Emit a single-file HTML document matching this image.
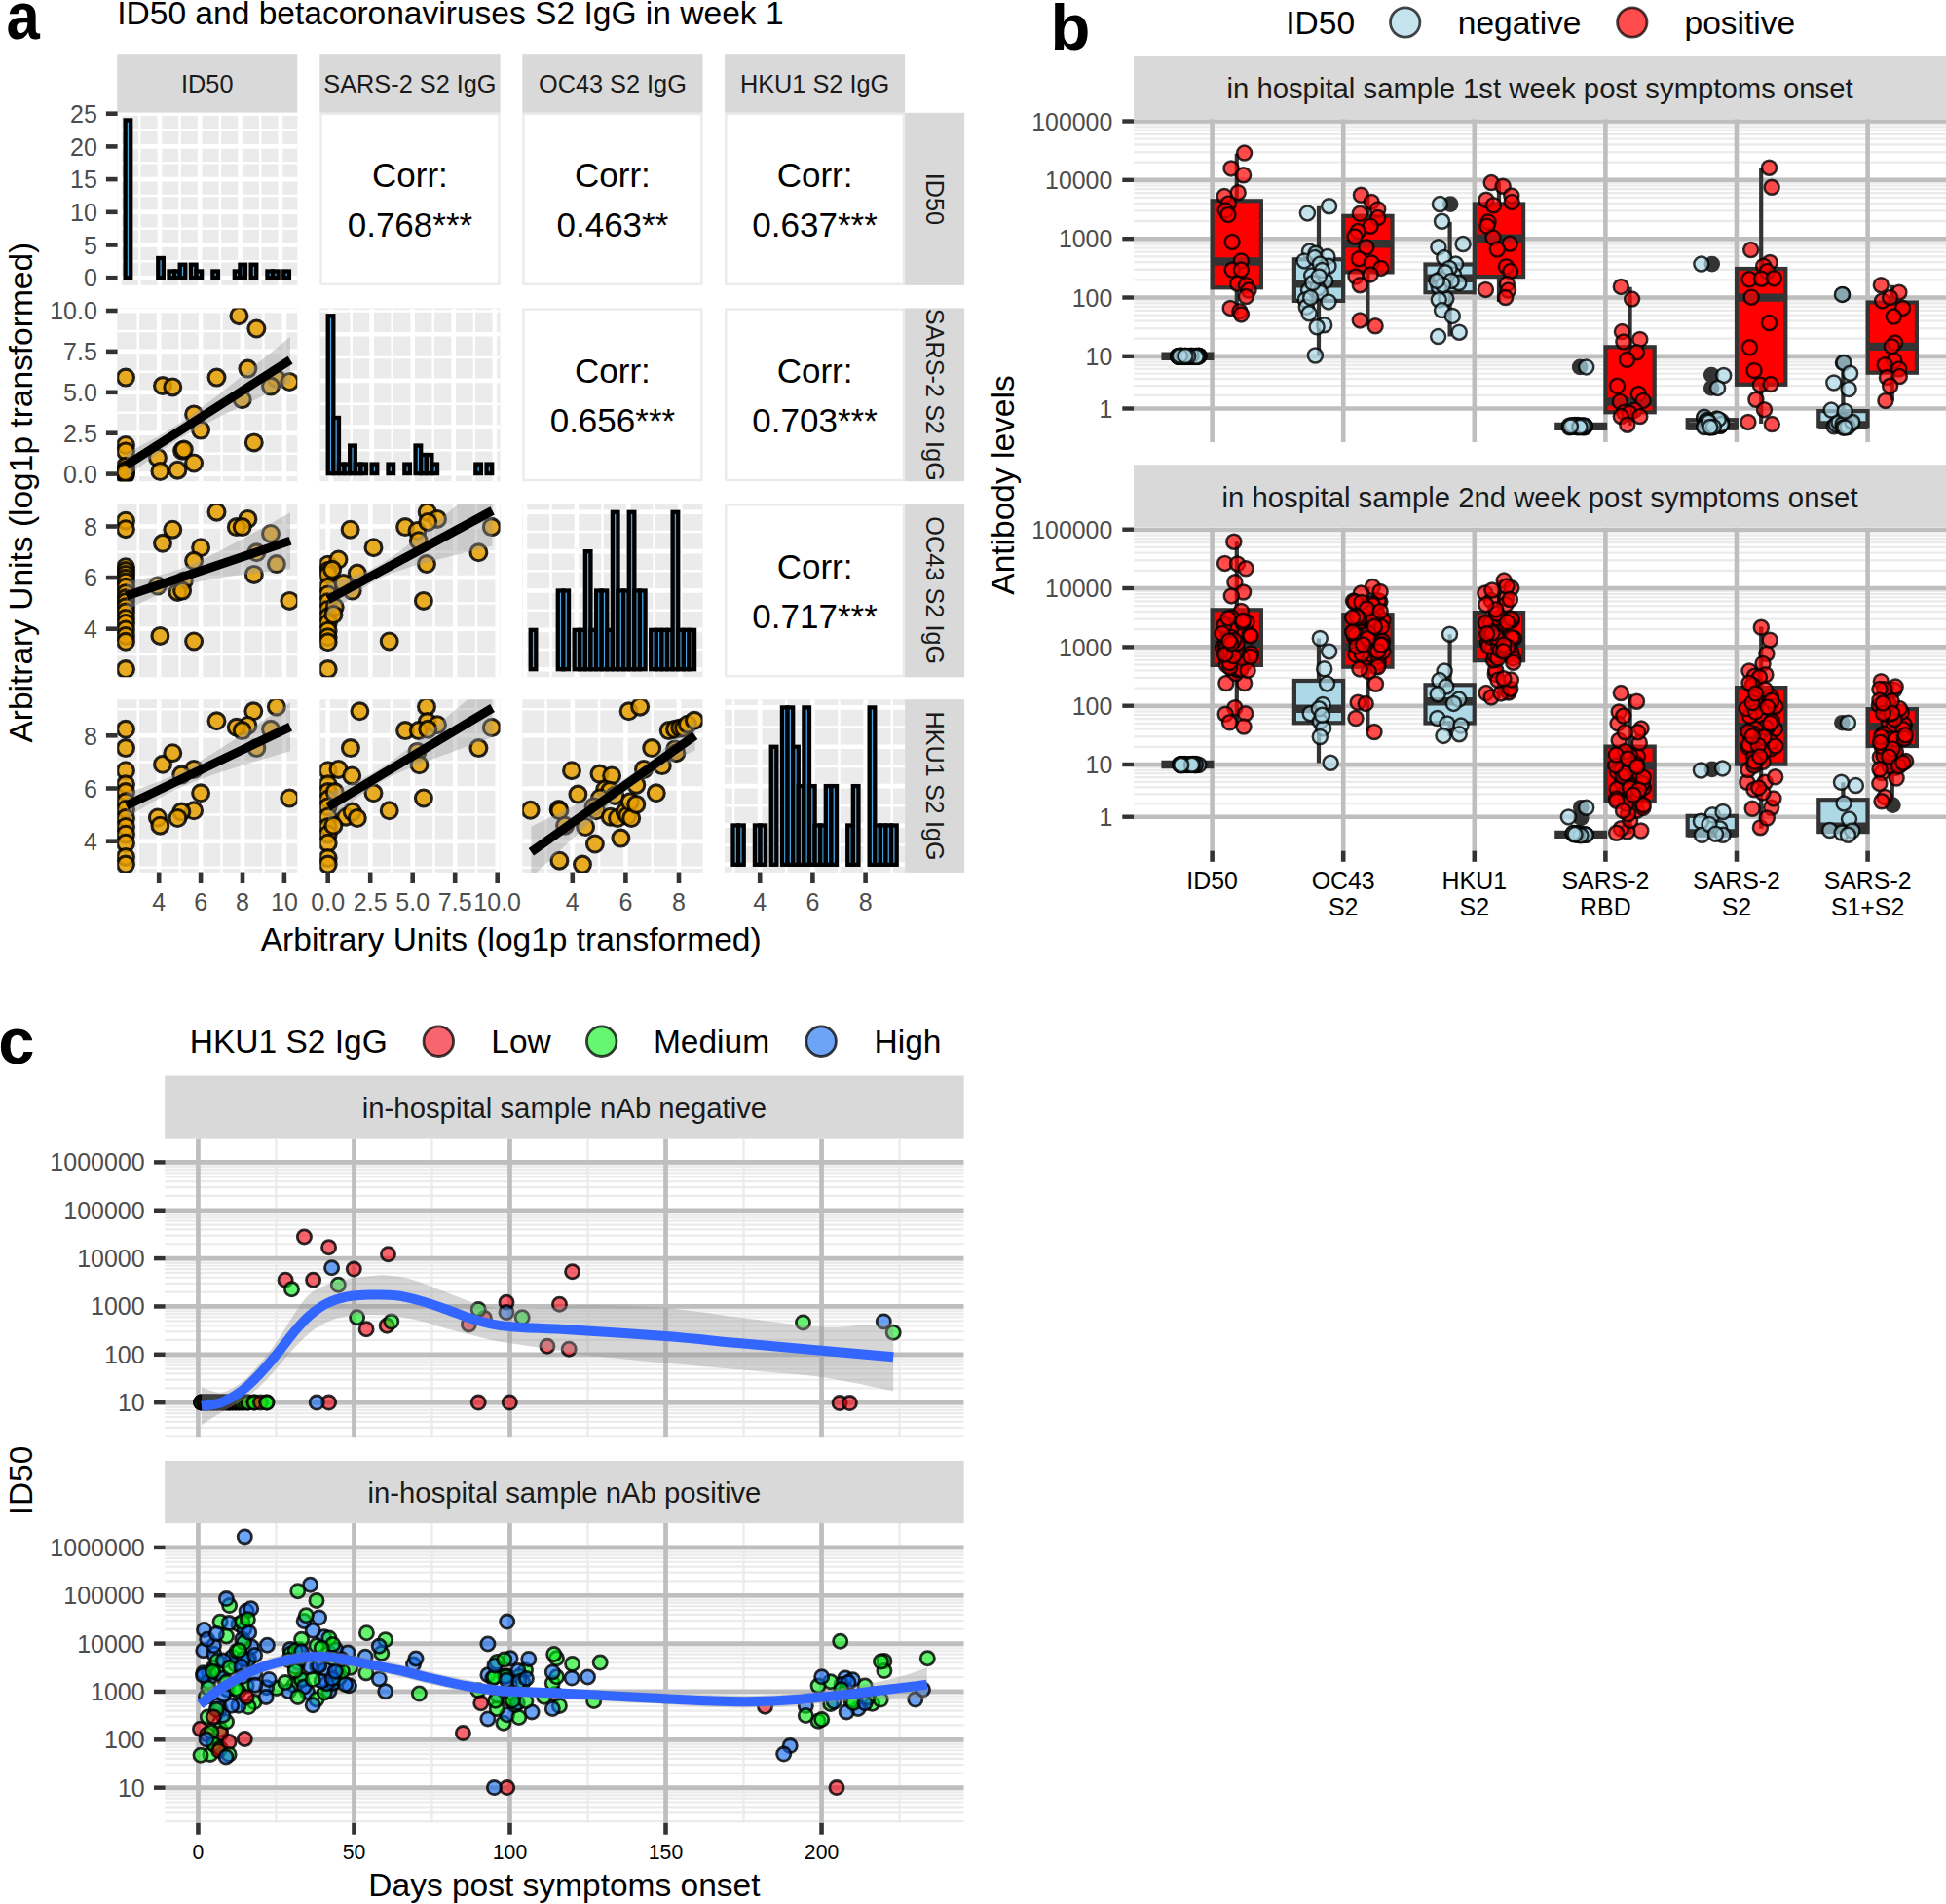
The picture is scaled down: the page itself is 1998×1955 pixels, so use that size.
<!DOCTYPE html>
<html><head><meta charset="utf-8"><title>Figure</title>
<style>html,body{margin:0;padding:0;background:#fff}svg{display:block}text{font-family:"Liberation Sans",sans-serif}</style>
</head><body>
<svg width="1998" height="1955" viewBox="0 0 1998 1955">
<rect width="1998" height="1955" fill="#fff"/>
<text transform="translate(6.6,40.2) scale(0.9,1)" font-size="68.5" font-weight="bold">a</text>
<text x="120.20" y="24.90" font-size="33.55" fill="#000" text-anchor="start" >ID50 and betacoronaviruses S2 IgG in week 1</text>
<rect x="120.20" y="55.20" width="185.10" height="60.60" fill="#D9D9D9" />
<text x="212.75" y="95.30" font-size="25.3" fill="#1A1A1A" text-anchor="middle" >ID50</text>
<rect x="328.30" y="55.20" width="185.30" height="60.60" fill="#D9D9D9" />
<text x="420.95" y="95.30" font-size="25.3" fill="#1A1A1A" text-anchor="middle" >SARS-2 S2 IgG</text>
<rect x="536.30" y="55.20" width="185.20" height="60.60" fill="#D9D9D9" />
<text x="628.90" y="95.30" font-size="25.3" fill="#1A1A1A" text-anchor="middle" >OC43 S2 IgG</text>
<rect x="744.10" y="55.20" width="185.00" height="60.60" fill="#D9D9D9" />
<text x="836.60" y="95.30" font-size="25.3" fill="#1A1A1A" text-anchor="middle" >HKU1 S2 IgG</text>
<rect x="929.10" y="115.80" width="61.00" height="177.10" fill="#D9D9D9" />
<text x="950.50" y="204.35" font-size="25.3" fill="#1A1A1A" text-anchor="middle" transform="rotate(90 950.50 204.35)" >ID50</text>
<rect x="929.10" y="316.40" width="61.00" height="177.80" fill="#D9D9D9" />
<text x="950.50" y="405.30" font-size="25.3" fill="#1A1A1A" text-anchor="middle" transform="rotate(90 950.50 405.30)" >SARS-2 S2 IgG</text>
<rect x="929.10" y="517.20" width="61.00" height="178.10" fill="#D9D9D9" />
<text x="950.50" y="606.25" font-size="25.3" fill="#1A1A1A" text-anchor="middle" transform="rotate(90 950.50 606.25)" >OC43 S2 IgG</text>
<rect x="929.10" y="718.20" width="61.00" height="177.70" fill="#D9D9D9" />
<text x="950.50" y="807.05" font-size="25.3" fill="#1A1A1A" text-anchor="middle" transform="rotate(90 950.50 807.05)" >HKU1 S2 IgG</text>
<rect x="120.20" y="115.80" width="185.10" height="177.10" fill="#EBEBEB" />
<clipPath id="c1"><rect x="120.20" y="115.80" width="185.10" height="177.10"/></clipPath><g clip-path="url(#c1)">
<line x1="143.24" y1="115.80" x2="143.24" y2="292.90" stroke="#fff" stroke-width="2.5" />
<line x1="184.56" y1="115.80" x2="184.56" y2="292.90" stroke="#fff" stroke-width="2.5" />
<line x1="225.88" y1="115.80" x2="225.88" y2="292.90" stroke="#fff" stroke-width="2.5" />
<line x1="267.20" y1="115.80" x2="267.20" y2="292.90" stroke="#fff" stroke-width="2.5" />
<line x1="122.58" y1="115.80" x2="122.58" y2="292.90" stroke="#fff" stroke-width="4.6" />
<line x1="163.90" y1="115.80" x2="163.90" y2="292.90" stroke="#fff" stroke-width="4.6" />
<line x1="205.22" y1="115.80" x2="205.22" y2="292.90" stroke="#fff" stroke-width="4.6" />
<line x1="246.54" y1="115.80" x2="246.54" y2="292.90" stroke="#fff" stroke-width="4.6" />
<line x1="287.86" y1="115.80" x2="287.86" y2="292.90" stroke="#fff" stroke-width="4.6" />
<line x1="120.20" y1="268.35" x2="305.30" y2="268.35" stroke="#fff" stroke-width="2.5" />
<line x1="120.20" y1="234.65" x2="305.30" y2="234.65" stroke="#fff" stroke-width="2.5" />
<line x1="120.20" y1="200.95" x2="305.30" y2="200.95" stroke="#fff" stroke-width="2.5" />
<line x1="120.20" y1="167.25" x2="305.30" y2="167.25" stroke="#fff" stroke-width="2.5" />
<line x1="120.20" y1="133.55" x2="305.30" y2="133.55" stroke="#fff" stroke-width="2.5" />
<line x1="120.20" y1="285.20" x2="305.30" y2="285.20" stroke="#fff" stroke-width="4.6" />
<line x1="120.20" y1="251.50" x2="305.30" y2="251.50" stroke="#fff" stroke-width="4.6" />
<line x1="120.20" y1="217.80" x2="305.30" y2="217.80" stroke="#fff" stroke-width="4.6" />
<line x1="120.20" y1="184.10" x2="305.30" y2="184.10" stroke="#fff" stroke-width="4.6" />
<line x1="120.20" y1="150.40" x2="305.30" y2="150.40" stroke="#fff" stroke-width="4.6" />
<line x1="120.20" y1="116.70" x2="305.30" y2="116.70" stroke="#fff" stroke-width="4.6" />
<rect x="128.61" y="123.44" width="5.61" height="161.76" fill="#4AA3DF" stroke="#000" stroke-width="4.3"/>
<rect x="162.27" y="264.98" width="5.61" height="20.22" fill="#4AA3DF" stroke="#000" stroke-width="4.3"/>
<rect x="173.49" y="278.46" width="5.61" height="6.74" fill="#4AA3DF" stroke="#000" stroke-width="4.3"/>
<rect x="179.10" y="278.46" width="5.61" height="6.74" fill="#4AA3DF" stroke="#000" stroke-width="4.3"/>
<rect x="184.70" y="271.72" width="5.61" height="13.48" fill="#4AA3DF" stroke="#000" stroke-width="4.3"/>
<rect x="195.92" y="271.72" width="5.61" height="13.48" fill="#4AA3DF" stroke="#000" stroke-width="4.3"/>
<rect x="201.53" y="278.46" width="5.61" height="6.74" fill="#4AA3DF" stroke="#000" stroke-width="4.3"/>
<rect x="218.36" y="278.46" width="5.61" height="6.74" fill="#4AA3DF" stroke="#000" stroke-width="4.3"/>
<rect x="240.80" y="278.46" width="5.61" height="6.74" fill="#4AA3DF" stroke="#000" stroke-width="4.3"/>
<rect x="246.40" y="271.72" width="5.61" height="13.48" fill="#4AA3DF" stroke="#000" stroke-width="4.3"/>
<rect x="257.62" y="271.72" width="5.61" height="13.48" fill="#4AA3DF" stroke="#000" stroke-width="4.3"/>
<rect x="274.45" y="278.46" width="5.61" height="6.74" fill="#4AA3DF" stroke="#000" stroke-width="4.3"/>
<rect x="280.06" y="278.46" width="5.61" height="6.74" fill="#4AA3DF" stroke="#000" stroke-width="4.3"/>
<rect x="291.28" y="278.46" width="5.61" height="6.74" fill="#4AA3DF" stroke="#000" stroke-width="4.3"/>
</g>
<rect x="329.50" y="117.00" width="182.90" height="174.70" fill="#fff" stroke="#EBEBEB" stroke-width="2.4"/>
<text x="420.95" y="191.80" font-size="35" fill="#000" text-anchor="middle" >Corr:</text>
<text x="420.95" y="242.81" font-size="35" fill="#000" text-anchor="middle" >0.768***</text>
<rect x="537.50" y="117.00" width="182.80" height="174.70" fill="#fff" stroke="#EBEBEB" stroke-width="2.4"/>
<text x="628.90" y="191.80" font-size="35" fill="#000" text-anchor="middle" >Corr:</text>
<text x="628.90" y="242.81" font-size="35" fill="#000" text-anchor="middle" >0.463**</text>
<rect x="745.30" y="117.00" width="182.60" height="174.70" fill="#fff" stroke="#EBEBEB" stroke-width="2.4"/>
<text x="836.60" y="191.80" font-size="35" fill="#000" text-anchor="middle" >Corr:</text>
<text x="836.60" y="242.81" font-size="35" fill="#000" text-anchor="middle" >0.637***</text>
<rect x="120.20" y="316.40" width="185.10" height="177.80" fill="#EBEBEB" />
<clipPath id="c2"><rect x="120.20" y="316.40" width="185.10" height="177.80"/></clipPath><g clip-path="url(#c2)">
<line x1="141.75" y1="316.40" x2="141.75" y2="494.20" stroke="#fff" stroke-width="2.5" />
<line x1="184.65" y1="316.40" x2="184.65" y2="494.20" stroke="#fff" stroke-width="2.5" />
<line x1="227.55" y1="316.40" x2="227.55" y2="494.20" stroke="#fff" stroke-width="2.5" />
<line x1="270.45" y1="316.40" x2="270.45" y2="494.20" stroke="#fff" stroke-width="2.5" />
<line x1="163.20" y1="316.40" x2="163.20" y2="494.20" stroke="#fff" stroke-width="4.6" />
<line x1="206.10" y1="316.40" x2="206.10" y2="494.20" stroke="#fff" stroke-width="4.6" />
<line x1="249.00" y1="316.40" x2="249.00" y2="494.20" stroke="#fff" stroke-width="4.6" />
<line x1="291.90" y1="316.40" x2="291.90" y2="494.20" stroke="#fff" stroke-width="4.6" />
<line x1="120.20" y1="465.65" x2="305.30" y2="465.65" stroke="#fff" stroke-width="2.5" />
<line x1="120.20" y1="423.75" x2="305.30" y2="423.75" stroke="#fff" stroke-width="2.5" />
<line x1="120.20" y1="381.85" x2="305.30" y2="381.85" stroke="#fff" stroke-width="2.5" />
<line x1="120.20" y1="339.95" x2="305.30" y2="339.95" stroke="#fff" stroke-width="2.5" />
<line x1="120.20" y1="486.60" x2="305.30" y2="486.60" stroke="#fff" stroke-width="4.6" />
<line x1="120.20" y1="444.70" x2="305.30" y2="444.70" stroke="#fff" stroke-width="4.6" />
<line x1="120.20" y1="402.80" x2="305.30" y2="402.80" stroke="#fff" stroke-width="4.6" />
<line x1="120.20" y1="360.90" x2="305.30" y2="360.90" stroke="#fff" stroke-width="4.6" />
<line x1="120.20" y1="319.00" x2="305.30" y2="319.00" stroke="#fff" stroke-width="4.6" />
<circle cx="129.0" cy="387.6" r="8.45" fill="#E69F00" fill-opacity="0.85" stroke="#000" stroke-opacity="0.85" stroke-width="3.1"/>
<circle cx="167.0" cy="396.1" r="8.45" fill="#E69F00" fill-opacity="0.85" stroke="#000" stroke-opacity="0.85" stroke-width="3.1"/>
<circle cx="177.3" cy="397.4" r="8.45" fill="#E69F00" fill-opacity="0.85" stroke="#000" stroke-opacity="0.85" stroke-width="3.1"/>
<circle cx="222.5" cy="387.6" r="8.45" fill="#E69F00" fill-opacity="0.85" stroke="#000" stroke-opacity="0.85" stroke-width="3.1"/>
<circle cx="245.4" cy="324.2" r="8.45" fill="#E69F00" fill-opacity="0.85" stroke="#000" stroke-opacity="0.85" stroke-width="3.1"/>
<circle cx="263.4" cy="337.5" r="8.45" fill="#E69F00" fill-opacity="0.85" stroke="#000" stroke-opacity="0.85" stroke-width="3.1"/>
<circle cx="254.4" cy="378.6" r="8.45" fill="#E69F00" fill-opacity="0.85" stroke="#000" stroke-opacity="0.85" stroke-width="3.1"/>
<circle cx="283.9" cy="388.9" r="8.45" fill="#E69F00" fill-opacity="0.85" stroke="#000" stroke-opacity="0.85" stroke-width="3.1"/>
<circle cx="278.0" cy="396.6" r="8.45" fill="#E69F00" fill-opacity="0.85" stroke="#000" stroke-opacity="0.85" stroke-width="3.1"/>
<circle cx="297.3" cy="392.0" r="8.45" fill="#E69F00" fill-opacity="0.85" stroke="#000" stroke-opacity="0.85" stroke-width="3.1"/>
<circle cx="248.7" cy="410.2" r="8.45" fill="#E69F00" fill-opacity="0.85" stroke="#000" stroke-opacity="0.85" stroke-width="3.1"/>
<circle cx="199.1" cy="425.4" r="8.45" fill="#E69F00" fill-opacity="0.85" stroke="#000" stroke-opacity="0.85" stroke-width="3.1"/>
<circle cx="206.1" cy="441.6" r="8.45" fill="#E69F00" fill-opacity="0.85" stroke="#000" stroke-opacity="0.85" stroke-width="3.1"/>
<circle cx="260.8" cy="454.4" r="8.45" fill="#E69F00" fill-opacity="0.85" stroke="#000" stroke-opacity="0.85" stroke-width="3.1"/>
<circle cx="129.0" cy="457.0" r="8.45" fill="#E69F00" fill-opacity="0.85" stroke="#000" stroke-opacity="0.85" stroke-width="3.1"/>
<circle cx="129.0" cy="463.4" r="8.45" fill="#E69F00" fill-opacity="0.85" stroke="#000" stroke-opacity="0.85" stroke-width="3.1"/>
<circle cx="187.1" cy="462.7" r="8.45" fill="#E69F00" fill-opacity="0.85" stroke="#000" stroke-opacity="0.85" stroke-width="3.1"/>
<circle cx="188.8" cy="461.6" r="8.45" fill="#E69F00" fill-opacity="0.85" stroke="#000" stroke-opacity="0.85" stroke-width="3.1"/>
<circle cx="161.9" cy="469.9" r="8.45" fill="#E69F00" fill-opacity="0.85" stroke="#000" stroke-opacity="0.85" stroke-width="3.1"/>
<circle cx="199.1" cy="475.5" r="8.45" fill="#E69F00" fill-opacity="0.85" stroke="#000" stroke-opacity="0.85" stroke-width="3.1"/>
<circle cx="164.4" cy="484.0" r="8.45" fill="#E69F00" fill-opacity="0.85" stroke="#000" stroke-opacity="0.85" stroke-width="3.1"/>
<circle cx="182.4" cy="482.7" r="8.45" fill="#E69F00" fill-opacity="0.85" stroke="#000" stroke-opacity="0.85" stroke-width="3.1"/>
<circle cx="129.0" cy="478.8" r="8.45" fill="#E69F00" fill-opacity="0.85" stroke="#000" stroke-opacity="0.85" stroke-width="3.1"/>
<circle cx="129.0" cy="482.7" r="8.45" fill="#E69F00" fill-opacity="0.85" stroke="#000" stroke-opacity="0.85" stroke-width="3.1"/>
<circle cx="128.5" cy="485.8" r="8.45" fill="#E69F00" fill-opacity="0.85" stroke="#000" stroke-opacity="0.85" stroke-width="3.1"/>
<circle cx="128.5" cy="487.8" r="8.45" fill="#E69F00" fill-opacity="0.85" stroke="#000" stroke-opacity="0.85" stroke-width="3.1"/>
<circle cx="129.0" cy="486.6" r="8.45" fill="#E69F00" fill-opacity="0.85" stroke="#000" stroke-opacity="0.85" stroke-width="3.1"/>
<circle cx="128.5" cy="484.8" r="8.45" fill="#E69F00" fill-opacity="0.85" stroke="#000" stroke-opacity="0.85" stroke-width="3.1"/>
<polygon points="129.8,465.0 136.8,461.5 143.8,457.9 150.8,454.3 157.8,450.5 164.8,446.6 171.8,442.4 178.8,438.1 185.9,433.5 192.9,428.7 199.9,423.8 206.9,418.6 213.9,413.3 220.9,407.9 227.9,402.5 234.9,396.9 241.9,391.3 249.0,385.7 256.0,380.0 263.0,374.3 270.0,368.6 277.0,362.9 284.0,357.2 291.0,351.4 298.0,345.7 298.0,393.7 291.0,396.9 284.0,400.1 277.0,403.4 270.0,406.6 263.0,409.9 256.0,413.2 249.0,416.6 241.9,419.9 234.9,423.3 227.9,426.8 220.9,430.3 213.9,433.9 206.9,437.6 199.9,441.4 192.9,445.5 185.9,449.7 178.8,454.1 171.8,458.7 164.8,463.6 157.8,468.7 150.8,473.9 143.8,479.2 136.8,484.6 129.8,490.1" fill="#999" fill-opacity="0.4"/>
<line x1="129.75" y1="477.56" x2="298.05" y2="369.65" stroke="#000" stroke-width="9.2" />
</g>
<rect x="328.30" y="316.40" width="185.30" height="177.80" fill="#EBEBEB" />
<clipPath id="c3"><rect x="328.30" y="316.40" width="185.30" height="177.80"/></clipPath><g clip-path="url(#c3)">
<line x1="360.71" y1="316.40" x2="360.71" y2="494.20" stroke="#fff" stroke-width="2.5" />
<line x1="402.74" y1="316.40" x2="402.74" y2="494.20" stroke="#fff" stroke-width="2.5" />
<line x1="444.76" y1="316.40" x2="444.76" y2="494.20" stroke="#fff" stroke-width="2.5" />
<line x1="486.79" y1="316.40" x2="486.79" y2="494.20" stroke="#fff" stroke-width="2.5" />
<line x1="339.70" y1="316.40" x2="339.70" y2="494.20" stroke="#fff" stroke-width="4.6" />
<line x1="381.72" y1="316.40" x2="381.72" y2="494.20" stroke="#fff" stroke-width="4.6" />
<line x1="423.75" y1="316.40" x2="423.75" y2="494.20" stroke="#fff" stroke-width="4.6" />
<line x1="465.77" y1="316.40" x2="465.77" y2="494.20" stroke="#fff" stroke-width="4.6" />
<line x1="507.80" y1="316.40" x2="507.80" y2="494.20" stroke="#fff" stroke-width="4.6" />
<line x1="328.30" y1="462.30" x2="513.60" y2="462.30" stroke="#fff" stroke-width="2.5" />
<line x1="328.30" y1="414.70" x2="513.60" y2="414.70" stroke="#fff" stroke-width="2.5" />
<line x1="328.30" y1="367.10" x2="513.60" y2="367.10" stroke="#fff" stroke-width="2.5" />
<line x1="328.30" y1="319.50" x2="513.60" y2="319.50" stroke="#fff" stroke-width="2.5" />
<line x1="328.30" y1="486.10" x2="513.60" y2="486.10" stroke="#fff" stroke-width="4.6" />
<line x1="328.30" y1="438.50" x2="513.60" y2="438.50" stroke="#fff" stroke-width="4.6" />
<line x1="328.30" y1="390.90" x2="513.60" y2="390.90" stroke="#fff" stroke-width="4.6" />
<line x1="328.30" y1="343.30" x2="513.60" y2="343.30" stroke="#fff" stroke-width="4.6" />
<rect x="336.72" y="324.26" width="5.62" height="161.84" fill="#4AA3DF" stroke="#000" stroke-width="4.3"/>
<rect x="342.34" y="428.98" width="5.62" height="57.12" fill="#4AA3DF" stroke="#000" stroke-width="4.3"/>
<rect x="347.95" y="476.58" width="5.62" height="9.52" fill="#4AA3DF" stroke="#000" stroke-width="4.3"/>
<rect x="353.57" y="476.58" width="5.62" height="9.52" fill="#4AA3DF" stroke="#000" stroke-width="4.3"/>
<rect x="359.18" y="457.54" width="5.62" height="28.56" fill="#4AA3DF" stroke="#000" stroke-width="4.3"/>
<rect x="364.80" y="476.58" width="5.62" height="9.52" fill="#4AA3DF" stroke="#000" stroke-width="4.3"/>
<rect x="370.41" y="476.58" width="5.62" height="9.52" fill="#4AA3DF" stroke="#000" stroke-width="4.3"/>
<rect x="381.64" y="476.58" width="5.62" height="9.52" fill="#4AA3DF" stroke="#000" stroke-width="4.3"/>
<rect x="398.49" y="476.58" width="5.62" height="9.52" fill="#4AA3DF" stroke="#000" stroke-width="4.3"/>
<rect x="415.33" y="476.58" width="5.62" height="9.52" fill="#4AA3DF" stroke="#000" stroke-width="4.3"/>
<rect x="426.57" y="457.54" width="5.62" height="28.56" fill="#4AA3DF" stroke="#000" stroke-width="4.3"/>
<rect x="432.18" y="467.06" width="5.62" height="19.04" fill="#4AA3DF" stroke="#000" stroke-width="4.3"/>
<rect x="437.80" y="467.06" width="5.62" height="19.04" fill="#4AA3DF" stroke="#000" stroke-width="4.3"/>
<rect x="443.41" y="476.58" width="5.62" height="9.52" fill="#4AA3DF" stroke="#000" stroke-width="4.3"/>
<rect x="488.33" y="476.58" width="5.62" height="9.52" fill="#4AA3DF" stroke="#000" stroke-width="4.3"/>
<rect x="499.56" y="476.58" width="5.62" height="9.52" fill="#4AA3DF" stroke="#000" stroke-width="4.3"/>
</g>
<rect x="537.50" y="317.60" width="182.80" height="175.40" fill="#fff" stroke="#EBEBEB" stroke-width="2.4"/>
<text x="628.90" y="392.65" font-size="35" fill="#000" text-anchor="middle" >Corr:</text>
<text x="628.90" y="443.86" font-size="35" fill="#000" text-anchor="middle" >0.656***</text>
<rect x="745.30" y="317.60" width="182.60" height="175.40" fill="#fff" stroke="#EBEBEB" stroke-width="2.4"/>
<text x="836.60" y="392.65" font-size="35" fill="#000" text-anchor="middle" >Corr:</text>
<text x="836.60" y="443.86" font-size="35" fill="#000" text-anchor="middle" >0.703***</text>
<rect x="120.20" y="517.20" width="185.10" height="178.10" fill="#EBEBEB" />
<clipPath id="c4"><rect x="120.20" y="517.20" width="185.10" height="178.10"/></clipPath><g clip-path="url(#c4)">
<line x1="141.75" y1="517.20" x2="141.75" y2="695.30" stroke="#fff" stroke-width="2.5" />
<line x1="184.65" y1="517.20" x2="184.65" y2="695.30" stroke="#fff" stroke-width="2.5" />
<line x1="227.55" y1="517.20" x2="227.55" y2="695.30" stroke="#fff" stroke-width="2.5" />
<line x1="270.45" y1="517.20" x2="270.45" y2="695.30" stroke="#fff" stroke-width="2.5" />
<line x1="163.20" y1="517.20" x2="163.20" y2="695.30" stroke="#fff" stroke-width="4.6" />
<line x1="206.10" y1="517.20" x2="206.10" y2="695.30" stroke="#fff" stroke-width="4.6" />
<line x1="249.00" y1="517.20" x2="249.00" y2="695.30" stroke="#fff" stroke-width="4.6" />
<line x1="291.90" y1="517.20" x2="291.90" y2="695.30" stroke="#fff" stroke-width="4.6" />
<line x1="120.20" y1="672.00" x2="305.30" y2="672.00" stroke="#fff" stroke-width="2.5" />
<line x1="120.20" y1="619.40" x2="305.30" y2="619.40" stroke="#fff" stroke-width="2.5" />
<line x1="120.20" y1="566.80" x2="305.30" y2="566.80" stroke="#fff" stroke-width="2.5" />
<line x1="120.20" y1="645.70" x2="305.30" y2="645.70" stroke="#fff" stroke-width="4.6" />
<line x1="120.20" y1="593.10" x2="305.30" y2="593.10" stroke="#fff" stroke-width="4.6" />
<line x1="120.20" y1="540.50" x2="305.30" y2="540.50" stroke="#fff" stroke-width="4.6" />
<circle cx="129.0" cy="534.7" r="8.45" fill="#E69F00" fill-opacity="0.85" stroke="#000" stroke-opacity="0.85" stroke-width="3.1"/>
<circle cx="129.0" cy="543.2" r="8.45" fill="#E69F00" fill-opacity="0.85" stroke="#000" stroke-opacity="0.85" stroke-width="3.1"/>
<circle cx="167.0" cy="557.8" r="8.45" fill="#E69F00" fill-opacity="0.85" stroke="#000" stroke-opacity="0.85" stroke-width="3.1"/>
<circle cx="177.3" cy="543.7" r="8.45" fill="#E69F00" fill-opacity="0.85" stroke="#000" stroke-opacity="0.85" stroke-width="3.1"/>
<circle cx="222.5" cy="525.7" r="8.45" fill="#E69F00" fill-opacity="0.85" stroke="#000" stroke-opacity="0.85" stroke-width="3.1"/>
<circle cx="254.4" cy="532.9" r="8.45" fill="#E69F00" fill-opacity="0.85" stroke="#000" stroke-opacity="0.85" stroke-width="3.1"/>
<circle cx="242.8" cy="541.1" r="8.45" fill="#E69F00" fill-opacity="0.85" stroke="#000" stroke-opacity="0.85" stroke-width="3.1"/>
<circle cx="248.7" cy="541.1" r="8.45" fill="#E69F00" fill-opacity="0.85" stroke="#000" stroke-opacity="0.85" stroke-width="3.1"/>
<circle cx="278.0" cy="548.0" r="8.45" fill="#E69F00" fill-opacity="0.85" stroke="#000" stroke-opacity="0.85" stroke-width="3.1"/>
<circle cx="206.1" cy="562.2" r="8.45" fill="#E69F00" fill-opacity="0.85" stroke="#000" stroke-opacity="0.85" stroke-width="3.1"/>
<circle cx="199.1" cy="575.8" r="8.45" fill="#E69F00" fill-opacity="0.85" stroke="#000" stroke-opacity="0.85" stroke-width="3.1"/>
<circle cx="263.4" cy="567.3" r="8.45" fill="#E69F00" fill-opacity="0.85" stroke="#000" stroke-opacity="0.85" stroke-width="3.1"/>
<circle cx="283.9" cy="579.1" r="8.45" fill="#E69F00" fill-opacity="0.85" stroke="#000" stroke-opacity="0.85" stroke-width="3.1"/>
<circle cx="260.8" cy="589.9" r="8.45" fill="#E69F00" fill-opacity="0.85" stroke="#000" stroke-opacity="0.85" stroke-width="3.1"/>
<circle cx="297.3" cy="616.9" r="8.45" fill="#E69F00" fill-opacity="0.85" stroke="#000" stroke-opacity="0.85" stroke-width="3.1"/>
<circle cx="161.9" cy="601.5" r="8.45" fill="#E69F00" fill-opacity="0.85" stroke="#000" stroke-opacity="0.85" stroke-width="3.1"/>
<circle cx="188.8" cy="596.4" r="8.45" fill="#E69F00" fill-opacity="0.85" stroke="#000" stroke-opacity="0.85" stroke-width="3.1"/>
<circle cx="182.4" cy="607.9" r="8.45" fill="#E69F00" fill-opacity="0.85" stroke="#000" stroke-opacity="0.85" stroke-width="3.1"/>
<circle cx="187.1" cy="606.6" r="8.45" fill="#E69F00" fill-opacity="0.85" stroke="#000" stroke-opacity="0.85" stroke-width="3.1"/>
<circle cx="164.4" cy="652.9" r="8.45" fill="#E69F00" fill-opacity="0.85" stroke="#000" stroke-opacity="0.85" stroke-width="3.1"/>
<circle cx="199.1" cy="658.5" r="8.45" fill="#E69F00" fill-opacity="0.85" stroke="#000" stroke-opacity="0.85" stroke-width="3.1"/>
<circle cx="129.0" cy="687.1" r="8.45" fill="#E69F00" fill-opacity="0.85" stroke="#000" stroke-opacity="0.85" stroke-width="3.1"/>
<circle cx="129.0" cy="582.2" r="8.45" fill="#E69F00" fill-opacity="0.85" stroke="#000" stroke-opacity="0.85" stroke-width="3.1"/>
<circle cx="129.0" cy="586.1" r="8.45" fill="#E69F00" fill-opacity="0.85" stroke="#000" stroke-opacity="0.85" stroke-width="3.1"/>
<circle cx="129.0" cy="589.9" r="8.45" fill="#E69F00" fill-opacity="0.85" stroke="#000" stroke-opacity="0.85" stroke-width="3.1"/>
<circle cx="129.0" cy="593.8" r="8.45" fill="#E69F00" fill-opacity="0.85" stroke="#000" stroke-opacity="0.85" stroke-width="3.1"/>
<circle cx="129.0" cy="597.6" r="8.45" fill="#E69F00" fill-opacity="0.85" stroke="#000" stroke-opacity="0.85" stroke-width="3.1"/>
<circle cx="129.0" cy="602.8" r="8.45" fill="#E69F00" fill-opacity="0.85" stroke="#000" stroke-opacity="0.85" stroke-width="3.1"/>
<circle cx="129.0" cy="609.2" r="8.45" fill="#E69F00" fill-opacity="0.85" stroke="#000" stroke-opacity="0.85" stroke-width="3.1"/>
<circle cx="129.0" cy="614.3" r="8.45" fill="#E69F00" fill-opacity="0.85" stroke="#000" stroke-opacity="0.85" stroke-width="3.1"/>
<circle cx="129.0" cy="618.2" r="8.45" fill="#E69F00" fill-opacity="0.85" stroke="#000" stroke-opacity="0.85" stroke-width="3.1"/>
<circle cx="129.0" cy="623.3" r="8.45" fill="#E69F00" fill-opacity="0.85" stroke="#000" stroke-opacity="0.85" stroke-width="3.1"/>
<circle cx="129.0" cy="628.5" r="8.45" fill="#E69F00" fill-opacity="0.85" stroke="#000" stroke-opacity="0.85" stroke-width="3.1"/>
<circle cx="129.0" cy="634.9" r="8.45" fill="#E69F00" fill-opacity="0.85" stroke="#000" stroke-opacity="0.85" stroke-width="3.1"/>
<circle cx="129.0" cy="640.0" r="8.45" fill="#E69F00" fill-opacity="0.85" stroke="#000" stroke-opacity="0.85" stroke-width="3.1"/>
<circle cx="129.0" cy="646.5" r="8.45" fill="#E69F00" fill-opacity="0.85" stroke="#000" stroke-opacity="0.85" stroke-width="3.1"/>
<circle cx="129.0" cy="652.9" r="8.45" fill="#E69F00" fill-opacity="0.85" stroke="#000" stroke-opacity="0.85" stroke-width="3.1"/>
<circle cx="129.0" cy="658.8" r="8.45" fill="#E69F00" fill-opacity="0.85" stroke="#000" stroke-opacity="0.85" stroke-width="3.1"/>
<polygon points="129.8,596.9 136.8,595.8 143.8,594.7 150.8,593.4 157.8,591.9 164.8,590.3 171.8,588.4 178.8,586.3 185.9,583.8 192.9,581.1 199.9,578.1 206.9,574.9 213.9,571.5 220.9,568.1 227.9,564.5 234.9,560.8 241.9,557.1 249.0,553.3 256.0,549.5 263.0,545.7 270.0,541.8 277.0,537.9 284.0,534.1 291.0,530.2 298.0,526.2 298.0,584.2 291.0,585.0 284.0,585.9 277.0,586.7 270.0,587.5 263.0,588.4 256.0,589.2 249.0,590.2 241.9,591.1 234.9,592.1 227.9,593.1 220.9,594.2 213.9,595.5 206.9,596.8 199.9,598.3 192.9,600.0 185.9,602.0 178.8,604.3 171.8,606.8 164.8,609.7 157.8,612.8 150.8,616.0 143.8,619.5 136.8,623.0 129.8,626.6" fill="#999" fill-opacity="0.4"/>
<line x1="129.75" y1="611.77" x2="298.05" y2="555.24" stroke="#000" stroke-width="9.2" />
</g>
<rect x="328.30" y="517.20" width="185.30" height="178.10" fill="#EBEBEB" />
<clipPath id="c5"><rect x="328.30" y="517.20" width="185.30" height="178.10"/></clipPath><g clip-path="url(#c5)">
<line x1="358.45" y1="517.20" x2="358.45" y2="695.30" stroke="#fff" stroke-width="2.5" />
<line x1="401.95" y1="517.20" x2="401.95" y2="695.30" stroke="#fff" stroke-width="2.5" />
<line x1="445.45" y1="517.20" x2="445.45" y2="695.30" stroke="#fff" stroke-width="2.5" />
<line x1="488.95" y1="517.20" x2="488.95" y2="695.30" stroke="#fff" stroke-width="2.5" />
<line x1="336.70" y1="517.20" x2="336.70" y2="695.30" stroke="#fff" stroke-width="4.6" />
<line x1="380.20" y1="517.20" x2="380.20" y2="695.30" stroke="#fff" stroke-width="4.6" />
<line x1="423.70" y1="517.20" x2="423.70" y2="695.30" stroke="#fff" stroke-width="4.6" />
<line x1="467.20" y1="517.20" x2="467.20" y2="695.30" stroke="#fff" stroke-width="4.6" />
<line x1="510.70" y1="517.20" x2="510.70" y2="695.30" stroke="#fff" stroke-width="4.6" />
<line x1="328.30" y1="672.00" x2="513.60" y2="672.00" stroke="#fff" stroke-width="2.5" />
<line x1="328.30" y1="619.40" x2="513.60" y2="619.40" stroke="#fff" stroke-width="2.5" />
<line x1="328.30" y1="566.80" x2="513.60" y2="566.80" stroke="#fff" stroke-width="2.5" />
<line x1="328.30" y1="645.70" x2="513.60" y2="645.70" stroke="#fff" stroke-width="4.6" />
<line x1="328.30" y1="593.10" x2="513.60" y2="593.10" stroke="#fff" stroke-width="4.6" />
<line x1="328.30" y1="540.50" x2="513.60" y2="540.50" stroke="#fff" stroke-width="4.6" />
<circle cx="336.7" cy="579.7" r="8.45" fill="#E69F00" fill-opacity="0.85" stroke="#000" stroke-opacity="0.85" stroke-width="3.1"/>
<circle cx="336.7" cy="586.1" r="8.45" fill="#E69F00" fill-opacity="0.85" stroke="#000" stroke-opacity="0.85" stroke-width="3.1"/>
<circle cx="336.7" cy="589.9" r="8.45" fill="#E69F00" fill-opacity="0.85" stroke="#000" stroke-opacity="0.85" stroke-width="3.1"/>
<circle cx="336.7" cy="602.8" r="8.45" fill="#E69F00" fill-opacity="0.85" stroke="#000" stroke-opacity="0.85" stroke-width="3.1"/>
<circle cx="336.7" cy="610.5" r="8.45" fill="#E69F00" fill-opacity="0.85" stroke="#000" stroke-opacity="0.85" stroke-width="3.1"/>
<circle cx="336.7" cy="618.2" r="8.45" fill="#E69F00" fill-opacity="0.85" stroke="#000" stroke-opacity="0.85" stroke-width="3.1"/>
<circle cx="336.7" cy="625.9" r="8.45" fill="#E69F00" fill-opacity="0.85" stroke="#000" stroke-opacity="0.85" stroke-width="3.1"/>
<circle cx="336.7" cy="633.6" r="8.45" fill="#E69F00" fill-opacity="0.85" stroke="#000" stroke-opacity="0.85" stroke-width="3.1"/>
<circle cx="336.7" cy="640.0" r="8.45" fill="#E69F00" fill-opacity="0.85" stroke="#000" stroke-opacity="0.85" stroke-width="3.1"/>
<circle cx="336.7" cy="647.7" r="8.45" fill="#E69F00" fill-opacity="0.85" stroke="#000" stroke-opacity="0.85" stroke-width="3.1"/>
<circle cx="336.7" cy="654.2" r="8.45" fill="#E69F00" fill-opacity="0.85" stroke="#000" stroke-opacity="0.85" stroke-width="3.1"/>
<circle cx="336.7" cy="659.3" r="8.45" fill="#E69F00" fill-opacity="0.85" stroke="#000" stroke-opacity="0.85" stroke-width="3.1"/>
<circle cx="336.7" cy="687.1" r="8.45" fill="#E69F00" fill-opacity="0.85" stroke="#000" stroke-opacity="0.85" stroke-width="3.1"/>
<circle cx="347.5" cy="574.5" r="8.45" fill="#E69F00" fill-opacity="0.85" stroke="#000" stroke-opacity="0.85" stroke-width="3.1"/>
<circle cx="359.6" cy="543.7" r="8.45" fill="#E69F00" fill-opacity="0.85" stroke="#000" stroke-opacity="0.85" stroke-width="3.1"/>
<circle cx="383.5" cy="562.2" r="8.45" fill="#E69F00" fill-opacity="0.85" stroke="#000" stroke-opacity="0.85" stroke-width="3.1"/>
<circle cx="366.8" cy="588.6" r="8.45" fill="#E69F00" fill-opacity="0.85" stroke="#000" stroke-opacity="0.85" stroke-width="3.1"/>
<circle cx="361.7" cy="606.6" r="8.45" fill="#E69F00" fill-opacity="0.85" stroke="#000" stroke-opacity="0.85" stroke-width="3.1"/>
<circle cx="352.7" cy="598.9" r="8.45" fill="#E69F00" fill-opacity="0.85" stroke="#000" stroke-opacity="0.85" stroke-width="3.1"/>
<circle cx="416.1" cy="541.1" r="8.45" fill="#E69F00" fill-opacity="0.85" stroke="#000" stroke-opacity="0.85" stroke-width="3.1"/>
<circle cx="428.5" cy="545.0" r="8.45" fill="#E69F00" fill-opacity="0.85" stroke="#000" stroke-opacity="0.85" stroke-width="3.1"/>
<circle cx="429.8" cy="555.2" r="8.45" fill="#E69F00" fill-opacity="0.85" stroke="#000" stroke-opacity="0.85" stroke-width="3.1"/>
<circle cx="438.7" cy="525.7" r="8.45" fill="#E69F00" fill-opacity="0.85" stroke="#000" stroke-opacity="0.85" stroke-width="3.1"/>
<circle cx="449.0" cy="532.9" r="8.45" fill="#E69F00" fill-opacity="0.85" stroke="#000" stroke-opacity="0.85" stroke-width="3.1"/>
<circle cx="439.3" cy="536.0" r="8.45" fill="#E69F00" fill-opacity="0.85" stroke="#000" stroke-opacity="0.85" stroke-width="3.1"/>
<circle cx="438.0" cy="579.1" r="8.45" fill="#E69F00" fill-opacity="0.85" stroke="#000" stroke-opacity="0.85" stroke-width="3.1"/>
<circle cx="434.9" cy="616.9" r="8.45" fill="#E69F00" fill-opacity="0.85" stroke="#000" stroke-opacity="0.85" stroke-width="3.1"/>
<circle cx="399.7" cy="658.5" r="8.45" fill="#E69F00" fill-opacity="0.85" stroke="#000" stroke-opacity="0.85" stroke-width="3.1"/>
<circle cx="491.4" cy="567.3" r="8.45" fill="#E69F00" fill-opacity="0.85" stroke="#000" stroke-opacity="0.85" stroke-width="3.1"/>
<circle cx="504.8" cy="541.1" r="8.45" fill="#E69F00" fill-opacity="0.85" stroke="#000" stroke-opacity="0.85" stroke-width="3.1"/>
<circle cx="341.1" cy="584.8" r="8.45" fill="#E69F00" fill-opacity="0.85" stroke="#000" stroke-opacity="0.85" stroke-width="3.1"/>
<circle cx="343.7" cy="623.3" r="8.45" fill="#E69F00" fill-opacity="0.85" stroke="#000" stroke-opacity="0.85" stroke-width="3.1"/>
<circle cx="342.4" cy="631.0" r="8.45" fill="#E69F00" fill-opacity="0.85" stroke="#000" stroke-opacity="0.85" stroke-width="3.1"/>
<polygon points="336.7,598.9 343.8,597.0 350.8,595.0 357.8,593.0 364.9,590.7 371.9,588.2 378.9,585.4 386.0,582.0 393.0,578.0 400.0,573.5 407.1,568.5 414.1,563.2 421.1,557.7 428.2,552.2 435.2,546.5 442.2,540.8 449.3,535.0 456.3,529.3 463.3,523.5 470.4,517.6 477.4,511.8 484.4,506.0 491.5,500.1 498.5,494.3 505.5,488.4 505.5,560.4 498.5,562.2 491.5,563.9 484.4,565.7 477.4,567.4 470.4,569.2 463.3,571.0 456.3,572.8 449.3,574.6 442.2,576.4 435.2,578.3 428.2,580.3 421.1,582.3 414.1,584.4 407.1,586.8 400.0,589.4 393.0,592.4 386.0,596.0 378.9,600.3 371.9,605.0 364.9,610.1 357.8,615.5 350.8,621.0 343.8,626.6 336.7,632.3" fill="#999" fill-opacity="0.4"/>
<line x1="336.74" y1="615.62" x2="505.55" y2="524.41" stroke="#000" stroke-width="9.2" />
</g>
<rect x="536.30" y="517.20" width="185.20" height="178.10" fill="#EBEBEB" />
<clipPath id="c6"><rect x="536.30" y="517.20" width="185.20" height="178.10"/></clipPath><g clip-path="url(#c6)">
<line x1="565.45" y1="517.20" x2="565.45" y2="695.30" stroke="#fff" stroke-width="2.5" />
<line x1="618.55" y1="517.20" x2="618.55" y2="695.30" stroke="#fff" stroke-width="2.5" />
<line x1="671.65" y1="517.20" x2="671.65" y2="695.30" stroke="#fff" stroke-width="2.5" />
<line x1="538.90" y1="517.20" x2="538.90" y2="695.30" stroke="#fff" stroke-width="4.6" />
<line x1="592.00" y1="517.20" x2="592.00" y2="695.30" stroke="#fff" stroke-width="4.6" />
<line x1="645.10" y1="517.20" x2="645.10" y2="695.30" stroke="#fff" stroke-width="4.6" />
<line x1="698.20" y1="517.20" x2="698.20" y2="695.30" stroke="#fff" stroke-width="4.6" />
<line x1="536.30" y1="667.03" x2="721.50" y2="667.03" stroke="#fff" stroke-width="2.5" />
<line x1="536.30" y1="626.68" x2="721.50" y2="626.68" stroke="#fff" stroke-width="2.5" />
<line x1="536.30" y1="586.33" x2="721.50" y2="586.33" stroke="#fff" stroke-width="2.5" />
<line x1="536.30" y1="545.98" x2="721.50" y2="545.98" stroke="#fff" stroke-width="2.5" />
<line x1="536.30" y1="687.20" x2="721.50" y2="687.20" stroke="#fff" stroke-width="4.6" />
<line x1="536.30" y1="646.85" x2="721.50" y2="646.85" stroke="#fff" stroke-width="4.6" />
<line x1="536.30" y1="606.50" x2="721.50" y2="606.50" stroke="#fff" stroke-width="4.6" />
<line x1="536.30" y1="566.15" x2="721.50" y2="566.15" stroke="#fff" stroke-width="4.6" />
<line x1="536.30" y1="525.80" x2="721.50" y2="525.80" stroke="#fff" stroke-width="4.6" />
<rect x="544.72" y="646.85" width="5.61" height="40.35" fill="#4AA3DF" stroke="#000" stroke-width="4.3"/>
<rect x="572.78" y="606.50" width="5.61" height="80.70" fill="#4AA3DF" stroke="#000" stroke-width="4.3"/>
<rect x="578.39" y="606.50" width="5.61" height="80.70" fill="#4AA3DF" stroke="#000" stroke-width="4.3"/>
<rect x="589.62" y="646.85" width="5.61" height="40.35" fill="#4AA3DF" stroke="#000" stroke-width="4.3"/>
<rect x="595.23" y="646.85" width="5.61" height="40.35" fill="#4AA3DF" stroke="#000" stroke-width="4.3"/>
<rect x="600.84" y="566.15" width="5.61" height="121.05" fill="#4AA3DF" stroke="#000" stroke-width="4.3"/>
<rect x="606.45" y="646.85" width="5.61" height="40.35" fill="#4AA3DF" stroke="#000" stroke-width="4.3"/>
<rect x="612.06" y="606.50" width="5.61" height="80.70" fill="#4AA3DF" stroke="#000" stroke-width="4.3"/>
<rect x="617.68" y="606.50" width="5.61" height="80.70" fill="#4AA3DF" stroke="#000" stroke-width="4.3"/>
<rect x="623.29" y="646.85" width="5.61" height="40.35" fill="#4AA3DF" stroke="#000" stroke-width="4.3"/>
<rect x="628.90" y="525.80" width="5.61" height="161.40" fill="#4AA3DF" stroke="#000" stroke-width="4.3"/>
<rect x="634.51" y="606.50" width="5.61" height="80.70" fill="#4AA3DF" stroke="#000" stroke-width="4.3"/>
<rect x="640.12" y="606.50" width="5.61" height="80.70" fill="#4AA3DF" stroke="#000" stroke-width="4.3"/>
<rect x="645.74" y="525.80" width="5.61" height="161.40" fill="#4AA3DF" stroke="#000" stroke-width="4.3"/>
<rect x="651.35" y="606.50" width="5.61" height="80.70" fill="#4AA3DF" stroke="#000" stroke-width="4.3"/>
<rect x="656.96" y="606.50" width="5.61" height="80.70" fill="#4AA3DF" stroke="#000" stroke-width="4.3"/>
<rect x="668.18" y="646.85" width="5.61" height="40.35" fill="#4AA3DF" stroke="#000" stroke-width="4.3"/>
<rect x="673.80" y="646.85" width="5.61" height="40.35" fill="#4AA3DF" stroke="#000" stroke-width="4.3"/>
<rect x="679.41" y="646.85" width="5.61" height="40.35" fill="#4AA3DF" stroke="#000" stroke-width="4.3"/>
<rect x="685.02" y="646.85" width="5.61" height="40.35" fill="#4AA3DF" stroke="#000" stroke-width="4.3"/>
<rect x="690.63" y="525.80" width="5.61" height="161.40" fill="#4AA3DF" stroke="#000" stroke-width="4.3"/>
<rect x="696.25" y="646.85" width="5.61" height="40.35" fill="#4AA3DF" stroke="#000" stroke-width="4.3"/>
<rect x="701.86" y="646.85" width="5.61" height="40.35" fill="#4AA3DF" stroke="#000" stroke-width="4.3"/>
<rect x="707.47" y="646.85" width="5.61" height="40.35" fill="#4AA3DF" stroke="#000" stroke-width="4.3"/>
</g>
<rect x="745.30" y="518.40" width="182.60" height="175.70" fill="#fff" stroke="#EBEBEB" stroke-width="2.4"/>
<text x="836.60" y="593.56" font-size="35" fill="#000" text-anchor="middle" >Corr:</text>
<text x="836.60" y="644.85" font-size="35" fill="#000" text-anchor="middle" >0.717***</text>
<rect x="120.20" y="718.20" width="185.10" height="177.70" fill="#EBEBEB" />
<clipPath id="c7"><rect x="120.20" y="718.20" width="185.10" height="177.70"/></clipPath><g clip-path="url(#c7)">
<line x1="141.75" y1="718.20" x2="141.75" y2="895.90" stroke="#fff" stroke-width="2.5" />
<line x1="184.65" y1="718.20" x2="184.65" y2="895.90" stroke="#fff" stroke-width="2.5" />
<line x1="227.55" y1="718.20" x2="227.55" y2="895.90" stroke="#fff" stroke-width="2.5" />
<line x1="270.45" y1="718.20" x2="270.45" y2="895.90" stroke="#fff" stroke-width="2.5" />
<line x1="163.20" y1="718.20" x2="163.20" y2="895.90" stroke="#fff" stroke-width="4.6" />
<line x1="206.10" y1="718.20" x2="206.10" y2="895.90" stroke="#fff" stroke-width="4.6" />
<line x1="249.00" y1="718.20" x2="249.00" y2="895.90" stroke="#fff" stroke-width="4.6" />
<line x1="291.90" y1="718.20" x2="291.90" y2="895.90" stroke="#fff" stroke-width="4.6" />
<line x1="120.20" y1="890.80" x2="305.30" y2="890.80" stroke="#fff" stroke-width="2.5" />
<line x1="120.20" y1="836.60" x2="305.30" y2="836.60" stroke="#fff" stroke-width="2.5" />
<line x1="120.20" y1="782.40" x2="305.30" y2="782.40" stroke="#fff" stroke-width="2.5" />
<line x1="120.20" y1="728.20" x2="305.30" y2="728.20" stroke="#fff" stroke-width="2.5" />
<line x1="120.20" y1="863.70" x2="305.30" y2="863.70" stroke="#fff" stroke-width="4.6" />
<line x1="120.20" y1="809.50" x2="305.30" y2="809.50" stroke="#fff" stroke-width="4.6" />
<line x1="120.20" y1="755.30" x2="305.30" y2="755.30" stroke="#fff" stroke-width="4.6" />
<circle cx="129.0" cy="748.8" r="8.45" fill="#E69F00" fill-opacity="0.85" stroke="#000" stroke-opacity="0.85" stroke-width="3.1"/>
<circle cx="129.0" cy="768.1" r="8.45" fill="#E69F00" fill-opacity="0.85" stroke="#000" stroke-opacity="0.85" stroke-width="3.1"/>
<circle cx="129.0" cy="791.2" r="8.45" fill="#E69F00" fill-opacity="0.85" stroke="#000" stroke-opacity="0.85" stroke-width="3.1"/>
<circle cx="129.0" cy="805.3" r="8.45" fill="#E69F00" fill-opacity="0.85" stroke="#000" stroke-opacity="0.85" stroke-width="3.1"/>
<circle cx="129.0" cy="813.1" r="8.45" fill="#E69F00" fill-opacity="0.85" stroke="#000" stroke-opacity="0.85" stroke-width="3.1"/>
<circle cx="129.0" cy="823.3" r="8.45" fill="#E69F00" fill-opacity="0.85" stroke="#000" stroke-opacity="0.85" stroke-width="3.1"/>
<circle cx="129.0" cy="831.0" r="8.45" fill="#E69F00" fill-opacity="0.85" stroke="#000" stroke-opacity="0.85" stroke-width="3.1"/>
<circle cx="129.0" cy="840.0" r="8.45" fill="#E69F00" fill-opacity="0.85" stroke="#000" stroke-opacity="0.85" stroke-width="3.1"/>
<circle cx="129.0" cy="849.0" r="8.45" fill="#E69F00" fill-opacity="0.85" stroke="#000" stroke-opacity="0.85" stroke-width="3.1"/>
<circle cx="129.0" cy="856.7" r="8.45" fill="#E69F00" fill-opacity="0.85" stroke="#000" stroke-opacity="0.85" stroke-width="3.1"/>
<circle cx="129.0" cy="865.7" r="8.45" fill="#E69F00" fill-opacity="0.85" stroke="#000" stroke-opacity="0.85" stroke-width="3.1"/>
<circle cx="129.0" cy="879.9" r="8.45" fill="#E69F00" fill-opacity="0.85" stroke="#000" stroke-opacity="0.85" stroke-width="3.1"/>
<circle cx="129.0" cy="887.6" r="8.45" fill="#E69F00" fill-opacity="0.85" stroke="#000" stroke-opacity="0.85" stroke-width="3.1"/>
<circle cx="167.0" cy="784.8" r="8.45" fill="#E69F00" fill-opacity="0.85" stroke="#000" stroke-opacity="0.85" stroke-width="3.1"/>
<circle cx="177.3" cy="773.2" r="8.45" fill="#E69F00" fill-opacity="0.85" stroke="#000" stroke-opacity="0.85" stroke-width="3.1"/>
<circle cx="222.5" cy="740.3" r="8.45" fill="#E69F00" fill-opacity="0.85" stroke="#000" stroke-opacity="0.85" stroke-width="3.1"/>
<circle cx="260.3" cy="730.3" r="8.45" fill="#E69F00" fill-opacity="0.85" stroke="#000" stroke-opacity="0.85" stroke-width="3.1"/>
<circle cx="283.9" cy="725.7" r="8.45" fill="#E69F00" fill-opacity="0.85" stroke="#000" stroke-opacity="0.85" stroke-width="3.1"/>
<circle cx="254.4" cy="745.0" r="8.45" fill="#E69F00" fill-opacity="0.85" stroke="#000" stroke-opacity="0.85" stroke-width="3.1"/>
<circle cx="242.8" cy="746.8" r="8.45" fill="#E69F00" fill-opacity="0.85" stroke="#000" stroke-opacity="0.85" stroke-width="3.1"/>
<circle cx="248.7" cy="750.1" r="8.45" fill="#E69F00" fill-opacity="0.85" stroke="#000" stroke-opacity="0.85" stroke-width="3.1"/>
<circle cx="278.0" cy="748.8" r="8.45" fill="#E69F00" fill-opacity="0.85" stroke="#000" stroke-opacity="0.85" stroke-width="3.1"/>
<circle cx="263.4" cy="768.1" r="8.45" fill="#E69F00" fill-opacity="0.85" stroke="#000" stroke-opacity="0.85" stroke-width="3.1"/>
<circle cx="199.1" cy="789.9" r="8.45" fill="#E69F00" fill-opacity="0.85" stroke="#000" stroke-opacity="0.85" stroke-width="3.1"/>
<circle cx="186.3" cy="795.6" r="8.45" fill="#E69F00" fill-opacity="0.85" stroke="#000" stroke-opacity="0.85" stroke-width="3.1"/>
<circle cx="206.1" cy="814.3" r="8.45" fill="#E69F00" fill-opacity="0.85" stroke="#000" stroke-opacity="0.85" stroke-width="3.1"/>
<circle cx="297.3" cy="819.5" r="8.45" fill="#E69F00" fill-opacity="0.85" stroke="#000" stroke-opacity="0.85" stroke-width="3.1"/>
<circle cx="199.1" cy="832.3" r="8.45" fill="#E69F00" fill-opacity="0.85" stroke="#000" stroke-opacity="0.85" stroke-width="3.1"/>
<circle cx="186.3" cy="833.6" r="8.45" fill="#E69F00" fill-opacity="0.85" stroke="#000" stroke-opacity="0.85" stroke-width="3.1"/>
<circle cx="182.4" cy="840.0" r="8.45" fill="#E69F00" fill-opacity="0.85" stroke="#000" stroke-opacity="0.85" stroke-width="3.1"/>
<circle cx="161.9" cy="839.5" r="8.45" fill="#E69F00" fill-opacity="0.85" stroke="#000" stroke-opacity="0.85" stroke-width="3.1"/>
<circle cx="164.4" cy="847.7" r="8.45" fill="#E69F00" fill-opacity="0.85" stroke="#000" stroke-opacity="0.85" stroke-width="3.1"/>
<polygon points="129.8,814.3 136.8,812.0 143.8,809.6 150.8,807.1 157.8,804.5 164.8,801.7 171.8,798.8 178.8,795.6 185.9,792.1 192.9,788.4 199.9,784.5 206.9,780.5 213.9,776.2 220.9,771.9 227.9,767.5 234.9,763.0 241.9,758.5 249.0,753.9 256.0,749.3 263.0,744.7 270.0,740.0 277.0,735.3 284.0,730.6 291.0,726.0 298.0,721.2 298.0,771.2 291.0,773.3 284.0,775.3 277.0,777.4 270.0,779.5 263.0,781.6 256.0,783.7 249.0,785.8 241.9,788.0 234.9,790.2 227.9,792.5 220.9,794.8 213.9,797.2 206.9,799.7 199.9,802.4 192.9,805.2 185.9,808.3 178.8,811.6 171.8,815.1 164.8,818.9 157.8,822.9 150.8,827.0 143.8,831.3 136.8,835.7 129.8,840.1" fill="#999" fill-opacity="0.4"/>
<line x1="129.75" y1="827.18" x2="298.05" y2="746.25" stroke="#000" stroke-width="9.2" />
</g>
<rect x="328.30" y="718.20" width="185.30" height="177.70" fill="#EBEBEB" />
<clipPath id="c8"><rect x="328.30" y="718.20" width="185.30" height="177.70"/></clipPath><g clip-path="url(#c8)">
<line x1="358.45" y1="718.20" x2="358.45" y2="895.90" stroke="#fff" stroke-width="2.5" />
<line x1="401.95" y1="718.20" x2="401.95" y2="895.90" stroke="#fff" stroke-width="2.5" />
<line x1="445.45" y1="718.20" x2="445.45" y2="895.90" stroke="#fff" stroke-width="2.5" />
<line x1="488.95" y1="718.20" x2="488.95" y2="895.90" stroke="#fff" stroke-width="2.5" />
<line x1="336.70" y1="718.20" x2="336.70" y2="895.90" stroke="#fff" stroke-width="4.6" />
<line x1="380.20" y1="718.20" x2="380.20" y2="895.90" stroke="#fff" stroke-width="4.6" />
<line x1="423.70" y1="718.20" x2="423.70" y2="895.90" stroke="#fff" stroke-width="4.6" />
<line x1="467.20" y1="718.20" x2="467.20" y2="895.90" stroke="#fff" stroke-width="4.6" />
<line x1="510.70" y1="718.20" x2="510.70" y2="895.90" stroke="#fff" stroke-width="4.6" />
<line x1="328.30" y1="890.80" x2="513.60" y2="890.80" stroke="#fff" stroke-width="2.5" />
<line x1="328.30" y1="836.60" x2="513.60" y2="836.60" stroke="#fff" stroke-width="2.5" />
<line x1="328.30" y1="782.40" x2="513.60" y2="782.40" stroke="#fff" stroke-width="2.5" />
<line x1="328.30" y1="728.20" x2="513.60" y2="728.20" stroke="#fff" stroke-width="2.5" />
<line x1="328.30" y1="863.70" x2="513.60" y2="863.70" stroke="#fff" stroke-width="4.6" />
<line x1="328.30" y1="809.50" x2="513.60" y2="809.50" stroke="#fff" stroke-width="4.6" />
<line x1="328.30" y1="755.30" x2="513.60" y2="755.30" stroke="#fff" stroke-width="4.6" />
<circle cx="336.7" cy="791.2" r="8.45" fill="#E69F00" fill-opacity="0.85" stroke="#000" stroke-opacity="0.85" stroke-width="3.1"/>
<circle cx="336.7" cy="805.3" r="8.45" fill="#E69F00" fill-opacity="0.85" stroke="#000" stroke-opacity="0.85" stroke-width="3.1"/>
<circle cx="336.7" cy="813.1" r="8.45" fill="#E69F00" fill-opacity="0.85" stroke="#000" stroke-opacity="0.85" stroke-width="3.1"/>
<circle cx="336.7" cy="820.8" r="8.45" fill="#E69F00" fill-opacity="0.85" stroke="#000" stroke-opacity="0.85" stroke-width="3.1"/>
<circle cx="336.7" cy="828.5" r="8.45" fill="#E69F00" fill-opacity="0.85" stroke="#000" stroke-opacity="0.85" stroke-width="3.1"/>
<circle cx="336.7" cy="838.7" r="8.45" fill="#E69F00" fill-opacity="0.85" stroke="#000" stroke-opacity="0.85" stroke-width="3.1"/>
<circle cx="336.7" cy="849.0" r="8.45" fill="#E69F00" fill-opacity="0.85" stroke="#000" stroke-opacity="0.85" stroke-width="3.1"/>
<circle cx="336.7" cy="856.7" r="8.45" fill="#E69F00" fill-opacity="0.85" stroke="#000" stroke-opacity="0.85" stroke-width="3.1"/>
<circle cx="336.7" cy="865.7" r="8.45" fill="#E69F00" fill-opacity="0.85" stroke="#000" stroke-opacity="0.85" stroke-width="3.1"/>
<circle cx="336.7" cy="881.1" r="8.45" fill="#E69F00" fill-opacity="0.85" stroke="#000" stroke-opacity="0.85" stroke-width="3.1"/>
<circle cx="336.7" cy="887.6" r="8.45" fill="#E69F00" fill-opacity="0.85" stroke="#000" stroke-opacity="0.85" stroke-width="3.1"/>
<circle cx="369.4" cy="730.3" r="8.45" fill="#E69F00" fill-opacity="0.85" stroke="#000" stroke-opacity="0.85" stroke-width="3.1"/>
<circle cx="438.0" cy="725.7" r="8.45" fill="#E69F00" fill-opacity="0.85" stroke="#000" stroke-opacity="0.85" stroke-width="3.1"/>
<circle cx="438.7" cy="741.1" r="8.45" fill="#E69F00" fill-opacity="0.85" stroke="#000" stroke-opacity="0.85" stroke-width="3.1"/>
<circle cx="449.0" cy="744.2" r="8.45" fill="#E69F00" fill-opacity="0.85" stroke="#000" stroke-opacity="0.85" stroke-width="3.1"/>
<circle cx="416.1" cy="750.1" r="8.45" fill="#E69F00" fill-opacity="0.85" stroke="#000" stroke-opacity="0.85" stroke-width="3.1"/>
<circle cx="429.8" cy="750.1" r="8.45" fill="#E69F00" fill-opacity="0.85" stroke="#000" stroke-opacity="0.85" stroke-width="3.1"/>
<circle cx="439.3" cy="748.8" r="8.45" fill="#E69F00" fill-opacity="0.85" stroke="#000" stroke-opacity="0.85" stroke-width="3.1"/>
<circle cx="504.8" cy="747.0" r="8.45" fill="#E69F00" fill-opacity="0.85" stroke="#000" stroke-opacity="0.85" stroke-width="3.1"/>
<circle cx="491.4" cy="768.1" r="8.45" fill="#E69F00" fill-opacity="0.85" stroke="#000" stroke-opacity="0.85" stroke-width="3.1"/>
<circle cx="359.9" cy="768.1" r="8.45" fill="#E69F00" fill-opacity="0.85" stroke="#000" stroke-opacity="0.85" stroke-width="3.1"/>
<circle cx="347.5" cy="789.9" r="8.45" fill="#E69F00" fill-opacity="0.85" stroke="#000" stroke-opacity="0.85" stroke-width="3.1"/>
<circle cx="361.2" cy="796.4" r="8.45" fill="#E69F00" fill-opacity="0.85" stroke="#000" stroke-opacity="0.85" stroke-width="3.1"/>
<circle cx="428.5" cy="771.9" r="8.45" fill="#E69F00" fill-opacity="0.85" stroke="#000" stroke-opacity="0.85" stroke-width="3.1"/>
<circle cx="430.5" cy="785.3" r="8.45" fill="#E69F00" fill-opacity="0.85" stroke="#000" stroke-opacity="0.85" stroke-width="3.1"/>
<circle cx="383.5" cy="814.3" r="8.45" fill="#E69F00" fill-opacity="0.85" stroke="#000" stroke-opacity="0.85" stroke-width="3.1"/>
<circle cx="434.9" cy="819.5" r="8.45" fill="#E69F00" fill-opacity="0.85" stroke="#000" stroke-opacity="0.85" stroke-width="3.1"/>
<circle cx="399.7" cy="832.3" r="8.45" fill="#E69F00" fill-opacity="0.85" stroke="#000" stroke-opacity="0.85" stroke-width="3.1"/>
<circle cx="355.2" cy="838.7" r="8.45" fill="#E69F00" fill-opacity="0.85" stroke="#000" stroke-opacity="0.85" stroke-width="3.1"/>
<circle cx="361.7" cy="833.6" r="8.45" fill="#E69F00" fill-opacity="0.85" stroke="#000" stroke-opacity="0.85" stroke-width="3.1"/>
<circle cx="366.8" cy="840.0" r="8.45" fill="#E69F00" fill-opacity="0.85" stroke="#000" stroke-opacity="0.85" stroke-width="3.1"/>
<circle cx="343.7" cy="813.1" r="8.45" fill="#E69F00" fill-opacity="0.85" stroke="#000" stroke-opacity="0.85" stroke-width="3.1"/>
<circle cx="342.4" cy="847.7" r="8.45" fill="#E69F00" fill-opacity="0.85" stroke="#000" stroke-opacity="0.85" stroke-width="3.1"/>
<polygon points="336.7,814.1 343.8,811.4 350.8,808.6 357.8,805.7 364.9,802.6 371.9,799.4 378.9,795.8 386.0,791.9 393.0,787.5 400.0,782.7 407.1,777.7 414.1,772.3 421.1,766.8 428.2,761.2 435.2,755.5 442.2,749.8 449.3,744.0 456.3,738.2 463.3,732.3 470.4,726.5 477.4,720.6 484.4,714.7 491.5,708.8 498.5,702.9 505.5,697.0 505.5,757.0 498.5,759.5 491.5,762.1 484.4,764.6 477.4,767.2 470.4,769.8 463.3,772.4 456.3,775.0 449.3,777.6 442.2,780.3 435.2,783.0 428.2,785.8 421.1,788.6 414.1,791.6 407.1,794.7 400.0,798.1 393.0,801.8 386.0,805.9 378.9,810.4 371.9,815.3 364.9,820.5 357.8,825.9 350.8,831.4 343.8,837.1 336.7,842.8" fill="#999" fill-opacity="0.4"/>
<line x1="336.74" y1="828.47" x2="505.55" y2="726.98" stroke="#000" stroke-width="9.2" />
</g>
<rect x="536.30" y="718.20" width="185.20" height="177.70" fill="#EBEBEB" />
<clipPath id="c9"><rect x="536.30" y="718.20" width="185.20" height="177.70"/></clipPath><g clip-path="url(#c9)">
<line x1="560.50" y1="718.20" x2="560.50" y2="895.90" stroke="#fff" stroke-width="2.5" />
<line x1="615.10" y1="718.20" x2="615.10" y2="895.90" stroke="#fff" stroke-width="2.5" />
<line x1="669.70" y1="718.20" x2="669.70" y2="895.90" stroke="#fff" stroke-width="2.5" />
<line x1="724.30" y1="718.20" x2="724.30" y2="895.90" stroke="#fff" stroke-width="2.5" />
<line x1="587.80" y1="718.20" x2="587.80" y2="895.90" stroke="#fff" stroke-width="4.6" />
<line x1="642.40" y1="718.20" x2="642.40" y2="895.90" stroke="#fff" stroke-width="4.6" />
<line x1="697.00" y1="718.20" x2="697.00" y2="895.90" stroke="#fff" stroke-width="4.6" />
<line x1="536.30" y1="890.80" x2="721.50" y2="890.80" stroke="#fff" stroke-width="2.5" />
<line x1="536.30" y1="836.60" x2="721.50" y2="836.60" stroke="#fff" stroke-width="2.5" />
<line x1="536.30" y1="782.40" x2="721.50" y2="782.40" stroke="#fff" stroke-width="2.5" />
<line x1="536.30" y1="728.20" x2="721.50" y2="728.20" stroke="#fff" stroke-width="2.5" />
<line x1="536.30" y1="863.70" x2="721.50" y2="863.70" stroke="#fff" stroke-width="4.6" />
<line x1="536.30" y1="809.50" x2="721.50" y2="809.50" stroke="#fff" stroke-width="4.6" />
<line x1="536.30" y1="755.30" x2="721.50" y2="755.30" stroke="#fff" stroke-width="4.6" />
<circle cx="544.6" cy="831.8" r="8.45" fill="#E69F00" fill-opacity="0.85" stroke="#000" stroke-opacity="0.85" stroke-width="3.1"/>
<circle cx="587.0" cy="791.2" r="8.45" fill="#E69F00" fill-opacity="0.85" stroke="#000" stroke-opacity="0.85" stroke-width="3.1"/>
<circle cx="573.6" cy="831.0" r="8.45" fill="#E69F00" fill-opacity="0.85" stroke="#000" stroke-opacity="0.85" stroke-width="3.1"/>
<circle cx="574.4" cy="832.3" r="8.45" fill="#E69F00" fill-opacity="0.85" stroke="#000" stroke-opacity="0.85" stroke-width="3.1"/>
<circle cx="593.4" cy="815.6" r="8.45" fill="#E69F00" fill-opacity="0.85" stroke="#000" stroke-opacity="0.85" stroke-width="3.1"/>
<circle cx="580.1" cy="847.7" r="8.45" fill="#E69F00" fill-opacity="0.85" stroke="#000" stroke-opacity="0.85" stroke-width="3.1"/>
<circle cx="601.1" cy="849.0" r="8.45" fill="#E69F00" fill-opacity="0.85" stroke="#000" stroke-opacity="0.85" stroke-width="3.1"/>
<circle cx="574.4" cy="883.7" r="8.45" fill="#E69F00" fill-opacity="0.85" stroke="#000" stroke-opacity="0.85" stroke-width="3.1"/>
<circle cx="598.0" cy="887.6" r="8.45" fill="#E69F00" fill-opacity="0.85" stroke="#000" stroke-opacity="0.85" stroke-width="3.1"/>
<circle cx="610.9" cy="866.5" r="8.45" fill="#E69F00" fill-opacity="0.85" stroke="#000" stroke-opacity="0.85" stroke-width="3.1"/>
<circle cx="637.4" cy="860.6" r="8.45" fill="#E69F00" fill-opacity="0.85" stroke="#000" stroke-opacity="0.85" stroke-width="3.1"/>
<circle cx="615.5" cy="794.6" r="8.45" fill="#E69F00" fill-opacity="0.85" stroke="#000" stroke-opacity="0.85" stroke-width="3.1"/>
<circle cx="628.1" cy="796.4" r="8.45" fill="#E69F00" fill-opacity="0.85" stroke="#000" stroke-opacity="0.85" stroke-width="3.1"/>
<circle cx="621.2" cy="810.5" r="8.45" fill="#E69F00" fill-opacity="0.85" stroke="#000" stroke-opacity="0.85" stroke-width="3.1"/>
<circle cx="626.3" cy="811.8" r="8.45" fill="#E69F00" fill-opacity="0.85" stroke="#000" stroke-opacity="0.85" stroke-width="3.1"/>
<circle cx="616.0" cy="819.5" r="8.45" fill="#E69F00" fill-opacity="0.85" stroke="#000" stroke-opacity="0.85" stroke-width="3.1"/>
<circle cx="631.4" cy="816.9" r="8.45" fill="#E69F00" fill-opacity="0.85" stroke="#000" stroke-opacity="0.85" stroke-width="3.1"/>
<circle cx="609.6" cy="828.5" r="8.45" fill="#E69F00" fill-opacity="0.85" stroke="#000" stroke-opacity="0.85" stroke-width="3.1"/>
<circle cx="612.2" cy="832.3" r="8.45" fill="#E69F00" fill-opacity="0.85" stroke="#000" stroke-opacity="0.85" stroke-width="3.1"/>
<circle cx="626.8" cy="838.7" r="8.45" fill="#E69F00" fill-opacity="0.85" stroke="#000" stroke-opacity="0.85" stroke-width="3.1"/>
<circle cx="634.0" cy="840.0" r="8.45" fill="#E69F00" fill-opacity="0.85" stroke="#000" stroke-opacity="0.85" stroke-width="3.1"/>
<circle cx="641.7" cy="833.6" r="8.45" fill="#E69F00" fill-opacity="0.85" stroke="#000" stroke-opacity="0.85" stroke-width="3.1"/>
<circle cx="644.3" cy="837.5" r="8.45" fill="#E69F00" fill-opacity="0.85" stroke="#000" stroke-opacity="0.85" stroke-width="3.1"/>
<circle cx="648.2" cy="840.0" r="8.45" fill="#E69F00" fill-opacity="0.85" stroke="#000" stroke-opacity="0.85" stroke-width="3.1"/>
<circle cx="646.9" cy="823.3" r="8.45" fill="#E69F00" fill-opacity="0.85" stroke="#000" stroke-opacity="0.85" stroke-width="3.1"/>
<circle cx="653.3" cy="825.9" r="8.45" fill="#E69F00" fill-opacity="0.85" stroke="#000" stroke-opacity="0.85" stroke-width="3.1"/>
<circle cx="653.3" cy="805.9" r="8.45" fill="#E69F00" fill-opacity="0.85" stroke="#000" stroke-opacity="0.85" stroke-width="3.1"/>
<circle cx="661.0" cy="789.9" r="8.45" fill="#E69F00" fill-opacity="0.85" stroke="#000" stroke-opacity="0.85" stroke-width="3.1"/>
<circle cx="673.8" cy="814.3" r="8.45" fill="#E69F00" fill-opacity="0.85" stroke="#000" stroke-opacity="0.85" stroke-width="3.1"/>
<circle cx="679.8" cy="786.1" r="8.45" fill="#E69F00" fill-opacity="0.85" stroke="#000" stroke-opacity="0.85" stroke-width="3.1"/>
<circle cx="669.2" cy="768.1" r="8.45" fill="#E69F00" fill-opacity="0.85" stroke="#000" stroke-opacity="0.85" stroke-width="3.1"/>
<circle cx="645.6" cy="730.3" r="8.45" fill="#E69F00" fill-opacity="0.85" stroke="#000" stroke-opacity="0.85" stroke-width="3.1"/>
<circle cx="657.1" cy="725.7" r="8.45" fill="#E69F00" fill-opacity="0.85" stroke="#000" stroke-opacity="0.85" stroke-width="3.1"/>
<circle cx="686.7" cy="750.1" r="8.45" fill="#E69F00" fill-opacity="0.85" stroke="#000" stroke-opacity="0.85" stroke-width="3.1"/>
<circle cx="693.1" cy="748.8" r="8.45" fill="#E69F00" fill-opacity="0.85" stroke="#000" stroke-opacity="0.85" stroke-width="3.1"/>
<circle cx="698.3" cy="747.5" r="8.45" fill="#E69F00" fill-opacity="0.85" stroke="#000" stroke-opacity="0.85" stroke-width="3.1"/>
<circle cx="702.1" cy="747.5" r="8.45" fill="#E69F00" fill-opacity="0.85" stroke="#000" stroke-opacity="0.85" stroke-width="3.1"/>
<circle cx="706.0" cy="743.7" r="8.45" fill="#E69F00" fill-opacity="0.85" stroke="#000" stroke-opacity="0.85" stroke-width="3.1"/>
<circle cx="712.9" cy="739.8" r="8.45" fill="#E69F00" fill-opacity="0.85" stroke="#000" stroke-opacity="0.85" stroke-width="3.1"/>
<circle cx="693.1" cy="769.4" r="8.45" fill="#E69F00" fill-opacity="0.85" stroke="#000" stroke-opacity="0.85" stroke-width="3.1"/>
<circle cx="694.4" cy="773.2" r="8.45" fill="#E69F00" fill-opacity="0.85" stroke="#000" stroke-opacity="0.85" stroke-width="3.1"/>
<polygon points="545.4,848.7 552.4,845.3 559.4,841.9 566.4,838.4 573.4,835.0 580.4,831.5 587.4,828.0 594.5,824.5 601.5,821.0 608.5,817.4 615.5,813.8 622.5,810.1 629.5,806.3 636.5,802.3 643.5,798.0 650.6,793.5 657.6,788.5 664.6,783.2 671.6,777.5 678.6,771.6 685.6,765.5 692.6,759.3 699.6,753.0 706.7,746.6 713.7,740.2 713.7,770.3 706.7,773.8 699.6,777.4 692.6,781.0 685.6,784.8 678.6,788.6 671.6,792.7 664.6,797.0 657.6,801.6 650.6,806.6 643.5,812.0 636.5,817.7 629.5,823.7 622.5,829.8 615.5,836.1 608.5,842.4 601.5,848.8 594.5,855.2 587.4,861.6 580.4,868.1 573.4,874.6 566.4,881.1 559.4,887.7 552.4,894.2 545.4,900.7" fill="#999" fill-opacity="0.4"/>
<line x1="545.38" y1="874.72" x2="713.67" y2="755.24" stroke="#000" stroke-width="9.2" />
</g>
<rect x="744.10" y="718.20" width="185.00" height="177.70" fill="#EBEBEB" />
<clipPath id="c10"><rect x="744.10" y="718.20" width="185.00" height="177.70"/></clipPath><g clip-path="url(#c10)">
<line x1="753.10" y1="718.20" x2="753.10" y2="895.90" stroke="#fff" stroke-width="2.5" />
<line x1="807.30" y1="718.20" x2="807.30" y2="895.90" stroke="#fff" stroke-width="2.5" />
<line x1="861.50" y1="718.20" x2="861.50" y2="895.90" stroke="#fff" stroke-width="2.5" />
<line x1="915.70" y1="718.20" x2="915.70" y2="895.90" stroke="#fff" stroke-width="2.5" />
<line x1="780.20" y1="718.20" x2="780.20" y2="895.90" stroke="#fff" stroke-width="4.6" />
<line x1="834.40" y1="718.20" x2="834.40" y2="895.90" stroke="#fff" stroke-width="4.6" />
<line x1="888.60" y1="718.20" x2="888.60" y2="895.90" stroke="#fff" stroke-width="4.6" />
<line x1="744.10" y1="867.62" x2="929.10" y2="867.62" stroke="#fff" stroke-width="2.5" />
<line x1="744.10" y1="827.27" x2="929.10" y2="827.27" stroke="#fff" stroke-width="2.5" />
<line x1="744.10" y1="786.92" x2="929.10" y2="786.92" stroke="#fff" stroke-width="2.5" />
<line x1="744.10" y1="746.57" x2="929.10" y2="746.57" stroke="#fff" stroke-width="2.5" />
<line x1="744.10" y1="887.80" x2="929.10" y2="887.80" stroke="#fff" stroke-width="4.6" />
<line x1="744.10" y1="847.45" x2="929.10" y2="847.45" stroke="#fff" stroke-width="4.6" />
<line x1="744.10" y1="807.10" x2="929.10" y2="807.10" stroke="#fff" stroke-width="4.6" />
<line x1="744.10" y1="766.75" x2="929.10" y2="766.75" stroke="#fff" stroke-width="4.6" />
<line x1="744.10" y1="726.40" x2="929.10" y2="726.40" stroke="#fff" stroke-width="4.6" />
<rect x="752.51" y="847.45" width="5.61" height="40.35" fill="#4AA3DF" stroke="#000" stroke-width="4.3"/>
<rect x="758.12" y="847.45" width="5.61" height="40.35" fill="#4AA3DF" stroke="#000" stroke-width="4.3"/>
<rect x="774.93" y="847.45" width="5.61" height="40.35" fill="#4AA3DF" stroke="#000" stroke-width="4.3"/>
<rect x="780.54" y="847.45" width="5.61" height="40.35" fill="#4AA3DF" stroke="#000" stroke-width="4.3"/>
<rect x="791.75" y="766.75" width="5.61" height="121.05" fill="#4AA3DF" stroke="#000" stroke-width="4.3"/>
<rect x="802.96" y="726.40" width="5.61" height="161.40" fill="#4AA3DF" stroke="#000" stroke-width="4.3"/>
<rect x="808.57" y="726.40" width="5.61" height="161.40" fill="#4AA3DF" stroke="#000" stroke-width="4.3"/>
<rect x="814.18" y="766.75" width="5.61" height="121.05" fill="#4AA3DF" stroke="#000" stroke-width="4.3"/>
<rect x="819.78" y="807.10" width="5.61" height="80.70" fill="#4AA3DF" stroke="#000" stroke-width="4.3"/>
<rect x="825.39" y="726.40" width="5.61" height="161.40" fill="#4AA3DF" stroke="#000" stroke-width="4.3"/>
<rect x="830.99" y="807.10" width="5.61" height="80.70" fill="#4AA3DF" stroke="#000" stroke-width="4.3"/>
<rect x="836.60" y="847.45" width="5.61" height="40.35" fill="#4AA3DF" stroke="#000" stroke-width="4.3"/>
<rect x="842.21" y="847.45" width="5.61" height="40.35" fill="#4AA3DF" stroke="#000" stroke-width="4.3"/>
<rect x="847.81" y="807.10" width="5.61" height="80.70" fill="#4AA3DF" stroke="#000" stroke-width="4.3"/>
<rect x="853.42" y="807.10" width="5.61" height="80.70" fill="#4AA3DF" stroke="#000" stroke-width="4.3"/>
<rect x="870.24" y="847.45" width="5.61" height="40.35" fill="#4AA3DF" stroke="#000" stroke-width="4.3"/>
<rect x="875.84" y="807.10" width="5.61" height="80.70" fill="#4AA3DF" stroke="#000" stroke-width="4.3"/>
<rect x="892.66" y="726.40" width="5.61" height="161.40" fill="#4AA3DF" stroke="#000" stroke-width="4.3"/>
<rect x="898.27" y="847.45" width="5.61" height="40.35" fill="#4AA3DF" stroke="#000" stroke-width="4.3"/>
<rect x="903.87" y="847.45" width="5.61" height="40.35" fill="#4AA3DF" stroke="#000" stroke-width="4.3"/>
<rect x="909.48" y="847.45" width="5.61" height="40.35" fill="#4AA3DF" stroke="#000" stroke-width="4.3"/>
<rect x="915.08" y="847.45" width="5.61" height="40.35" fill="#4AA3DF" stroke="#000" stroke-width="4.3"/>
</g>
<line x1="108.90" y1="285.20" x2="120.60" y2="285.20" stroke="#333333" stroke-width="4.6" />
<text x="99.80" y="294.40" font-size="25" fill="#4D4D4D" text-anchor="end" >0</text>
<line x1="108.90" y1="251.50" x2="120.60" y2="251.50" stroke="#333333" stroke-width="4.6" />
<text x="99.80" y="260.70" font-size="25" fill="#4D4D4D" text-anchor="end" >5</text>
<line x1="108.90" y1="217.80" x2="120.60" y2="217.80" stroke="#333333" stroke-width="4.6" />
<text x="99.80" y="227.00" font-size="25" fill="#4D4D4D" text-anchor="end" >10</text>
<line x1="108.90" y1="184.10" x2="120.60" y2="184.10" stroke="#333333" stroke-width="4.6" />
<text x="99.80" y="193.30" font-size="25" fill="#4D4D4D" text-anchor="end" >15</text>
<line x1="108.90" y1="150.40" x2="120.60" y2="150.40" stroke="#333333" stroke-width="4.6" />
<text x="99.80" y="159.60" font-size="25" fill="#4D4D4D" text-anchor="end" >20</text>
<line x1="108.90" y1="116.70" x2="120.60" y2="116.70" stroke="#333333" stroke-width="4.6" />
<text x="99.80" y="125.90" font-size="25" fill="#4D4D4D" text-anchor="end" >25</text>
<line x1="108.90" y1="486.60" x2="120.60" y2="486.60" stroke="#333333" stroke-width="4.6" />
<text x="99.80" y="495.80" font-size="25" fill="#4D4D4D" text-anchor="end" >0.0</text>
<line x1="108.90" y1="444.70" x2="120.60" y2="444.70" stroke="#333333" stroke-width="4.6" />
<text x="99.80" y="453.90" font-size="25" fill="#4D4D4D" text-anchor="end" >2.5</text>
<line x1="108.90" y1="402.80" x2="120.60" y2="402.80" stroke="#333333" stroke-width="4.6" />
<text x="99.80" y="412.00" font-size="25" fill="#4D4D4D" text-anchor="end" >5.0</text>
<line x1="108.90" y1="360.90" x2="120.60" y2="360.90" stroke="#333333" stroke-width="4.6" />
<text x="99.80" y="370.10" font-size="25" fill="#4D4D4D" text-anchor="end" >7.5</text>
<line x1="108.90" y1="319.00" x2="120.60" y2="319.00" stroke="#333333" stroke-width="4.6" />
<text x="99.80" y="328.20" font-size="25" fill="#4D4D4D" text-anchor="end" >10.0</text>
<line x1="108.90" y1="645.70" x2="120.60" y2="645.70" stroke="#333333" stroke-width="4.6" />
<text x="99.80" y="654.90" font-size="25" fill="#4D4D4D" text-anchor="end" >4</text>
<line x1="108.90" y1="593.10" x2="120.60" y2="593.10" stroke="#333333" stroke-width="4.6" />
<text x="99.80" y="602.30" font-size="25" fill="#4D4D4D" text-anchor="end" >6</text>
<line x1="108.90" y1="540.50" x2="120.60" y2="540.50" stroke="#333333" stroke-width="4.6" />
<text x="99.80" y="549.70" font-size="25" fill="#4D4D4D" text-anchor="end" >8</text>
<line x1="108.90" y1="863.70" x2="120.60" y2="863.70" stroke="#333333" stroke-width="4.6" />
<text x="99.80" y="872.90" font-size="25" fill="#4D4D4D" text-anchor="end" >4</text>
<line x1="108.90" y1="809.50" x2="120.60" y2="809.50" stroke="#333333" stroke-width="4.6" />
<text x="99.80" y="818.70" font-size="25" fill="#4D4D4D" text-anchor="end" >6</text>
<line x1="108.90" y1="755.30" x2="120.60" y2="755.30" stroke="#333333" stroke-width="4.6" />
<text x="99.80" y="764.50" font-size="25" fill="#4D4D4D" text-anchor="end" >8</text>
<line x1="163.20" y1="895.50" x2="163.20" y2="907.00" stroke="#333333" stroke-width="4.6" />
<text x="163.20" y="935.30" font-size="25" fill="#4D4D4D" text-anchor="middle" >4</text>
<line x1="206.10" y1="895.50" x2="206.10" y2="907.00" stroke="#333333" stroke-width="4.6" />
<text x="206.10" y="935.30" font-size="25" fill="#4D4D4D" text-anchor="middle" >6</text>
<line x1="249.00" y1="895.50" x2="249.00" y2="907.00" stroke="#333333" stroke-width="4.6" />
<text x="249.00" y="935.30" font-size="25" fill="#4D4D4D" text-anchor="middle" >8</text>
<line x1="291.90" y1="895.50" x2="291.90" y2="907.00" stroke="#333333" stroke-width="4.6" />
<text x="291.90" y="935.30" font-size="25" fill="#4D4D4D" text-anchor="middle" >10</text>
<line x1="336.70" y1="895.50" x2="336.70" y2="907.00" stroke="#333333" stroke-width="4.6" />
<text x="336.70" y="935.30" font-size="25" fill="#4D4D4D" text-anchor="middle" >0.0</text>
<line x1="380.20" y1="895.50" x2="380.20" y2="907.00" stroke="#333333" stroke-width="4.6" />
<text x="380.20" y="935.30" font-size="25" fill="#4D4D4D" text-anchor="middle" >2.5</text>
<line x1="423.70" y1="895.50" x2="423.70" y2="907.00" stroke="#333333" stroke-width="4.6" />
<text x="423.70" y="935.30" font-size="25" fill="#4D4D4D" text-anchor="middle" >5.0</text>
<line x1="467.20" y1="895.50" x2="467.20" y2="907.00" stroke="#333333" stroke-width="4.6" />
<text x="467.20" y="935.30" font-size="25" fill="#4D4D4D" text-anchor="middle" >7.5</text>
<line x1="510.70" y1="895.50" x2="510.70" y2="907.00" stroke="#333333" stroke-width="4.6" />
<text x="510.70" y="935.30" font-size="25" fill="#4D4D4D" text-anchor="middle" >10.0</text>
<line x1="587.80" y1="895.50" x2="587.80" y2="907.00" stroke="#333333" stroke-width="4.6" />
<text x="587.80" y="935.30" font-size="25" fill="#4D4D4D" text-anchor="middle" >4</text>
<line x1="642.40" y1="895.50" x2="642.40" y2="907.00" stroke="#333333" stroke-width="4.6" />
<text x="642.40" y="935.30" font-size="25" fill="#4D4D4D" text-anchor="middle" >6</text>
<line x1="697.00" y1="895.50" x2="697.00" y2="907.00" stroke="#333333" stroke-width="4.6" />
<text x="697.00" y="935.30" font-size="25" fill="#4D4D4D" text-anchor="middle" >8</text>
<line x1="780.20" y1="895.50" x2="780.20" y2="907.00" stroke="#333333" stroke-width="4.6" />
<text x="780.20" y="935.30" font-size="25" fill="#4D4D4D" text-anchor="middle" >4</text>
<line x1="834.40" y1="895.50" x2="834.40" y2="907.00" stroke="#333333" stroke-width="4.6" />
<text x="834.40" y="935.30" font-size="25" fill="#4D4D4D" text-anchor="middle" >6</text>
<line x1="888.60" y1="895.50" x2="888.60" y2="907.00" stroke="#333333" stroke-width="4.6" />
<text x="888.60" y="935.30" font-size="25" fill="#4D4D4D" text-anchor="middle" >8</text>
<text x="524.70" y="976.00" font-size="33.5" fill="#000" text-anchor="middle" >Arbitrary Units (log1p transformed)</text>
<text x="33.00" y="505.70" font-size="33.5" fill="#000" text-anchor="middle" transform="rotate(-90 33.00 505.70)" >Arbitrary Units (log1p transformed)</text>
<text x="1078.60" y="51.30" font-size="67" fill="#000" text-anchor="start" font-weight="bold" >b</text>
<text x="1320.30" y="34.80" font-size="33.5" fill="#000" text-anchor="start" >ID50</text>
<circle cx="1442.7" cy="23.0" r="15.2" fill="#ADD8E6" fill-opacity="0.7" stroke="#000" stroke-opacity="0.72" stroke-width="2.8"/>
<text x="1496.80" y="34.80" font-size="33.5" fill="#000" text-anchor="start" >negative</text>
<circle cx="1675.8" cy="23.0" r="15.2" fill="#FF0000" fill-opacity="0.7" stroke="#000" stroke-opacity="0.72" stroke-width="2.8"/>
<text x="1729.50" y="34.80" font-size="33.5" fill="#000" text-anchor="start" >positive</text>
<text x="1041.00" y="498.00" font-size="33.5" fill="#000" text-anchor="middle" transform="rotate(-90 1041.00 498.00)" >Antibody levels</text>
<rect x="1164.10" y="58.00" width="833.90" height="64.20" fill="#D9D9D9" />
<text x="1581.05" y="101.40" font-size="29.3" fill="#1A1A1A" text-anchor="middle" >in hospital sample 1st week post symptoms onset</text>
<clipPath id="c11"><rect x="1164.10" y="122.20" width="833.90" height="332.10"/></clipPath><g clip-path="url(#c11)">
<line x1="1164.10" y1="166.68" x2="1998.00" y2="166.68" stroke="#EBEBEB" stroke-width="2.3" />
<line x1="1164.10" y1="156.06" x2="1998.00" y2="156.06" stroke="#EBEBEB" stroke-width="2.3" />
<line x1="1164.10" y1="148.52" x2="1998.00" y2="148.52" stroke="#EBEBEB" stroke-width="2.3" />
<line x1="1164.10" y1="142.67" x2="1998.00" y2="142.67" stroke="#EBEBEB" stroke-width="2.3" />
<line x1="1164.10" y1="137.89" x2="1998.00" y2="137.89" stroke="#EBEBEB" stroke-width="2.3" />
<line x1="1164.10" y1="133.85" x2="1998.00" y2="133.85" stroke="#EBEBEB" stroke-width="2.3" />
<line x1="1164.10" y1="130.35" x2="1998.00" y2="130.35" stroke="#EBEBEB" stroke-width="2.3" />
<line x1="1164.10" y1="127.26" x2="1998.00" y2="127.26" stroke="#EBEBEB" stroke-width="2.3" />
<line x1="1164.10" y1="226.98" x2="1998.00" y2="226.98" stroke="#EBEBEB" stroke-width="2.3" />
<line x1="1164.10" y1="216.36" x2="1998.00" y2="216.36" stroke="#EBEBEB" stroke-width="2.3" />
<line x1="1164.10" y1="208.82" x2="1998.00" y2="208.82" stroke="#EBEBEB" stroke-width="2.3" />
<line x1="1164.10" y1="202.97" x2="1998.00" y2="202.97" stroke="#EBEBEB" stroke-width="2.3" />
<line x1="1164.10" y1="198.19" x2="1998.00" y2="198.19" stroke="#EBEBEB" stroke-width="2.3" />
<line x1="1164.10" y1="194.15" x2="1998.00" y2="194.15" stroke="#EBEBEB" stroke-width="2.3" />
<line x1="1164.10" y1="190.65" x2="1998.00" y2="190.65" stroke="#EBEBEB" stroke-width="2.3" />
<line x1="1164.10" y1="187.56" x2="1998.00" y2="187.56" stroke="#EBEBEB" stroke-width="2.3" />
<line x1="1164.10" y1="287.38" x2="1998.00" y2="287.38" stroke="#EBEBEB" stroke-width="2.3" />
<line x1="1164.10" y1="276.76" x2="1998.00" y2="276.76" stroke="#EBEBEB" stroke-width="2.3" />
<line x1="1164.10" y1="269.22" x2="1998.00" y2="269.22" stroke="#EBEBEB" stroke-width="2.3" />
<line x1="1164.10" y1="263.37" x2="1998.00" y2="263.37" stroke="#EBEBEB" stroke-width="2.3" />
<line x1="1164.10" y1="258.59" x2="1998.00" y2="258.59" stroke="#EBEBEB" stroke-width="2.3" />
<line x1="1164.10" y1="254.55" x2="1998.00" y2="254.55" stroke="#EBEBEB" stroke-width="2.3" />
<line x1="1164.10" y1="251.05" x2="1998.00" y2="251.05" stroke="#EBEBEB" stroke-width="2.3" />
<line x1="1164.10" y1="247.96" x2="1998.00" y2="247.96" stroke="#EBEBEB" stroke-width="2.3" />
<line x1="1164.10" y1="347.68" x2="1998.00" y2="347.68" stroke="#EBEBEB" stroke-width="2.3" />
<line x1="1164.10" y1="337.06" x2="1998.00" y2="337.06" stroke="#EBEBEB" stroke-width="2.3" />
<line x1="1164.10" y1="329.52" x2="1998.00" y2="329.52" stroke="#EBEBEB" stroke-width="2.3" />
<line x1="1164.10" y1="323.67" x2="1998.00" y2="323.67" stroke="#EBEBEB" stroke-width="2.3" />
<line x1="1164.10" y1="318.89" x2="1998.00" y2="318.89" stroke="#EBEBEB" stroke-width="2.3" />
<line x1="1164.10" y1="314.85" x2="1998.00" y2="314.85" stroke="#EBEBEB" stroke-width="2.3" />
<line x1="1164.10" y1="311.35" x2="1998.00" y2="311.35" stroke="#EBEBEB" stroke-width="2.3" />
<line x1="1164.10" y1="308.26" x2="1998.00" y2="308.26" stroke="#EBEBEB" stroke-width="2.3" />
<line x1="1164.10" y1="368.50" x2="1998.00" y2="368.50" stroke="#EBEBEB" stroke-width="2.3" />
<line x1="1164.10" y1="371.70" x2="1998.00" y2="371.70" stroke="#EBEBEB" stroke-width="2.3" />
<line x1="1164.10" y1="375.00" x2="1998.00" y2="375.00" stroke="#EBEBEB" stroke-width="2.3" />
<line x1="1164.10" y1="378.90" x2="1998.00" y2="378.90" stroke="#EBEBEB" stroke-width="2.3" />
<line x1="1164.10" y1="383.70" x2="1998.00" y2="383.70" stroke="#EBEBEB" stroke-width="2.3" />
<line x1="1164.10" y1="389.20" x2="1998.00" y2="389.20" stroke="#EBEBEB" stroke-width="2.3" />
<line x1="1164.10" y1="396.20" x2="1998.00" y2="396.20" stroke="#EBEBEB" stroke-width="2.3" />
<line x1="1164.10" y1="405.90" x2="1998.00" y2="405.90" stroke="#EBEBEB" stroke-width="2.3" />
<line x1="1164.10" y1="124.50" x2="1998.00" y2="124.50" stroke="#BEBEBE" stroke-width="4.6" />
<line x1="1164.10" y1="184.80" x2="1998.00" y2="184.80" stroke="#BEBEBE" stroke-width="4.6" />
<line x1="1164.10" y1="245.20" x2="1998.00" y2="245.20" stroke="#BEBEBE" stroke-width="4.6" />
<line x1="1164.10" y1="305.50" x2="1998.00" y2="305.50" stroke="#BEBEBE" stroke-width="4.6" />
<line x1="1164.10" y1="365.80" x2="1998.00" y2="365.80" stroke="#BEBEBE" stroke-width="4.6" />
<line x1="1164.10" y1="419.50" x2="1998.00" y2="419.50" stroke="#BEBEBE" stroke-width="4.6" />
<line x1="1244.60" y1="122.20" x2="1244.60" y2="454.30" stroke="#BEBEBE" stroke-width="4.6" />
<line x1="1379.20" y1="122.20" x2="1379.20" y2="454.30" stroke="#BEBEBE" stroke-width="4.6" />
<line x1="1513.80" y1="122.20" x2="1513.80" y2="454.30" stroke="#BEBEBE" stroke-width="4.6" />
<line x1="1648.40" y1="122.20" x2="1648.40" y2="454.30" stroke="#BEBEBE" stroke-width="4.6" />
<line x1="1783.00" y1="122.20" x2="1783.00" y2="454.30" stroke="#BEBEBE" stroke-width="4.6" />
<line x1="1917.60" y1="122.20" x2="1917.60" y2="454.30" stroke="#BEBEBE" stroke-width="4.6" />
<line x1="1192.40" y1="365.80" x2="1246.40" y2="365.80" stroke="#333333" stroke-width="8.4" />
<line x1="1269.80" y1="157.80" x2="1269.80" y2="206.30" stroke="#333333" stroke-width="4.2" />
<line x1="1269.80" y1="295.30" x2="1269.80" y2="322.90" stroke="#333333" stroke-width="4.2" />
<rect x="1244.70" y="206.30" width="50.20" height="89.00" fill="#FF0000" stroke="#333333" stroke-width="4.2"/>
<line x1="1244.70" y1="268.50" x2="1294.90" y2="268.50" stroke="#333333" stroke-width="8.4" />
<line x1="1354.00" y1="211.70" x2="1354.00" y2="266.30" stroke="#333333" stroke-width="4.2" />
<line x1="1354.00" y1="308.90" x2="1354.00" y2="365.60" stroke="#333333" stroke-width="4.2" />
<rect x="1328.90" y="266.30" width="50.20" height="42.60" fill="#ADD8E6" stroke="#333333" stroke-width="4.2"/>
<line x1="1328.90" y1="291.20" x2="1379.10" y2="291.20" stroke="#333333" stroke-width="8.4" />
<line x1="1404.40" y1="199.90" x2="1404.40" y2="221.80" stroke="#333333" stroke-width="4.2" />
<line x1="1404.40" y1="279.40" x2="1404.40" y2="334.80" stroke="#333333" stroke-width="4.2" />
<rect x="1379.30" y="221.80" width="50.20" height="57.60" fill="#FF0000" stroke="#333333" stroke-width="4.2"/>
<line x1="1379.30" y1="250.20" x2="1429.50" y2="250.20" stroke="#333333" stroke-width="8.4" />
<circle cx="1489.2" cy="209.6" r="8.3" fill="#333333"/>
<line x1="1488.60" y1="227.90" x2="1488.60" y2="271.50" stroke="#333333" stroke-width="4.2" />
<line x1="1488.60" y1="300.30" x2="1488.60" y2="345.60" stroke="#333333" stroke-width="4.2" />
<rect x="1463.50" y="271.50" width="50.20" height="28.80" fill="#ADD8E6" stroke="#333333" stroke-width="4.2"/>
<line x1="1463.50" y1="285.80" x2="1513.70" y2="285.80" stroke="#333333" stroke-width="8.4" />
<line x1="1539.00" y1="186.90" x2="1539.00" y2="209.50" stroke="#333333" stroke-width="4.2" />
<line x1="1539.00" y1="284.10" x2="1539.00" y2="310.00" stroke="#333333" stroke-width="4.2" />
<rect x="1513.90" y="209.50" width="50.20" height="74.60" fill="#FF0000" stroke="#333333" stroke-width="4.2"/>
<line x1="1513.90" y1="244.80" x2="1564.10" y2="244.80" stroke="#333333" stroke-width="8.4" />
<circle cx="1622.2" cy="376.9" r="8.3" fill="#333333"/>
<line x1="1596.20" y1="437.90" x2="1650.20" y2="437.90" stroke="#333333" stroke-width="8.4" />
<line x1="1673.60" y1="294.80" x2="1673.60" y2="356.30" stroke="#333333" stroke-width="4.2" />
<line x1="1673.60" y1="423.30" x2="1673.60" y2="437.00" stroke="#333333" stroke-width="4.2" />
<rect x="1648.50" y="356.30" width="50.20" height="67.00" fill="#FF0000" stroke="#333333" stroke-width="4.2"/>
<line x1="1648.50" y1="412.50" x2="1698.70" y2="412.50" stroke="#333333" stroke-width="8.4" />
<circle cx="1757.8" cy="271.1" r="8.3" fill="#333333"/>
<circle cx="1757.2" cy="385.0" r="8.3" fill="#333333"/>
<circle cx="1757.2" cy="398.4" r="8.3" fill="#333333"/>
<rect x="1732.70" y="431.20" width="50.20" height="8.30" fill="#ADD8E6" stroke="#333333" stroke-width="4.2"/>
<line x1="1732.70" y1="437.60" x2="1782.90" y2="437.60" stroke="#333333" stroke-width="8.4" />
<line x1="1808.20" y1="172.50" x2="1808.20" y2="276.00" stroke="#333333" stroke-width="4.2" />
<line x1="1808.20" y1="394.80" x2="1808.20" y2="435.10" stroke="#333333" stroke-width="4.2" />
<rect x="1783.10" y="276.00" width="50.20" height="118.80" fill="#FF0000" stroke="#333333" stroke-width="4.2"/>
<line x1="1783.10" y1="305.60" x2="1833.30" y2="305.60" stroke="#333333" stroke-width="8.4" />
<circle cx="1892.0" cy="302.4" r="8.3" fill="#333333"/>
<circle cx="1892.0" cy="372.5" r="8.3" fill="#333333"/>
<line x1="1892.40" y1="366.10" x2="1892.40" y2="422.10" stroke="#333333" stroke-width="4.2" />
<line x1="1892.40" y1="437.30" x2="1892.40" y2="437.30" stroke="#333333" stroke-width="4.2" />
<rect x="1867.30" y="422.10" width="50.20" height="15.20" fill="#ADD8E6" stroke="#333333" stroke-width="4.2"/>
<line x1="1867.30" y1="436.50" x2="1917.50" y2="436.50" stroke="#333333" stroke-width="8.4" />
<line x1="1942.80" y1="292.70" x2="1942.80" y2="310.50" stroke="#333333" stroke-width="4.2" />
<line x1="1942.80" y1="382.70" x2="1942.80" y2="411.40" stroke="#333333" stroke-width="4.2" />
<rect x="1917.70" y="310.50" width="50.20" height="72.20" fill="#FF0000" stroke="#333333" stroke-width="4.2"/>
<line x1="1917.70" y1="355.90" x2="1967.90" y2="355.90" stroke="#333333" stroke-width="8.4" />
<circle cx="1216.6" cy="365.5" r="7.5" fill="#ADD8E6" fill-opacity="0.7" stroke="#000" stroke-opacity="0.8" stroke-width="2.5"/>
<circle cx="1223.8" cy="365.4" r="7.5" fill="#ADD8E6" fill-opacity="0.7" stroke="#000" stroke-opacity="0.8" stroke-width="2.5"/>
<circle cx="1221.3" cy="365.7" r="7.5" fill="#ADD8E6" fill-opacity="0.7" stroke="#000" stroke-opacity="0.8" stroke-width="2.5"/>
<circle cx="1210.8" cy="365.8" r="7.5" fill="#ADD8E6" fill-opacity="0.7" stroke="#000" stroke-opacity="0.8" stroke-width="2.5"/>
<circle cx="1210.3" cy="365.7" r="7.5" fill="#ADD8E6" fill-opacity="0.7" stroke="#000" stroke-opacity="0.8" stroke-width="2.5"/>
<circle cx="1211.0" cy="365.4" r="7.5" fill="#ADD8E6" fill-opacity="0.7" stroke="#000" stroke-opacity="0.8" stroke-width="2.5"/>
<circle cx="1218.8" cy="366.1" r="7.5" fill="#ADD8E6" fill-opacity="0.7" stroke="#000" stroke-opacity="0.8" stroke-width="2.5"/>
<circle cx="1212.2" cy="365.5" r="7.5" fill="#ADD8E6" fill-opacity="0.7" stroke="#000" stroke-opacity="0.8" stroke-width="2.5"/>
<circle cx="1223.3" cy="366.2" r="7.5" fill="#ADD8E6" fill-opacity="0.7" stroke="#000" stroke-opacity="0.8" stroke-width="2.5"/>
<circle cx="1222.2" cy="365.7" r="7.5" fill="#ADD8E6" fill-opacity="0.7" stroke="#000" stroke-opacity="0.8" stroke-width="2.5"/>
<circle cx="1231.0" cy="365.3" r="7.5" fill="#ADD8E6" fill-opacity="0.7" stroke="#000" stroke-opacity="0.8" stroke-width="2.5"/>
<circle cx="1228.4" cy="365.6" r="7.5" fill="#ADD8E6" fill-opacity="0.7" stroke="#000" stroke-opacity="0.8" stroke-width="2.5"/>
<circle cx="1212.7" cy="365.4" r="7.5" fill="#ADD8E6" fill-opacity="0.7" stroke="#000" stroke-opacity="0.8" stroke-width="2.5"/>
<circle cx="1216.3" cy="366.1" r="7.5" fill="#ADD8E6" fill-opacity="0.7" stroke="#000" stroke-opacity="0.8" stroke-width="2.5"/>
<circle cx="1213.5" cy="365.9" r="7.5" fill="#ADD8E6" fill-opacity="0.7" stroke="#000" stroke-opacity="0.8" stroke-width="2.5"/>
<circle cx="1223.6" cy="365.7" r="7.5" fill="#ADD8E6" fill-opacity="0.7" stroke="#000" stroke-opacity="0.8" stroke-width="2.5"/>
<circle cx="1221.6" cy="365.4" r="7.5" fill="#ADD8E6" fill-opacity="0.7" stroke="#000" stroke-opacity="0.8" stroke-width="2.5"/>
<circle cx="1210.8" cy="365.5" r="7.5" fill="#ADD8E6" fill-opacity="0.7" stroke="#000" stroke-opacity="0.8" stroke-width="2.5"/>
<circle cx="1224.5" cy="365.7" r="7.5" fill="#ADD8E6" fill-opacity="0.7" stroke="#000" stroke-opacity="0.8" stroke-width="2.5"/>
<circle cx="1216.4" cy="365.9" r="7.5" fill="#ADD8E6" fill-opacity="0.7" stroke="#000" stroke-opacity="0.8" stroke-width="2.5"/>
<circle cx="1219.5" cy="365.6" r="7.5" fill="#ADD8E6" fill-opacity="0.7" stroke="#000" stroke-opacity="0.8" stroke-width="2.5"/>
<circle cx="1227.0" cy="366.0" r="7.5" fill="#ADD8E6" fill-opacity="0.7" stroke="#000" stroke-opacity="0.8" stroke-width="2.5"/>
<circle cx="1214.9" cy="365.9" r="7.5" fill="#ADD8E6" fill-opacity="0.7" stroke="#000" stroke-opacity="0.8" stroke-width="2.5"/>
<circle cx="1221.1" cy="366.2" r="7.5" fill="#ADD8E6" fill-opacity="0.7" stroke="#000" stroke-opacity="0.8" stroke-width="2.5"/>
<circle cx="1225.5" cy="365.6" r="7.5" fill="#ADD8E6" fill-opacity="0.7" stroke="#000" stroke-opacity="0.8" stroke-width="2.5"/>
<circle cx="1231.1" cy="365.4" r="7.5" fill="#ADD8E6" fill-opacity="0.7" stroke="#000" stroke-opacity="0.8" stroke-width="2.5"/>
<circle cx="1218.7" cy="366.1" r="7.5" fill="#ADD8E6" fill-opacity="0.7" stroke="#000" stroke-opacity="0.8" stroke-width="2.5"/>
<circle cx="1212.8" cy="365.8" r="7.5" fill="#ADD8E6" fill-opacity="0.7" stroke="#000" stroke-opacity="0.8" stroke-width="2.5"/>
<circle cx="1210.4" cy="366.0" r="7.5" fill="#ADD8E6" fill-opacity="0.7" stroke="#000" stroke-opacity="0.8" stroke-width="2.5"/>
<circle cx="1226.3" cy="365.9" r="7.5" fill="#ADD8E6" fill-opacity="0.7" stroke="#000" stroke-opacity="0.8" stroke-width="2.5"/>
<circle cx="1228.8" cy="365.6" r="7.5" fill="#ADD8E6" fill-opacity="0.7" stroke="#000" stroke-opacity="0.8" stroke-width="2.5"/>
<circle cx="1224.8" cy="365.9" r="7.5" fill="#ADD8E6" fill-opacity="0.7" stroke="#000" stroke-opacity="0.8" stroke-width="2.5"/>
<circle cx="1222.3" cy="365.8" r="7.5" fill="#ADD8E6" fill-opacity="0.7" stroke="#000" stroke-opacity="0.8" stroke-width="2.5"/>
<circle cx="1228.0" cy="366.2" r="7.5" fill="#ADD8E6" fill-opacity="0.7" stroke="#000" stroke-opacity="0.8" stroke-width="2.5"/>
<circle cx="1219.9" cy="366.0" r="7.5" fill="#ADD8E6" fill-opacity="0.7" stroke="#000" stroke-opacity="0.8" stroke-width="2.5"/>
<circle cx="1210.8" cy="366.0" r="7.5" fill="#ADD8E6" fill-opacity="0.7" stroke="#000" stroke-opacity="0.8" stroke-width="2.5"/>
<circle cx="1223.7" cy="366.3" r="7.5" fill="#ADD8E6" fill-opacity="0.7" stroke="#000" stroke-opacity="0.8" stroke-width="2.5"/>
<circle cx="1227.6" cy="365.6" r="7.5" fill="#ADD8E6" fill-opacity="0.7" stroke="#000" stroke-opacity="0.8" stroke-width="2.5"/>
<circle cx="1218.0" cy="366.0" r="7.5" fill="#ADD8E6" fill-opacity="0.7" stroke="#000" stroke-opacity="0.8" stroke-width="2.5"/>
<circle cx="1210.0" cy="365.8" r="7.5" fill="#ADD8E6" fill-opacity="0.7" stroke="#000" stroke-opacity="0.8" stroke-width="2.5"/>
<circle cx="1213.2" cy="365.4" r="7.5" fill="#ADD8E6" fill-opacity="0.7" stroke="#000" stroke-opacity="0.8" stroke-width="2.5"/>
<circle cx="1210.8" cy="366.1" r="7.5" fill="#ADD8E6" fill-opacity="0.7" stroke="#000" stroke-opacity="0.8" stroke-width="2.5"/>
<circle cx="1212.3" cy="365.5" r="7.5" fill="#ADD8E6" fill-opacity="0.7" stroke="#000" stroke-opacity="0.8" stroke-width="2.5"/>
<circle cx="1218.1" cy="366.2" r="7.5" fill="#ADD8E6" fill-opacity="0.7" stroke="#000" stroke-opacity="0.8" stroke-width="2.5"/>
<circle cx="1211.3" cy="365.7" r="7.5" fill="#ADD8E6" fill-opacity="0.7" stroke="#000" stroke-opacity="0.8" stroke-width="2.5"/>
<circle cx="1221.6" cy="366.2" r="7.5" fill="#ADD8E6" fill-opacity="0.7" stroke="#000" stroke-opacity="0.8" stroke-width="2.5"/>
<circle cx="1227.5" cy="366.2" r="7.5" fill="#ADD8E6" fill-opacity="0.7" stroke="#000" stroke-opacity="0.8" stroke-width="2.5"/>
<circle cx="1215.6" cy="365.7" r="7.5" fill="#ADD8E6" fill-opacity="0.7" stroke="#000" stroke-opacity="0.8" stroke-width="2.5"/>
<circle cx="1217.4" cy="366.2" r="7.5" fill="#ADD8E6" fill-opacity="0.7" stroke="#000" stroke-opacity="0.8" stroke-width="2.5"/>
<circle cx="1230.6" cy="365.5" r="7.5" fill="#ADD8E6" fill-opacity="0.7" stroke="#000" stroke-opacity="0.8" stroke-width="2.5"/>
<circle cx="1213.4" cy="365.5" r="7.5" fill="#ADD8E6" fill-opacity="0.7" stroke="#000" stroke-opacity="0.8" stroke-width="2.5"/>
<circle cx="1214.6" cy="365.8" r="7.5" fill="#ADD8E6" fill-opacity="0.7" stroke="#000" stroke-opacity="0.8" stroke-width="2.5"/>
<circle cx="1222.5" cy="365.6" r="7.5" fill="#ADD8E6" fill-opacity="0.7" stroke="#000" stroke-opacity="0.8" stroke-width="2.5"/>
<circle cx="1209.6" cy="365.7" r="7.5" fill="#ADD8E6" fill-opacity="0.7" stroke="#000" stroke-opacity="0.8" stroke-width="2.5"/>
<circle cx="1217.6" cy="365.9" r="7.5" fill="#ADD8E6" fill-opacity="0.7" stroke="#000" stroke-opacity="0.8" stroke-width="2.5"/>
<circle cx="1230.5" cy="366.0" r="7.5" fill="#ADD8E6" fill-opacity="0.7" stroke="#000" stroke-opacity="0.8" stroke-width="2.5"/>
<circle cx="1220.8" cy="365.9" r="7.5" fill="#ADD8E6" fill-opacity="0.7" stroke="#000" stroke-opacity="0.8" stroke-width="2.5"/>
<circle cx="1224.4" cy="365.4" r="7.5" fill="#ADD8E6" fill-opacity="0.7" stroke="#000" stroke-opacity="0.8" stroke-width="2.5"/>
<circle cx="1229.3" cy="366.1" r="7.5" fill="#ADD8E6" fill-opacity="0.7" stroke="#000" stroke-opacity="0.8" stroke-width="2.5"/>
<circle cx="1228.7" cy="366.1" r="7.5" fill="#ADD8E6" fill-opacity="0.7" stroke="#000" stroke-opacity="0.8" stroke-width="2.5"/>
<circle cx="1218.1" cy="365.7" r="7.5" fill="#ADD8E6" fill-opacity="0.7" stroke="#000" stroke-opacity="0.8" stroke-width="2.5"/>
<circle cx="1211.8" cy="365.9" r="7.5" fill="#ADD8E6" fill-opacity="0.7" stroke="#000" stroke-opacity="0.8" stroke-width="2.5"/>
<circle cx="1210.9" cy="365.4" r="7.5" fill="#ADD8E6" fill-opacity="0.7" stroke="#000" stroke-opacity="0.8" stroke-width="2.5"/>
<circle cx="1214.1" cy="365.5" r="7.5" fill="#ADD8E6" fill-opacity="0.7" stroke="#000" stroke-opacity="0.8" stroke-width="2.5"/>
<circle cx="1217.0" cy="365.4" r="7.5" fill="#ADD8E6" fill-opacity="0.7" stroke="#000" stroke-opacity="0.8" stroke-width="2.5"/>
<circle cx="1209.5" cy="365.5" r="7.5" fill="#ADD8E6" fill-opacity="0.7" stroke="#000" stroke-opacity="0.8" stroke-width="2.5"/>
<circle cx="1211.7" cy="365.7" r="7.5" fill="#ADD8E6" fill-opacity="0.7" stroke="#000" stroke-opacity="0.8" stroke-width="2.5"/>
<circle cx="1210.1" cy="366.2" r="7.5" fill="#ADD8E6" fill-opacity="0.7" stroke="#000" stroke-opacity="0.8" stroke-width="2.5"/>
<circle cx="1223.0" cy="365.4" r="7.5" fill="#ADD8E6" fill-opacity="0.7" stroke="#000" stroke-opacity="0.8" stroke-width="2.5"/>
<circle cx="1215.0" cy="365.6" r="7.5" fill="#ADD8E6" fill-opacity="0.7" stroke="#000" stroke-opacity="0.8" stroke-width="2.5"/>
<circle cx="1217.5" cy="365.4" r="7.5" fill="#ADD8E6" fill-opacity="0.7" stroke="#000" stroke-opacity="0.8" stroke-width="2.5"/>
<circle cx="1228.2" cy="366.3" r="7.5" fill="#ADD8E6" fill-opacity="0.7" stroke="#000" stroke-opacity="0.8" stroke-width="2.5"/>
<circle cx="1219.8" cy="365.8" r="7.5" fill="#ADD8E6" fill-opacity="0.7" stroke="#000" stroke-opacity="0.8" stroke-width="2.5"/>
<circle cx="1211.4" cy="365.4" r="7.5" fill="#ADD8E6" fill-opacity="0.7" stroke="#000" stroke-opacity="0.8" stroke-width="2.5"/>
<circle cx="1217.0" cy="365.6" r="7.5" fill="#ADD8E6" fill-opacity="0.7" stroke="#000" stroke-opacity="0.8" stroke-width="2.5"/>
<circle cx="1277.6" cy="157.1" r="7.5" fill="#FF0000" fill-opacity="0.7" stroke="#000" stroke-opacity="0.8" stroke-width="2.5"/>
<circle cx="1264.0" cy="172.9" r="7.5" fill="#FF0000" fill-opacity="0.7" stroke="#000" stroke-opacity="0.8" stroke-width="2.5"/>
<circle cx="1276.6" cy="179.8" r="7.5" fill="#FF0000" fill-opacity="0.7" stroke="#000" stroke-opacity="0.8" stroke-width="2.5"/>
<circle cx="1271.2" cy="197.7" r="7.5" fill="#FF0000" fill-opacity="0.7" stroke="#000" stroke-opacity="0.8" stroke-width="2.5"/>
<circle cx="1257.1" cy="201.6" r="7.5" fill="#FF0000" fill-opacity="0.7" stroke="#000" stroke-opacity="0.8" stroke-width="2.5"/>
<circle cx="1261.4" cy="208.9" r="7.5" fill="#FF0000" fill-opacity="0.7" stroke="#000" stroke-opacity="0.8" stroke-width="2.5"/>
<circle cx="1258.2" cy="216.1" r="7.5" fill="#FF0000" fill-opacity="0.7" stroke="#000" stroke-opacity="0.8" stroke-width="2.5"/>
<circle cx="1261.0" cy="220.4" r="7.5" fill="#FF0000" fill-opacity="0.7" stroke="#000" stroke-opacity="0.8" stroke-width="2.5"/>
<circle cx="1265.1" cy="248.4" r="7.5" fill="#FF0000" fill-opacity="0.7" stroke="#000" stroke-opacity="0.8" stroke-width="2.5"/>
<circle cx="1274.4" cy="267.9" r="7.5" fill="#FF0000" fill-opacity="0.7" stroke="#000" stroke-opacity="0.8" stroke-width="2.5"/>
<circle cx="1265.1" cy="277.1" r="7.5" fill="#FF0000" fill-opacity="0.7" stroke="#000" stroke-opacity="0.8" stroke-width="2.5"/>
<circle cx="1274.4" cy="277.1" r="7.5" fill="#FF0000" fill-opacity="0.7" stroke="#000" stroke-opacity="0.8" stroke-width="2.5"/>
<circle cx="1270.7" cy="291.2" r="7.5" fill="#FF0000" fill-opacity="0.7" stroke="#000" stroke-opacity="0.8" stroke-width="2.5"/>
<circle cx="1279.4" cy="292.7" r="7.5" fill="#FF0000" fill-opacity="0.7" stroke="#000" stroke-opacity="0.8" stroke-width="2.5"/>
<circle cx="1282.0" cy="298.1" r="7.5" fill="#FF0000" fill-opacity="0.7" stroke="#000" stroke-opacity="0.8" stroke-width="2.5"/>
<circle cx="1279.4" cy="304.5" r="7.5" fill="#FF0000" fill-opacity="0.7" stroke="#000" stroke-opacity="0.8" stroke-width="2.5"/>
<circle cx="1263.2" cy="316.4" r="7.5" fill="#FF0000" fill-opacity="0.7" stroke="#000" stroke-opacity="0.8" stroke-width="2.5"/>
<circle cx="1272.9" cy="319.7" r="7.5" fill="#FF0000" fill-opacity="0.7" stroke="#000" stroke-opacity="0.8" stroke-width="2.5"/>
<circle cx="1274.4" cy="322.9" r="7.5" fill="#FF0000" fill-opacity="0.7" stroke="#000" stroke-opacity="0.8" stroke-width="2.5"/>
<circle cx="1364.6" cy="211.7" r="7.5" fill="#ADD8E6" fill-opacity="0.7" stroke="#000" stroke-opacity="0.8" stroke-width="2.5"/>
<circle cx="1342.4" cy="218.9" r="7.5" fill="#ADD8E6" fill-opacity="0.7" stroke="#000" stroke-opacity="0.8" stroke-width="2.5"/>
<circle cx="1344.5" cy="258.1" r="7.5" fill="#ADD8E6" fill-opacity="0.7" stroke="#000" stroke-opacity="0.8" stroke-width="2.5"/>
<circle cx="1351.0" cy="260.3" r="7.5" fill="#ADD8E6" fill-opacity="0.7" stroke="#000" stroke-opacity="0.8" stroke-width="2.5"/>
<circle cx="1362.9" cy="263.5" r="7.5" fill="#ADD8E6" fill-opacity="0.7" stroke="#000" stroke-opacity="0.8" stroke-width="2.5"/>
<circle cx="1339.1" cy="267.9" r="7.5" fill="#ADD8E6" fill-opacity="0.7" stroke="#000" stroke-opacity="0.8" stroke-width="2.5"/>
<circle cx="1364.0" cy="273.2" r="7.5" fill="#ADD8E6" fill-opacity="0.7" stroke="#000" stroke-opacity="0.8" stroke-width="2.5"/>
<circle cx="1346.7" cy="283.0" r="7.5" fill="#ADD8E6" fill-opacity="0.7" stroke="#000" stroke-opacity="0.8" stroke-width="2.5"/>
<circle cx="1360.7" cy="288.4" r="7.5" fill="#ADD8E6" fill-opacity="0.7" stroke="#000" stroke-opacity="0.8" stroke-width="2.5"/>
<circle cx="1343.5" cy="298.1" r="7.5" fill="#ADD8E6" fill-opacity="0.7" stroke="#000" stroke-opacity="0.8" stroke-width="2.5"/>
<circle cx="1353.2" cy="295.9" r="7.5" fill="#ADD8E6" fill-opacity="0.7" stroke="#000" stroke-opacity="0.8" stroke-width="2.5"/>
<circle cx="1355.3" cy="300.2" r="7.5" fill="#ADD8E6" fill-opacity="0.7" stroke="#000" stroke-opacity="0.8" stroke-width="2.5"/>
<circle cx="1340.2" cy="307.8" r="7.5" fill="#ADD8E6" fill-opacity="0.7" stroke="#000" stroke-opacity="0.8" stroke-width="2.5"/>
<circle cx="1364.0" cy="309.9" r="7.5" fill="#ADD8E6" fill-opacity="0.7" stroke="#000" stroke-opacity="0.8" stroke-width="2.5"/>
<circle cx="1341.3" cy="315.3" r="7.5" fill="#ADD8E6" fill-opacity="0.7" stroke="#000" stroke-opacity="0.8" stroke-width="2.5"/>
<circle cx="1344.1" cy="321.8" r="7.5" fill="#ADD8E6" fill-opacity="0.7" stroke="#000" stroke-opacity="0.8" stroke-width="2.5"/>
<circle cx="1359.7" cy="333.7" r="7.5" fill="#ADD8E6" fill-opacity="0.7" stroke="#000" stroke-opacity="0.8" stroke-width="2.5"/>
<circle cx="1352.1" cy="335.8" r="7.5" fill="#ADD8E6" fill-opacity="0.7" stroke="#000" stroke-opacity="0.8" stroke-width="2.5"/>
<circle cx="1350.4" cy="365.0" r="7.5" fill="#ADD8E6" fill-opacity="0.7" stroke="#000" stroke-opacity="0.8" stroke-width="2.5"/>
<circle cx="1349.9" cy="264.6" r="7.5" fill="#ADD8E6" fill-opacity="0.7" stroke="#000" stroke-opacity="0.8" stroke-width="2.5"/>
<circle cx="1355.3" cy="271.1" r="7.5" fill="#ADD8E6" fill-opacity="0.7" stroke="#000" stroke-opacity="0.8" stroke-width="2.5"/>
<circle cx="1357.5" cy="277.6" r="7.5" fill="#ADD8E6" fill-opacity="0.7" stroke="#000" stroke-opacity="0.8" stroke-width="2.5"/>
<circle cx="1347.8" cy="290.5" r="7.5" fill="#ADD8E6" fill-opacity="0.7" stroke="#000" stroke-opacity="0.8" stroke-width="2.5"/>
<circle cx="1354.3" cy="284.0" r="7.5" fill="#ADD8E6" fill-opacity="0.7" stroke="#000" stroke-opacity="0.8" stroke-width="2.5"/>
<circle cx="1345.6" cy="305.6" r="7.5" fill="#ADD8E6" fill-opacity="0.7" stroke="#000" stroke-opacity="0.8" stroke-width="2.5"/>
<circle cx="1397.4" cy="200.3" r="7.5" fill="#FF0000" fill-opacity="0.7" stroke="#000" stroke-opacity="0.8" stroke-width="2.5"/>
<circle cx="1408.2" cy="207.4" r="7.5" fill="#FF0000" fill-opacity="0.7" stroke="#000" stroke-opacity="0.8" stroke-width="2.5"/>
<circle cx="1414.7" cy="215.0" r="7.5" fill="#FF0000" fill-opacity="0.7" stroke="#000" stroke-opacity="0.8" stroke-width="2.5"/>
<circle cx="1396.3" cy="219.3" r="7.5" fill="#FF0000" fill-opacity="0.7" stroke="#000" stroke-opacity="0.8" stroke-width="2.5"/>
<circle cx="1414.7" cy="223.6" r="7.5" fill="#FF0000" fill-opacity="0.7" stroke="#000" stroke-opacity="0.8" stroke-width="2.5"/>
<circle cx="1407.1" cy="232.2" r="7.5" fill="#FF0000" fill-opacity="0.7" stroke="#000" stroke-opacity="0.8" stroke-width="2.5"/>
<circle cx="1394.2" cy="237.6" r="7.5" fill="#FF0000" fill-opacity="0.7" stroke="#000" stroke-opacity="0.8" stroke-width="2.5"/>
<circle cx="1391.0" cy="243.0" r="7.5" fill="#FF0000" fill-opacity="0.7" stroke="#000" stroke-opacity="0.8" stroke-width="2.5"/>
<circle cx="1402.8" cy="253.8" r="7.5" fill="#FF0000" fill-opacity="0.7" stroke="#000" stroke-opacity="0.8" stroke-width="2.5"/>
<circle cx="1395.3" cy="265.7" r="7.5" fill="#FF0000" fill-opacity="0.7" stroke="#000" stroke-opacity="0.8" stroke-width="2.5"/>
<circle cx="1408.2" cy="270.0" r="7.5" fill="#FF0000" fill-opacity="0.7" stroke="#000" stroke-opacity="0.8" stroke-width="2.5"/>
<circle cx="1417.9" cy="275.4" r="7.5" fill="#FF0000" fill-opacity="0.7" stroke="#000" stroke-opacity="0.8" stroke-width="2.5"/>
<circle cx="1407.1" cy="281.9" r="7.5" fill="#FF0000" fill-opacity="0.7" stroke="#000" stroke-opacity="0.8" stroke-width="2.5"/>
<circle cx="1392.0" cy="284.0" r="7.5" fill="#FF0000" fill-opacity="0.7" stroke="#000" stroke-opacity="0.8" stroke-width="2.5"/>
<circle cx="1396.3" cy="292.7" r="7.5" fill="#FF0000" fill-opacity="0.7" stroke="#000" stroke-opacity="0.8" stroke-width="2.5"/>
<circle cx="1396.3" cy="328.9" r="7.5" fill="#FF0000" fill-opacity="0.7" stroke="#000" stroke-opacity="0.8" stroke-width="2.5"/>
<circle cx="1412.1" cy="334.8" r="7.5" fill="#FF0000" fill-opacity="0.7" stroke="#000" stroke-opacity="0.8" stroke-width="2.5"/>
<circle cx="1478.4" cy="209.6" r="7.5" fill="#ADD8E6" fill-opacity="0.7" stroke="#000" stroke-opacity="0.8" stroke-width="2.5"/>
<circle cx="1480.5" cy="227.3" r="7.5" fill="#ADD8E6" fill-opacity="0.7" stroke="#000" stroke-opacity="0.8" stroke-width="2.5"/>
<circle cx="1502.1" cy="250.6" r="7.5" fill="#ADD8E6" fill-opacity="0.7" stroke="#000" stroke-opacity="0.8" stroke-width="2.5"/>
<circle cx="1476.9" cy="253.8" r="7.5" fill="#ADD8E6" fill-opacity="0.7" stroke="#000" stroke-opacity="0.8" stroke-width="2.5"/>
<circle cx="1482.7" cy="264.6" r="7.5" fill="#ADD8E6" fill-opacity="0.7" stroke="#000" stroke-opacity="0.8" stroke-width="2.5"/>
<circle cx="1494.6" cy="271.1" r="7.5" fill="#ADD8E6" fill-opacity="0.7" stroke="#000" stroke-opacity="0.8" stroke-width="2.5"/>
<circle cx="1492.4" cy="281.9" r="7.5" fill="#ADD8E6" fill-opacity="0.7" stroke="#000" stroke-opacity="0.8" stroke-width="2.5"/>
<circle cx="1479.4" cy="286.2" r="7.5" fill="#ADD8E6" fill-opacity="0.7" stroke="#000" stroke-opacity="0.8" stroke-width="2.5"/>
<circle cx="1485.9" cy="284.0" r="7.5" fill="#ADD8E6" fill-opacity="0.7" stroke="#000" stroke-opacity="0.8" stroke-width="2.5"/>
<circle cx="1497.8" cy="290.5" r="7.5" fill="#ADD8E6" fill-opacity="0.7" stroke="#000" stroke-opacity="0.8" stroke-width="2.5"/>
<circle cx="1477.3" cy="294.8" r="7.5" fill="#ADD8E6" fill-opacity="0.7" stroke="#000" stroke-opacity="0.8" stroke-width="2.5"/>
<circle cx="1484.8" cy="306.7" r="7.5" fill="#ADD8E6" fill-opacity="0.7" stroke="#000" stroke-opacity="0.8" stroke-width="2.5"/>
<circle cx="1477.3" cy="307.8" r="7.5" fill="#ADD8E6" fill-opacity="0.7" stroke="#000" stroke-opacity="0.8" stroke-width="2.5"/>
<circle cx="1480.5" cy="318.6" r="7.5" fill="#ADD8E6" fill-opacity="0.7" stroke="#000" stroke-opacity="0.8" stroke-width="2.5"/>
<circle cx="1491.3" cy="324.4" r="7.5" fill="#ADD8E6" fill-opacity="0.7" stroke="#000" stroke-opacity="0.8" stroke-width="2.5"/>
<circle cx="1498.2" cy="341.2" r="7.5" fill="#ADD8E6" fill-opacity="0.7" stroke="#000" stroke-opacity="0.8" stroke-width="2.5"/>
<circle cx="1476.6" cy="345.6" r="7.5" fill="#ADD8E6" fill-opacity="0.7" stroke="#000" stroke-opacity="0.8" stroke-width="2.5"/>
<circle cx="1488.1" cy="275.4" r="7.5" fill="#ADD8E6" fill-opacity="0.7" stroke="#000" stroke-opacity="0.8" stroke-width="2.5"/>
<circle cx="1483.8" cy="279.7" r="7.5" fill="#ADD8E6" fill-opacity="0.7" stroke="#000" stroke-opacity="0.8" stroke-width="2.5"/>
<circle cx="1490.2" cy="288.4" r="7.5" fill="#ADD8E6" fill-opacity="0.7" stroke="#000" stroke-opacity="0.8" stroke-width="2.5"/>
<circle cx="1481.6" cy="292.7" r="7.5" fill="#ADD8E6" fill-opacity="0.7" stroke="#000" stroke-opacity="0.8" stroke-width="2.5"/>
<circle cx="1475.1" cy="288.4" r="7.5" fill="#ADD8E6" fill-opacity="0.7" stroke="#000" stroke-opacity="0.8" stroke-width="2.5"/>
<circle cx="1531.2" cy="187.6" r="7.5" fill="#FF0000" fill-opacity="0.7" stroke="#000" stroke-opacity="0.8" stroke-width="2.5"/>
<circle cx="1543.1" cy="191.2" r="7.5" fill="#FF0000" fill-opacity="0.7" stroke="#000" stroke-opacity="0.8" stroke-width="2.5"/>
<circle cx="1551.8" cy="200.9" r="7.5" fill="#FF0000" fill-opacity="0.7" stroke="#000" stroke-opacity="0.8" stroke-width="2.5"/>
<circle cx="1525.9" cy="205.3" r="7.5" fill="#FF0000" fill-opacity="0.7" stroke="#000" stroke-opacity="0.8" stroke-width="2.5"/>
<circle cx="1533.4" cy="210.7" r="7.5" fill="#FF0000" fill-opacity="0.7" stroke="#000" stroke-opacity="0.8" stroke-width="2.5"/>
<circle cx="1552.2" cy="207.4" r="7.5" fill="#FF0000" fill-opacity="0.7" stroke="#000" stroke-opacity="0.8" stroke-width="2.5"/>
<circle cx="1528.0" cy="227.9" r="7.5" fill="#FF0000" fill-opacity="0.7" stroke="#000" stroke-opacity="0.8" stroke-width="2.5"/>
<circle cx="1526.9" cy="232.2" r="7.5" fill="#FF0000" fill-opacity="0.7" stroke="#000" stroke-opacity="0.8" stroke-width="2.5"/>
<circle cx="1533.0" cy="244.1" r="7.5" fill="#FF0000" fill-opacity="0.7" stroke="#000" stroke-opacity="0.8" stroke-width="2.5"/>
<circle cx="1550.2" cy="250.2" r="7.5" fill="#FF0000" fill-opacity="0.7" stroke="#000" stroke-opacity="0.8" stroke-width="2.5"/>
<circle cx="1537.3" cy="256.0" r="7.5" fill="#FF0000" fill-opacity="0.7" stroke="#000" stroke-opacity="0.8" stroke-width="2.5"/>
<circle cx="1546.4" cy="273.7" r="7.5" fill="#FF0000" fill-opacity="0.7" stroke="#000" stroke-opacity="0.8" stroke-width="2.5"/>
<circle cx="1550.7" cy="278.6" r="7.5" fill="#FF0000" fill-opacity="0.7" stroke="#000" stroke-opacity="0.8" stroke-width="2.5"/>
<circle cx="1547.4" cy="291.6" r="7.5" fill="#FF0000" fill-opacity="0.7" stroke="#000" stroke-opacity="0.8" stroke-width="2.5"/>
<circle cx="1525.4" cy="297.4" r="7.5" fill="#FF0000" fill-opacity="0.7" stroke="#000" stroke-opacity="0.8" stroke-width="2.5"/>
<circle cx="1548.5" cy="298.1" r="7.5" fill="#FF0000" fill-opacity="0.7" stroke="#000" stroke-opacity="0.8" stroke-width="2.5"/>
<circle cx="1545.7" cy="305.6" r="7.5" fill="#FF0000" fill-opacity="0.7" stroke="#000" stroke-opacity="0.8" stroke-width="2.5"/>
<circle cx="1625.1" cy="436.7" r="7.5" fill="#ADD8E6" fill-opacity="0.7" stroke="#000" stroke-opacity="0.8" stroke-width="2.5"/>
<circle cx="1611.4" cy="438.7" r="7.5" fill="#ADD8E6" fill-opacity="0.7" stroke="#000" stroke-opacity="0.8" stroke-width="2.5"/>
<circle cx="1620.0" cy="436.7" r="7.5" fill="#ADD8E6" fill-opacity="0.7" stroke="#000" stroke-opacity="0.8" stroke-width="2.5"/>
<circle cx="1620.2" cy="436.4" r="7.5" fill="#ADD8E6" fill-opacity="0.7" stroke="#000" stroke-opacity="0.8" stroke-width="2.5"/>
<circle cx="1620.0" cy="438.7" r="7.5" fill="#ADD8E6" fill-opacity="0.7" stroke="#000" stroke-opacity="0.8" stroke-width="2.5"/>
<circle cx="1625.7" cy="438.0" r="7.5" fill="#ADD8E6" fill-opacity="0.7" stroke="#000" stroke-opacity="0.8" stroke-width="2.5"/>
<circle cx="1615.4" cy="437.2" r="7.5" fill="#ADD8E6" fill-opacity="0.7" stroke="#000" stroke-opacity="0.8" stroke-width="2.5"/>
<circle cx="1613.8" cy="438.2" r="7.5" fill="#ADD8E6" fill-opacity="0.7" stroke="#000" stroke-opacity="0.8" stroke-width="2.5"/>
<circle cx="1620.1" cy="438.2" r="7.5" fill="#ADD8E6" fill-opacity="0.7" stroke="#000" stroke-opacity="0.8" stroke-width="2.5"/>
<circle cx="1616.6" cy="436.9" r="7.5" fill="#ADD8E6" fill-opacity="0.7" stroke="#000" stroke-opacity="0.8" stroke-width="2.5"/>
<circle cx="1624.8" cy="438.8" r="7.5" fill="#ADD8E6" fill-opacity="0.7" stroke="#000" stroke-opacity="0.8" stroke-width="2.5"/>
<circle cx="1625.5" cy="438.3" r="7.5" fill="#ADD8E6" fill-opacity="0.7" stroke="#000" stroke-opacity="0.8" stroke-width="2.5"/>
<circle cx="1624.9" cy="438.1" r="7.5" fill="#ADD8E6" fill-opacity="0.7" stroke="#000" stroke-opacity="0.8" stroke-width="2.5"/>
<circle cx="1614.9" cy="437.6" r="7.5" fill="#ADD8E6" fill-opacity="0.7" stroke="#000" stroke-opacity="0.8" stroke-width="2.5"/>
<circle cx="1617.0" cy="436.4" r="7.5" fill="#ADD8E6" fill-opacity="0.7" stroke="#000" stroke-opacity="0.8" stroke-width="2.5"/>
<circle cx="1611.5" cy="437.0" r="7.5" fill="#ADD8E6" fill-opacity="0.7" stroke="#000" stroke-opacity="0.8" stroke-width="2.5"/>
<circle cx="1615.4" cy="438.0" r="7.5" fill="#ADD8E6" fill-opacity="0.7" stroke="#000" stroke-opacity="0.8" stroke-width="2.5"/>
<circle cx="1627.3" cy="437.4" r="7.5" fill="#ADD8E6" fill-opacity="0.7" stroke="#000" stroke-opacity="0.8" stroke-width="2.5"/>
<circle cx="1626.9" cy="438.8" r="7.5" fill="#ADD8E6" fill-opacity="0.7" stroke="#000" stroke-opacity="0.8" stroke-width="2.5"/>
<circle cx="1627.2" cy="437.2" r="7.5" fill="#ADD8E6" fill-opacity="0.7" stroke="#000" stroke-opacity="0.8" stroke-width="2.5"/>
<circle cx="1614.7" cy="436.9" r="7.5" fill="#ADD8E6" fill-opacity="0.7" stroke="#000" stroke-opacity="0.8" stroke-width="2.5"/>
<circle cx="1614.3" cy="436.8" r="7.5" fill="#ADD8E6" fill-opacity="0.7" stroke="#000" stroke-opacity="0.8" stroke-width="2.5"/>
<circle cx="1621.6" cy="438.6" r="7.5" fill="#ADD8E6" fill-opacity="0.7" stroke="#000" stroke-opacity="0.8" stroke-width="2.5"/>
<circle cx="1625.3" cy="437.5" r="7.5" fill="#ADD8E6" fill-opacity="0.7" stroke="#000" stroke-opacity="0.8" stroke-width="2.5"/>
<circle cx="1622.1" cy="438.3" r="7.5" fill="#ADD8E6" fill-opacity="0.7" stroke="#000" stroke-opacity="0.8" stroke-width="2.5"/>
<circle cx="1612.4" cy="438.0" r="7.5" fill="#ADD8E6" fill-opacity="0.7" stroke="#000" stroke-opacity="0.8" stroke-width="2.5"/>
<circle cx="1628.7" cy="376.9" r="7.5" fill="#ADD8E6" fill-opacity="0.7" stroke="#000" stroke-opacity="0.8" stroke-width="2.5"/>
<circle cx="1664.3" cy="294.4" r="7.5" fill="#FF0000" fill-opacity="0.7" stroke="#000" stroke-opacity="0.8" stroke-width="2.5"/>
<circle cx="1675.6" cy="307.1" r="7.5" fill="#FF0000" fill-opacity="0.7" stroke="#000" stroke-opacity="0.8" stroke-width="2.5"/>
<circle cx="1665.4" cy="340.6" r="7.5" fill="#FF0000" fill-opacity="0.7" stroke="#000" stroke-opacity="0.8" stroke-width="2.5"/>
<circle cx="1683.8" cy="348.4" r="7.5" fill="#FF0000" fill-opacity="0.7" stroke="#000" stroke-opacity="0.8" stroke-width="2.5"/>
<circle cx="1666.9" cy="351.0" r="7.5" fill="#FF0000" fill-opacity="0.7" stroke="#000" stroke-opacity="0.8" stroke-width="2.5"/>
<circle cx="1680.5" cy="361.7" r="7.5" fill="#FF0000" fill-opacity="0.7" stroke="#000" stroke-opacity="0.8" stroke-width="2.5"/>
<circle cx="1670.4" cy="369.3" r="7.5" fill="#FF0000" fill-opacity="0.7" stroke="#000" stroke-opacity="0.8" stroke-width="2.5"/>
<circle cx="1660.5" cy="396.3" r="7.5" fill="#FF0000" fill-opacity="0.7" stroke="#000" stroke-opacity="0.8" stroke-width="2.5"/>
<circle cx="1682.3" cy="404.5" r="7.5" fill="#FF0000" fill-opacity="0.7" stroke="#000" stroke-opacity="0.8" stroke-width="2.5"/>
<circle cx="1687.0" cy="411.4" r="7.5" fill="#FF0000" fill-opacity="0.7" stroke="#000" stroke-opacity="0.8" stroke-width="2.5"/>
<circle cx="1663.3" cy="412.5" r="7.5" fill="#FF0000" fill-opacity="0.7" stroke="#000" stroke-opacity="0.8" stroke-width="2.5"/>
<circle cx="1678.4" cy="421.1" r="7.5" fill="#FF0000" fill-opacity="0.7" stroke="#000" stroke-opacity="0.8" stroke-width="2.5"/>
<circle cx="1667.6" cy="423.3" r="7.5" fill="#FF0000" fill-opacity="0.7" stroke="#000" stroke-opacity="0.8" stroke-width="2.5"/>
<circle cx="1673.0" cy="424.3" r="7.5" fill="#FF0000" fill-opacity="0.7" stroke="#000" stroke-opacity="0.8" stroke-width="2.5"/>
<circle cx="1683.8" cy="427.6" r="7.5" fill="#FF0000" fill-opacity="0.7" stroke="#000" stroke-opacity="0.8" stroke-width="2.5"/>
<circle cx="1664.3" cy="427.6" r="7.5" fill="#FF0000" fill-opacity="0.7" stroke="#000" stroke-opacity="0.8" stroke-width="2.5"/>
<circle cx="1670.8" cy="436.2" r="7.5" fill="#FF0000" fill-opacity="0.7" stroke="#000" stroke-opacity="0.8" stroke-width="2.5"/>
<circle cx="1766.1" cy="437.0" r="7.5" fill="#ADD8E6" fill-opacity="0.7" stroke="#000" stroke-opacity="0.8" stroke-width="2.5"/>
<circle cx="1762.8" cy="433.5" r="7.5" fill="#ADD8E6" fill-opacity="0.7" stroke="#000" stroke-opacity="0.8" stroke-width="2.5"/>
<circle cx="1750.7" cy="437.1" r="7.5" fill="#ADD8E6" fill-opacity="0.7" stroke="#000" stroke-opacity="0.8" stroke-width="2.5"/>
<circle cx="1754.0" cy="437.2" r="7.5" fill="#ADD8E6" fill-opacity="0.7" stroke="#000" stroke-opacity="0.8" stroke-width="2.5"/>
<circle cx="1767.4" cy="432.6" r="7.5" fill="#ADD8E6" fill-opacity="0.7" stroke="#000" stroke-opacity="0.8" stroke-width="2.5"/>
<circle cx="1755.4" cy="438.9" r="7.5" fill="#ADD8E6" fill-opacity="0.7" stroke="#000" stroke-opacity="0.8" stroke-width="2.5"/>
<circle cx="1762.2" cy="430.0" r="7.5" fill="#ADD8E6" fill-opacity="0.7" stroke="#000" stroke-opacity="0.8" stroke-width="2.5"/>
<circle cx="1749.7" cy="429.7" r="7.5" fill="#ADD8E6" fill-opacity="0.7" stroke="#000" stroke-opacity="0.8" stroke-width="2.5"/>
<circle cx="1766.0" cy="437.3" r="7.5" fill="#ADD8E6" fill-opacity="0.7" stroke="#000" stroke-opacity="0.8" stroke-width="2.5"/>
<circle cx="1750.1" cy="437.5" r="7.5" fill="#ADD8E6" fill-opacity="0.7" stroke="#000" stroke-opacity="0.8" stroke-width="2.5"/>
<circle cx="1767.6" cy="435.6" r="7.5" fill="#ADD8E6" fill-opacity="0.7" stroke="#000" stroke-opacity="0.8" stroke-width="2.5"/>
<circle cx="1754.4" cy="434.3" r="7.5" fill="#ADD8E6" fill-opacity="0.7" stroke="#000" stroke-opacity="0.8" stroke-width="2.5"/>
<circle cx="1749.8" cy="428.2" r="7.5" fill="#ADD8E6" fill-opacity="0.7" stroke="#000" stroke-opacity="0.8" stroke-width="2.5"/>
<circle cx="1767.4" cy="435.5" r="7.5" fill="#ADD8E6" fill-opacity="0.7" stroke="#000" stroke-opacity="0.8" stroke-width="2.5"/>
<circle cx="1758.1" cy="438.7" r="7.5" fill="#ADD8E6" fill-opacity="0.7" stroke="#000" stroke-opacity="0.8" stroke-width="2.5"/>
<circle cx="1756.1" cy="438.0" r="7.5" fill="#ADD8E6" fill-opacity="0.7" stroke="#000" stroke-opacity="0.8" stroke-width="2.5"/>
<circle cx="1764.3" cy="430.4" r="7.5" fill="#ADD8E6" fill-opacity="0.7" stroke="#000" stroke-opacity="0.8" stroke-width="2.5"/>
<circle cx="1752.3" cy="431.4" r="7.5" fill="#ADD8E6" fill-opacity="0.7" stroke="#000" stroke-opacity="0.8" stroke-width="2.5"/>
<circle cx="1752.1" cy="434.7" r="7.5" fill="#ADD8E6" fill-opacity="0.7" stroke="#000" stroke-opacity="0.8" stroke-width="2.5"/>
<circle cx="1752.4" cy="432.8" r="7.5" fill="#ADD8E6" fill-opacity="0.7" stroke="#000" stroke-opacity="0.8" stroke-width="2.5"/>
<circle cx="1749.8" cy="438.5" r="7.5" fill="#ADD8E6" fill-opacity="0.7" stroke="#000" stroke-opacity="0.8" stroke-width="2.5"/>
<circle cx="1754.4" cy="433.3" r="7.5" fill="#ADD8E6" fill-opacity="0.7" stroke="#000" stroke-opacity="0.8" stroke-width="2.5"/>
<circle cx="1759.3" cy="438.4" r="7.5" fill="#ADD8E6" fill-opacity="0.7" stroke="#000" stroke-opacity="0.8" stroke-width="2.5"/>
<circle cx="1755.8" cy="438.6" r="7.5" fill="#ADD8E6" fill-opacity="0.7" stroke="#000" stroke-opacity="0.8" stroke-width="2.5"/>
<circle cx="1746.8" cy="271.1" r="7.5" fill="#ADD8E6" fill-opacity="0.7" stroke="#000" stroke-opacity="0.8" stroke-width="2.5"/>
<circle cx="1769.7" cy="385.5" r="7.5" fill="#ADD8E6" fill-opacity="0.7" stroke="#000" stroke-opacity="0.8" stroke-width="2.5"/>
<circle cx="1763.6" cy="398.4" r="7.5" fill="#ADD8E6" fill-opacity="0.7" stroke="#000" stroke-opacity="0.8" stroke-width="2.5"/>
<circle cx="1816.5" cy="172.2" r="7.5" fill="#FF0000" fill-opacity="0.7" stroke="#000" stroke-opacity="0.8" stroke-width="2.5"/>
<circle cx="1819.1" cy="192.3" r="7.5" fill="#FF0000" fill-opacity="0.7" stroke="#000" stroke-opacity="0.8" stroke-width="2.5"/>
<circle cx="1797.7" cy="256.6" r="7.5" fill="#FF0000" fill-opacity="0.7" stroke="#000" stroke-opacity="0.8" stroke-width="2.5"/>
<circle cx="1817.2" cy="269.4" r="7.5" fill="#FF0000" fill-opacity="0.7" stroke="#000" stroke-opacity="0.8" stroke-width="2.5"/>
<circle cx="1810.7" cy="273.2" r="7.5" fill="#FF0000" fill-opacity="0.7" stroke="#000" stroke-opacity="0.8" stroke-width="2.5"/>
<circle cx="1814.3" cy="278.6" r="7.5" fill="#FF0000" fill-opacity="0.7" stroke="#000" stroke-opacity="0.8" stroke-width="2.5"/>
<circle cx="1796.0" cy="286.8" r="7.5" fill="#FF0000" fill-opacity="0.7" stroke="#000" stroke-opacity="0.8" stroke-width="2.5"/>
<circle cx="1808.5" cy="286.2" r="7.5" fill="#FF0000" fill-opacity="0.7" stroke="#000" stroke-opacity="0.8" stroke-width="2.5"/>
<circle cx="1821.5" cy="285.8" r="7.5" fill="#FF0000" fill-opacity="0.7" stroke="#000" stroke-opacity="0.8" stroke-width="2.5"/>
<circle cx="1798.2" cy="305.2" r="7.5" fill="#FF0000" fill-opacity="0.7" stroke="#000" stroke-opacity="0.8" stroke-width="2.5"/>
<circle cx="1816.5" cy="331.5" r="7.5" fill="#FF0000" fill-opacity="0.7" stroke="#000" stroke-opacity="0.8" stroke-width="2.5"/>
<circle cx="1796.4" cy="356.8" r="7.5" fill="#FF0000" fill-opacity="0.7" stroke="#000" stroke-opacity="0.8" stroke-width="2.5"/>
<circle cx="1801.0" cy="380.5" r="7.5" fill="#FF0000" fill-opacity="0.7" stroke="#000" stroke-opacity="0.8" stroke-width="2.5"/>
<circle cx="1807.4" cy="395.2" r="7.5" fill="#FF0000" fill-opacity="0.7" stroke="#000" stroke-opacity="0.8" stroke-width="2.5"/>
<circle cx="1818.0" cy="394.6" r="7.5" fill="#FF0000" fill-opacity="0.7" stroke="#000" stroke-opacity="0.8" stroke-width="2.5"/>
<circle cx="1802.9" cy="410.3" r="7.5" fill="#FF0000" fill-opacity="0.7" stroke="#000" stroke-opacity="0.8" stroke-width="2.5"/>
<circle cx="1811.5" cy="420.7" r="7.5" fill="#FF0000" fill-opacity="0.7" stroke="#000" stroke-opacity="0.8" stroke-width="2.5"/>
<circle cx="1794.9" cy="433.4" r="7.5" fill="#FF0000" fill-opacity="0.7" stroke="#000" stroke-opacity="0.8" stroke-width="2.5"/>
<circle cx="1819.3" cy="435.6" r="7.5" fill="#FF0000" fill-opacity="0.7" stroke="#000" stroke-opacity="0.8" stroke-width="2.5"/>
<circle cx="1893.0" cy="435.5" r="7.5" fill="#ADD8E6" fill-opacity="0.7" stroke="#000" stroke-opacity="0.8" stroke-width="2.5"/>
<circle cx="1893.5" cy="431.2" r="7.5" fill="#ADD8E6" fill-opacity="0.7" stroke="#000" stroke-opacity="0.8" stroke-width="2.5"/>
<circle cx="1891.8" cy="432.6" r="7.5" fill="#ADD8E6" fill-opacity="0.7" stroke="#000" stroke-opacity="0.8" stroke-width="2.5"/>
<circle cx="1883.1" cy="437.8" r="7.5" fill="#ADD8E6" fill-opacity="0.7" stroke="#000" stroke-opacity="0.8" stroke-width="2.5"/>
<circle cx="1886.4" cy="435.0" r="7.5" fill="#ADD8E6" fill-opacity="0.7" stroke="#000" stroke-opacity="0.8" stroke-width="2.5"/>
<circle cx="1897.5" cy="435.7" r="7.5" fill="#ADD8E6" fill-opacity="0.7" stroke="#000" stroke-opacity="0.8" stroke-width="2.5"/>
<circle cx="1889.5" cy="435.4" r="7.5" fill="#ADD8E6" fill-opacity="0.7" stroke="#000" stroke-opacity="0.8" stroke-width="2.5"/>
<circle cx="1894.1" cy="437.7" r="7.5" fill="#ADD8E6" fill-opacity="0.7" stroke="#000" stroke-opacity="0.8" stroke-width="2.5"/>
<circle cx="1885.1" cy="435.8" r="7.5" fill="#ADD8E6" fill-opacity="0.7" stroke="#000" stroke-opacity="0.8" stroke-width="2.5"/>
<circle cx="1888.0" cy="433.4" r="7.5" fill="#ADD8E6" fill-opacity="0.7" stroke="#000" stroke-opacity="0.8" stroke-width="2.5"/>
<circle cx="1898.4" cy="435.3" r="7.5" fill="#ADD8E6" fill-opacity="0.7" stroke="#000" stroke-opacity="0.8" stroke-width="2.5"/>
<circle cx="1894.2" cy="437.5" r="7.5" fill="#ADD8E6" fill-opacity="0.7" stroke="#000" stroke-opacity="0.8" stroke-width="2.5"/>
<circle cx="1901.2" cy="434.8" r="7.5" fill="#ADD8E6" fill-opacity="0.7" stroke="#000" stroke-opacity="0.8" stroke-width="2.5"/>
<circle cx="1895.3" cy="435.3" r="7.5" fill="#ADD8E6" fill-opacity="0.7" stroke="#000" stroke-opacity="0.8" stroke-width="2.5"/>
<circle cx="1893.2" cy="436.9" r="7.5" fill="#ADD8E6" fill-opacity="0.7" stroke="#000" stroke-opacity="0.8" stroke-width="2.5"/>
<circle cx="1892.0" cy="435.5" r="7.5" fill="#ADD8E6" fill-opacity="0.7" stroke="#000" stroke-opacity="0.8" stroke-width="2.5"/>
<circle cx="1892.6" cy="439.0" r="7.5" fill="#ADD8E6" fill-opacity="0.7" stroke="#000" stroke-opacity="0.8" stroke-width="2.5"/>
<circle cx="1897.0" cy="438.5" r="7.5" fill="#ADD8E6" fill-opacity="0.7" stroke="#000" stroke-opacity="0.8" stroke-width="2.5"/>
<circle cx="1901.8" cy="433.2" r="7.5" fill="#ADD8E6" fill-opacity="0.7" stroke="#000" stroke-opacity="0.8" stroke-width="2.5"/>
<circle cx="1894.2" cy="439.0" r="7.5" fill="#ADD8E6" fill-opacity="0.7" stroke="#000" stroke-opacity="0.8" stroke-width="2.5"/>
<circle cx="1891.4" cy="302.4" r="7.5" fill="#ADD8E6" fill-opacity="0.7" stroke="#000" stroke-opacity="0.8" stroke-width="2.5"/>
<circle cx="1893.1" cy="372.5" r="7.5" fill="#ADD8E6" fill-opacity="0.7" stroke="#000" stroke-opacity="0.8" stroke-width="2.5"/>
<circle cx="1899.6" cy="383.3" r="7.5" fill="#ADD8E6" fill-opacity="0.7" stroke="#000" stroke-opacity="0.8" stroke-width="2.5"/>
<circle cx="1882.8" cy="393.0" r="7.5" fill="#ADD8E6" fill-opacity="0.7" stroke="#000" stroke-opacity="0.8" stroke-width="2.5"/>
<circle cx="1898.1" cy="399.5" r="7.5" fill="#ADD8E6" fill-opacity="0.7" stroke="#000" stroke-opacity="0.8" stroke-width="2.5"/>
<circle cx="1880.2" cy="421.1" r="7.5" fill="#ADD8E6" fill-opacity="0.7" stroke="#000" stroke-opacity="0.8" stroke-width="2.5"/>
<circle cx="1894.2" cy="422.2" r="7.5" fill="#ADD8E6" fill-opacity="0.7" stroke="#000" stroke-opacity="0.8" stroke-width="2.5"/>
<circle cx="1931.3" cy="292.7" r="7.5" fill="#FF0000" fill-opacity="0.7" stroke="#000" stroke-opacity="0.8" stroke-width="2.5"/>
<circle cx="1949.9" cy="300.2" r="7.5" fill="#FF0000" fill-opacity="0.7" stroke="#000" stroke-opacity="0.8" stroke-width="2.5"/>
<circle cx="1932.6" cy="308.9" r="7.5" fill="#FF0000" fill-opacity="0.7" stroke="#000" stroke-opacity="0.8" stroke-width="2.5"/>
<circle cx="1940.6" cy="305.6" r="7.5" fill="#FF0000" fill-opacity="0.7" stroke="#000" stroke-opacity="0.8" stroke-width="2.5"/>
<circle cx="1953.6" cy="316.4" r="7.5" fill="#FF0000" fill-opacity="0.7" stroke="#000" stroke-opacity="0.8" stroke-width="2.5"/>
<circle cx="1944.3" cy="325.1" r="7.5" fill="#FF0000" fill-opacity="0.7" stroke="#000" stroke-opacity="0.8" stroke-width="2.5"/>
<circle cx="1945.6" cy="352.0" r="7.5" fill="#FF0000" fill-opacity="0.7" stroke="#000" stroke-opacity="0.8" stroke-width="2.5"/>
<circle cx="1942.3" cy="355.7" r="7.5" fill="#FF0000" fill-opacity="0.7" stroke="#000" stroke-opacity="0.8" stroke-width="2.5"/>
<circle cx="1944.9" cy="370.4" r="7.5" fill="#FF0000" fill-opacity="0.7" stroke="#000" stroke-opacity="0.8" stroke-width="2.5"/>
<circle cx="1935.2" cy="374.7" r="7.5" fill="#FF0000" fill-opacity="0.7" stroke="#000" stroke-opacity="0.8" stroke-width="2.5"/>
<circle cx="1949.7" cy="379.0" r="7.5" fill="#FF0000" fill-opacity="0.7" stroke="#000" stroke-opacity="0.8" stroke-width="2.5"/>
<circle cx="1937.4" cy="387.6" r="7.5" fill="#FF0000" fill-opacity="0.7" stroke="#000" stroke-opacity="0.8" stroke-width="2.5"/>
<circle cx="1950.3" cy="386.6" r="7.5" fill="#FF0000" fill-opacity="0.7" stroke="#000" stroke-opacity="0.8" stroke-width="2.5"/>
<circle cx="1940.6" cy="396.3" r="7.5" fill="#FF0000" fill-opacity="0.7" stroke="#000" stroke-opacity="0.8" stroke-width="2.5"/>
<circle cx="1935.9" cy="411.4" r="7.5" fill="#FF0000" fill-opacity="0.7" stroke="#000" stroke-opacity="0.8" stroke-width="2.5"/>
</g>
<line x1="1152.30" y1="124.50" x2="1164.10" y2="124.50" stroke="#333333" stroke-width="4.4" />
<text x="1142.30" y="133.60" font-size="24.9" fill="#4D4D4D" text-anchor="end" >100000</text>
<line x1="1152.30" y1="184.80" x2="1164.10" y2="184.80" stroke="#333333" stroke-width="4.4" />
<text x="1142.30" y="193.90" font-size="24.9" fill="#4D4D4D" text-anchor="end" >10000</text>
<line x1="1152.30" y1="245.20" x2="1164.10" y2="245.20" stroke="#333333" stroke-width="4.4" />
<text x="1142.30" y="254.30" font-size="24.9" fill="#4D4D4D" text-anchor="end" >1000</text>
<line x1="1152.30" y1="305.50" x2="1164.10" y2="305.50" stroke="#333333" stroke-width="4.4" />
<text x="1142.30" y="314.60" font-size="24.9" fill="#4D4D4D" text-anchor="end" >100</text>
<line x1="1152.30" y1="365.80" x2="1164.10" y2="365.80" stroke="#333333" stroke-width="4.4" />
<text x="1142.30" y="374.90" font-size="24.9" fill="#4D4D4D" text-anchor="end" >10</text>
<line x1="1152.30" y1="419.50" x2="1164.10" y2="419.50" stroke="#333333" stroke-width="4.4" />
<text x="1142.30" y="428.60" font-size="24.9" fill="#4D4D4D" text-anchor="end" >1</text>
<rect x="1164.10" y="477.20" width="833.90" height="64.20" fill="#D9D9D9" />
<text x="1581.05" y="520.60" font-size="29.3" fill="#1A1A1A" text-anchor="middle" >in hospital sample 2nd week post symptoms onset</text>
<clipPath id="c12"><rect x="1164.10" y="541.40" width="833.90" height="332.10"/></clipPath><g clip-path="url(#c12)">
<line x1="1164.10" y1="585.88" x2="1998.00" y2="585.88" stroke="#EBEBEB" stroke-width="2.3" />
<line x1="1164.10" y1="575.26" x2="1998.00" y2="575.26" stroke="#EBEBEB" stroke-width="2.3" />
<line x1="1164.10" y1="567.72" x2="1998.00" y2="567.72" stroke="#EBEBEB" stroke-width="2.3" />
<line x1="1164.10" y1="561.87" x2="1998.00" y2="561.87" stroke="#EBEBEB" stroke-width="2.3" />
<line x1="1164.10" y1="557.09" x2="1998.00" y2="557.09" stroke="#EBEBEB" stroke-width="2.3" />
<line x1="1164.10" y1="553.05" x2="1998.00" y2="553.05" stroke="#EBEBEB" stroke-width="2.3" />
<line x1="1164.10" y1="549.55" x2="1998.00" y2="549.55" stroke="#EBEBEB" stroke-width="2.3" />
<line x1="1164.10" y1="546.46" x2="1998.00" y2="546.46" stroke="#EBEBEB" stroke-width="2.3" />
<line x1="1164.10" y1="646.18" x2="1998.00" y2="646.18" stroke="#EBEBEB" stroke-width="2.3" />
<line x1="1164.10" y1="635.56" x2="1998.00" y2="635.56" stroke="#EBEBEB" stroke-width="2.3" />
<line x1="1164.10" y1="628.02" x2="1998.00" y2="628.02" stroke="#EBEBEB" stroke-width="2.3" />
<line x1="1164.10" y1="622.17" x2="1998.00" y2="622.17" stroke="#EBEBEB" stroke-width="2.3" />
<line x1="1164.10" y1="617.39" x2="1998.00" y2="617.39" stroke="#EBEBEB" stroke-width="2.3" />
<line x1="1164.10" y1="613.35" x2="1998.00" y2="613.35" stroke="#EBEBEB" stroke-width="2.3" />
<line x1="1164.10" y1="609.85" x2="1998.00" y2="609.85" stroke="#EBEBEB" stroke-width="2.3" />
<line x1="1164.10" y1="606.76" x2="1998.00" y2="606.76" stroke="#EBEBEB" stroke-width="2.3" />
<line x1="1164.10" y1="706.58" x2="1998.00" y2="706.58" stroke="#EBEBEB" stroke-width="2.3" />
<line x1="1164.10" y1="695.96" x2="1998.00" y2="695.96" stroke="#EBEBEB" stroke-width="2.3" />
<line x1="1164.10" y1="688.42" x2="1998.00" y2="688.42" stroke="#EBEBEB" stroke-width="2.3" />
<line x1="1164.10" y1="682.57" x2="1998.00" y2="682.57" stroke="#EBEBEB" stroke-width="2.3" />
<line x1="1164.10" y1="677.79" x2="1998.00" y2="677.79" stroke="#EBEBEB" stroke-width="2.3" />
<line x1="1164.10" y1="673.75" x2="1998.00" y2="673.75" stroke="#EBEBEB" stroke-width="2.3" />
<line x1="1164.10" y1="670.25" x2="1998.00" y2="670.25" stroke="#EBEBEB" stroke-width="2.3" />
<line x1="1164.10" y1="667.16" x2="1998.00" y2="667.16" stroke="#EBEBEB" stroke-width="2.3" />
<line x1="1164.10" y1="766.88" x2="1998.00" y2="766.88" stroke="#EBEBEB" stroke-width="2.3" />
<line x1="1164.10" y1="756.26" x2="1998.00" y2="756.26" stroke="#EBEBEB" stroke-width="2.3" />
<line x1="1164.10" y1="748.72" x2="1998.00" y2="748.72" stroke="#EBEBEB" stroke-width="2.3" />
<line x1="1164.10" y1="742.87" x2="1998.00" y2="742.87" stroke="#EBEBEB" stroke-width="2.3" />
<line x1="1164.10" y1="738.09" x2="1998.00" y2="738.09" stroke="#EBEBEB" stroke-width="2.3" />
<line x1="1164.10" y1="734.05" x2="1998.00" y2="734.05" stroke="#EBEBEB" stroke-width="2.3" />
<line x1="1164.10" y1="730.55" x2="1998.00" y2="730.55" stroke="#EBEBEB" stroke-width="2.3" />
<line x1="1164.10" y1="727.46" x2="1998.00" y2="727.46" stroke="#EBEBEB" stroke-width="2.3" />
<line x1="1164.10" y1="787.70" x2="1998.00" y2="787.70" stroke="#EBEBEB" stroke-width="2.3" />
<line x1="1164.10" y1="790.90" x2="1998.00" y2="790.90" stroke="#EBEBEB" stroke-width="2.3" />
<line x1="1164.10" y1="794.20" x2="1998.00" y2="794.20" stroke="#EBEBEB" stroke-width="2.3" />
<line x1="1164.10" y1="798.10" x2="1998.00" y2="798.10" stroke="#EBEBEB" stroke-width="2.3" />
<line x1="1164.10" y1="802.90" x2="1998.00" y2="802.90" stroke="#EBEBEB" stroke-width="2.3" />
<line x1="1164.10" y1="808.40" x2="1998.00" y2="808.40" stroke="#EBEBEB" stroke-width="2.3" />
<line x1="1164.10" y1="815.40" x2="1998.00" y2="815.40" stroke="#EBEBEB" stroke-width="2.3" />
<line x1="1164.10" y1="825.10" x2="1998.00" y2="825.10" stroke="#EBEBEB" stroke-width="2.3" />
<line x1="1164.10" y1="543.70" x2="1998.00" y2="543.70" stroke="#BEBEBE" stroke-width="4.6" />
<line x1="1164.10" y1="604.00" x2="1998.00" y2="604.00" stroke="#BEBEBE" stroke-width="4.6" />
<line x1="1164.10" y1="664.40" x2="1998.00" y2="664.40" stroke="#BEBEBE" stroke-width="4.6" />
<line x1="1164.10" y1="724.70" x2="1998.00" y2="724.70" stroke="#BEBEBE" stroke-width="4.6" />
<line x1="1164.10" y1="785.00" x2="1998.00" y2="785.00" stroke="#BEBEBE" stroke-width="4.6" />
<line x1="1164.10" y1="838.70" x2="1998.00" y2="838.70" stroke="#BEBEBE" stroke-width="4.6" />
<line x1="1244.60" y1="541.40" x2="1244.60" y2="873.50" stroke="#BEBEBE" stroke-width="4.6" />
<line x1="1379.20" y1="541.40" x2="1379.20" y2="873.50" stroke="#BEBEBE" stroke-width="4.6" />
<line x1="1513.80" y1="541.40" x2="1513.80" y2="873.50" stroke="#BEBEBE" stroke-width="4.6" />
<line x1="1648.40" y1="541.40" x2="1648.40" y2="873.50" stroke="#BEBEBE" stroke-width="4.6" />
<line x1="1783.00" y1="541.40" x2="1783.00" y2="873.50" stroke="#BEBEBE" stroke-width="4.6" />
<line x1="1917.60" y1="541.40" x2="1917.60" y2="873.50" stroke="#BEBEBE" stroke-width="4.6" />
<line x1="1192.40" y1="785.00" x2="1246.40" y2="785.00" stroke="#333333" stroke-width="8.4" />
<line x1="1269.80" y1="556.20" x2="1269.80" y2="626.30" stroke="#333333" stroke-width="4.2" />
<line x1="1269.80" y1="682.90" x2="1269.80" y2="745.00" stroke="#333333" stroke-width="4.2" />
<rect x="1244.70" y="626.30" width="50.20" height="56.60" fill="#FF0000" stroke="#333333" stroke-width="4.2"/>
<line x1="1244.70" y1="660.90" x2="1294.90" y2="660.90" stroke="#333333" stroke-width="8.4" />
<line x1="1354.00" y1="655.50" x2="1354.00" y2="699.00" stroke="#333333" stroke-width="4.2" />
<line x1="1354.00" y1="742.30" x2="1354.00" y2="783.50" stroke="#333333" stroke-width="4.2" />
<rect x="1328.90" y="699.00" width="50.20" height="43.30" fill="#ADD8E6" stroke="#333333" stroke-width="4.2"/>
<line x1="1328.90" y1="727.80" x2="1379.10" y2="727.80" stroke="#333333" stroke-width="8.4" />
<line x1="1404.40" y1="602.60" x2="1404.40" y2="631.20" stroke="#333333" stroke-width="4.2" />
<line x1="1404.40" y1="684.70" x2="1404.40" y2="751.50" stroke="#333333" stroke-width="4.2" />
<rect x="1379.30" y="631.20" width="50.20" height="53.50" fill="#FF0000" stroke="#333333" stroke-width="4.2"/>
<line x1="1379.30" y1="664.10" x2="1429.50" y2="664.10" stroke="#333333" stroke-width="8.4" />
<line x1="1488.60" y1="651.20" x2="1488.60" y2="703.30" stroke="#333333" stroke-width="4.2" />
<line x1="1488.60" y1="742.50" x2="1488.60" y2="755.80" stroke="#333333" stroke-width="4.2" />
<rect x="1463.50" y="703.30" width="50.20" height="39.20" fill="#ADD8E6" stroke="#333333" stroke-width="4.2"/>
<line x1="1463.50" y1="720.20" x2="1513.70" y2="720.20" stroke="#333333" stroke-width="8.4" />
<line x1="1539.00" y1="596.10" x2="1539.00" y2="629.10" stroke="#333333" stroke-width="4.2" />
<line x1="1539.00" y1="678.20" x2="1539.00" y2="717.00" stroke="#333333" stroke-width="4.2" />
<rect x="1513.90" y="629.10" width="50.20" height="49.10" fill="#FF0000" stroke="#333333" stroke-width="4.2"/>
<line x1="1513.90" y1="660.90" x2="1564.10" y2="660.90" stroke="#333333" stroke-width="8.4" />
<circle cx="1623.3" cy="829.2" r="8.3" fill="#333333"/>
<circle cx="1623.3" cy="840.0" r="8.3" fill="#333333"/>
<line x1="1596.20" y1="856.90" x2="1650.20" y2="856.90" stroke="#333333" stroke-width="8.4" />
<line x1="1673.60" y1="712.70" x2="1673.60" y2="766.60" stroke="#333333" stroke-width="4.2" />
<line x1="1673.60" y1="822.80" x2="1673.60" y2="856.20" stroke="#333333" stroke-width="4.2" />
<rect x="1648.50" y="766.60" width="50.20" height="56.20" fill="#FF0000" stroke="#333333" stroke-width="4.2"/>
<line x1="1648.50" y1="786.10" x2="1698.70" y2="786.10" stroke="#333333" stroke-width="8.4" />
<circle cx="1757.8" cy="789.9" r="8.3" fill="#333333"/>
<rect x="1732.70" y="837.80" width="50.20" height="19.50" fill="#ADD8E6" stroke="#333333" stroke-width="4.2"/>
<line x1="1732.70" y1="855.50" x2="1782.90" y2="855.50" stroke="#333333" stroke-width="8.4" />
<line x1="1808.20" y1="643.60" x2="1808.20" y2="706.10" stroke="#333333" stroke-width="4.2" />
<line x1="1808.20" y1="784.60" x2="1808.20" y2="850.80" stroke="#333333" stroke-width="4.2" />
<rect x="1783.10" y="706.10" width="50.20" height="78.50" fill="#FF0000" stroke="#333333" stroke-width="4.2"/>
<line x1="1783.10" y1="746.10" x2="1833.30" y2="746.10" stroke="#333333" stroke-width="8.4" />
<circle cx="1891.4" cy="742.2" r="8.3" fill="#333333"/>
<line x1="1892.40" y1="803.30" x2="1892.40" y2="821.20" stroke="#333333" stroke-width="4.2" />
<line x1="1892.40" y1="854.10" x2="1892.40" y2="854.10" stroke="#333333" stroke-width="4.2" />
<rect x="1867.30" y="821.20" width="50.20" height="32.90" fill="#ADD8E6" stroke="#333333" stroke-width="4.2"/>
<line x1="1867.30" y1="848.60" x2="1917.50" y2="848.60" stroke="#333333" stroke-width="8.4" />
<circle cx="1943.4" cy="826.6" r="8.3" fill="#333333"/>
<line x1="1942.80" y1="699.70" x2="1942.80" y2="728.10" stroke="#333333" stroke-width="4.2" />
<line x1="1942.80" y1="766.00" x2="1942.80" y2="827.00" stroke="#333333" stroke-width="4.2" />
<rect x="1917.70" y="728.10" width="50.20" height="37.90" fill="#FF0000" stroke="#333333" stroke-width="4.2"/>
<line x1="1917.70" y1="746.10" x2="1967.90" y2="746.10" stroke="#333333" stroke-width="8.4" />
<circle cx="1227.8" cy="784.6" r="7.5" fill="#ADD8E6" fill-opacity="0.7" stroke="#000" stroke-opacity="0.8" stroke-width="2.5"/>
<circle cx="1213.4" cy="784.9" r="7.5" fill="#ADD8E6" fill-opacity="0.7" stroke="#000" stroke-opacity="0.8" stroke-width="2.5"/>
<circle cx="1212.5" cy="784.7" r="7.5" fill="#ADD8E6" fill-opacity="0.7" stroke="#000" stroke-opacity="0.8" stroke-width="2.5"/>
<circle cx="1212.5" cy="785.2" r="7.5" fill="#ADD8E6" fill-opacity="0.7" stroke="#000" stroke-opacity="0.8" stroke-width="2.5"/>
<circle cx="1226.7" cy="785.4" r="7.5" fill="#ADD8E6" fill-opacity="0.7" stroke="#000" stroke-opacity="0.8" stroke-width="2.5"/>
<circle cx="1214.1" cy="785.2" r="7.5" fill="#ADD8E6" fill-opacity="0.7" stroke="#000" stroke-opacity="0.8" stroke-width="2.5"/>
<circle cx="1224.2" cy="784.6" r="7.5" fill="#ADD8E6" fill-opacity="0.7" stroke="#000" stroke-opacity="0.8" stroke-width="2.5"/>
<circle cx="1228.7" cy="785.5" r="7.5" fill="#ADD8E6" fill-opacity="0.7" stroke="#000" stroke-opacity="0.8" stroke-width="2.5"/>
<circle cx="1215.4" cy="785.5" r="7.5" fill="#ADD8E6" fill-opacity="0.7" stroke="#000" stroke-opacity="0.8" stroke-width="2.5"/>
<circle cx="1219.0" cy="785.0" r="7.5" fill="#ADD8E6" fill-opacity="0.7" stroke="#000" stroke-opacity="0.8" stroke-width="2.5"/>
<circle cx="1230.8" cy="785.3" r="7.5" fill="#ADD8E6" fill-opacity="0.7" stroke="#000" stroke-opacity="0.8" stroke-width="2.5"/>
<circle cx="1214.2" cy="784.9" r="7.5" fill="#ADD8E6" fill-opacity="0.7" stroke="#000" stroke-opacity="0.8" stroke-width="2.5"/>
<circle cx="1221.3" cy="784.8" r="7.5" fill="#ADD8E6" fill-opacity="0.7" stroke="#000" stroke-opacity="0.8" stroke-width="2.5"/>
<circle cx="1214.9" cy="784.8" r="7.5" fill="#ADD8E6" fill-opacity="0.7" stroke="#000" stroke-opacity="0.8" stroke-width="2.5"/>
<circle cx="1225.4" cy="784.5" r="7.5" fill="#ADD8E6" fill-opacity="0.7" stroke="#000" stroke-opacity="0.8" stroke-width="2.5"/>
<circle cx="1222.1" cy="784.9" r="7.5" fill="#ADD8E6" fill-opacity="0.7" stroke="#000" stroke-opacity="0.8" stroke-width="2.5"/>
<circle cx="1211.4" cy="784.8" r="7.5" fill="#ADD8E6" fill-opacity="0.7" stroke="#000" stroke-opacity="0.8" stroke-width="2.5"/>
<circle cx="1223.5" cy="785.0" r="7.5" fill="#ADD8E6" fill-opacity="0.7" stroke="#000" stroke-opacity="0.8" stroke-width="2.5"/>
<circle cx="1212.3" cy="785.5" r="7.5" fill="#ADD8E6" fill-opacity="0.7" stroke="#000" stroke-opacity="0.8" stroke-width="2.5"/>
<circle cx="1226.8" cy="785.5" r="7.5" fill="#ADD8E6" fill-opacity="0.7" stroke="#000" stroke-opacity="0.8" stroke-width="2.5"/>
<circle cx="1213.1" cy="784.8" r="7.5" fill="#ADD8E6" fill-opacity="0.7" stroke="#000" stroke-opacity="0.8" stroke-width="2.5"/>
<circle cx="1211.8" cy="785.3" r="7.5" fill="#ADD8E6" fill-opacity="0.7" stroke="#000" stroke-opacity="0.8" stroke-width="2.5"/>
<circle cx="1216.4" cy="784.6" r="7.5" fill="#ADD8E6" fill-opacity="0.7" stroke="#000" stroke-opacity="0.8" stroke-width="2.5"/>
<circle cx="1219.4" cy="785.4" r="7.5" fill="#ADD8E6" fill-opacity="0.7" stroke="#000" stroke-opacity="0.8" stroke-width="2.5"/>
<circle cx="1227.4" cy="784.8" r="7.5" fill="#ADD8E6" fill-opacity="0.7" stroke="#000" stroke-opacity="0.8" stroke-width="2.5"/>
<circle cx="1214.0" cy="785.4" r="7.5" fill="#ADD8E6" fill-opacity="0.7" stroke="#000" stroke-opacity="0.8" stroke-width="2.5"/>
<circle cx="1222.4" cy="785.2" r="7.5" fill="#ADD8E6" fill-opacity="0.7" stroke="#000" stroke-opacity="0.8" stroke-width="2.5"/>
<circle cx="1212.8" cy="784.6" r="7.5" fill="#ADD8E6" fill-opacity="0.7" stroke="#000" stroke-opacity="0.8" stroke-width="2.5"/>
<circle cx="1224.8" cy="784.9" r="7.5" fill="#ADD8E6" fill-opacity="0.7" stroke="#000" stroke-opacity="0.8" stroke-width="2.5"/>
<circle cx="1212.4" cy="785.4" r="7.5" fill="#ADD8E6" fill-opacity="0.7" stroke="#000" stroke-opacity="0.8" stroke-width="2.5"/>
<circle cx="1223.7" cy="785.3" r="7.5" fill="#ADD8E6" fill-opacity="0.7" stroke="#000" stroke-opacity="0.8" stroke-width="2.5"/>
<circle cx="1212.7" cy="785.4" r="7.5" fill="#ADD8E6" fill-opacity="0.7" stroke="#000" stroke-opacity="0.8" stroke-width="2.5"/>
<circle cx="1266.8" cy="556.2" r="7.5" fill="#FF0000" fill-opacity="0.7" stroke="#000" stroke-opacity="0.8" stroke-width="2.5"/>
<circle cx="1257.6" cy="578.4" r="7.5" fill="#FF0000" fill-opacity="0.7" stroke="#000" stroke-opacity="0.8" stroke-width="2.5"/>
<circle cx="1270.5" cy="578.9" r="7.5" fill="#FF0000" fill-opacity="0.7" stroke="#000" stroke-opacity="0.8" stroke-width="2.5"/>
<circle cx="1279.1" cy="583.8" r="7.5" fill="#FF0000" fill-opacity="0.7" stroke="#000" stroke-opacity="0.8" stroke-width="2.5"/>
<circle cx="1267.9" cy="597.8" r="7.5" fill="#FF0000" fill-opacity="0.7" stroke="#000" stroke-opacity="0.8" stroke-width="2.5"/>
<circle cx="1276.6" cy="608.0" r="7.5" fill="#FF0000" fill-opacity="0.7" stroke="#000" stroke-opacity="0.8" stroke-width="2.5"/>
<circle cx="1264.3" cy="611.9" r="7.5" fill="#FF0000" fill-opacity="0.7" stroke="#000" stroke-opacity="0.8" stroke-width="2.5"/>
<circle cx="1274.4" cy="627.4" r="7.5" fill="#FF0000" fill-opacity="0.7" stroke="#000" stroke-opacity="0.8" stroke-width="2.5"/>
<circle cx="1264.3" cy="633.9" r="7.5" fill="#FF0000" fill-opacity="0.7" stroke="#000" stroke-opacity="0.8" stroke-width="2.5"/>
<circle cx="1258.2" cy="641.4" r="7.5" fill="#FF0000" fill-opacity="0.7" stroke="#000" stroke-opacity="0.8" stroke-width="2.5"/>
<circle cx="1283.0" cy="652.2" r="7.5" fill="#FF0000" fill-opacity="0.7" stroke="#000" stroke-opacity="0.8" stroke-width="2.5"/>
<circle cx="1261.4" cy="652.2" r="7.5" fill="#FF0000" fill-opacity="0.7" stroke="#000" stroke-opacity="0.8" stroke-width="2.5"/>
<circle cx="1265.8" cy="668.4" r="7.5" fill="#FF0000" fill-opacity="0.7" stroke="#000" stroke-opacity="0.8" stroke-width="2.5"/>
<circle cx="1277.6" cy="681.4" r="7.5" fill="#FF0000" fill-opacity="0.7" stroke="#000" stroke-opacity="0.8" stroke-width="2.5"/>
<circle cx="1259.3" cy="682.5" r="7.5" fill="#FF0000" fill-opacity="0.7" stroke="#000" stroke-opacity="0.8" stroke-width="2.5"/>
<circle cx="1265.8" cy="688.9" r="7.5" fill="#FF0000" fill-opacity="0.7" stroke="#000" stroke-opacity="0.8" stroke-width="2.5"/>
<circle cx="1258.9" cy="701.5" r="7.5" fill="#FF0000" fill-opacity="0.7" stroke="#000" stroke-opacity="0.8" stroke-width="2.5"/>
<circle cx="1277.6" cy="701.5" r="7.5" fill="#FF0000" fill-opacity="0.7" stroke="#000" stroke-opacity="0.8" stroke-width="2.5"/>
<circle cx="1267.9" cy="726.7" r="7.5" fill="#FF0000" fill-opacity="0.7" stroke="#000" stroke-opacity="0.8" stroke-width="2.5"/>
<circle cx="1258.2" cy="733.2" r="7.5" fill="#FF0000" fill-opacity="0.7" stroke="#000" stroke-opacity="0.8" stroke-width="2.5"/>
<circle cx="1278.7" cy="732.7" r="7.5" fill="#FF0000" fill-opacity="0.7" stroke="#000" stroke-opacity="0.8" stroke-width="2.5"/>
<circle cx="1262.5" cy="741.8" r="7.5" fill="#FF0000" fill-opacity="0.7" stroke="#000" stroke-opacity="0.8" stroke-width="2.5"/>
<circle cx="1277.0" cy="746.1" r="7.5" fill="#FF0000" fill-opacity="0.7" stroke="#000" stroke-opacity="0.8" stroke-width="2.5"/>
<circle cx="1268.6" cy="691.6" r="7.5" fill="#FF0000" fill-opacity="0.7" stroke="#000" stroke-opacity="0.8" stroke-width="2.5"/>
<circle cx="1265.2" cy="672.4" r="7.5" fill="#FF0000" fill-opacity="0.7" stroke="#000" stroke-opacity="0.8" stroke-width="2.5"/>
<circle cx="1263.0" cy="642.8" r="7.5" fill="#FF0000" fill-opacity="0.7" stroke="#000" stroke-opacity="0.8" stroke-width="2.5"/>
<circle cx="1262.2" cy="673.0" r="7.5" fill="#FF0000" fill-opacity="0.7" stroke="#000" stroke-opacity="0.8" stroke-width="2.5"/>
<circle cx="1258.3" cy="673.9" r="7.5" fill="#FF0000" fill-opacity="0.7" stroke="#000" stroke-opacity="0.8" stroke-width="2.5"/>
<circle cx="1261.1" cy="660.2" r="7.5" fill="#FF0000" fill-opacity="0.7" stroke="#000" stroke-opacity="0.8" stroke-width="2.5"/>
<circle cx="1264.4" cy="662.2" r="7.5" fill="#FF0000" fill-opacity="0.7" stroke="#000" stroke-opacity="0.8" stroke-width="2.5"/>
<circle cx="1263.7" cy="646.1" r="7.5" fill="#FF0000" fill-opacity="0.7" stroke="#000" stroke-opacity="0.8" stroke-width="2.5"/>
<circle cx="1270.0" cy="687.2" r="7.5" fill="#FF0000" fill-opacity="0.7" stroke="#000" stroke-opacity="0.8" stroke-width="2.5"/>
<circle cx="1255.5" cy="664.7" r="7.5" fill="#FF0000" fill-opacity="0.7" stroke="#000" stroke-opacity="0.8" stroke-width="2.5"/>
<circle cx="1262.5" cy="672.8" r="7.5" fill="#FF0000" fill-opacity="0.7" stroke="#000" stroke-opacity="0.8" stroke-width="2.5"/>
<circle cx="1271.5" cy="687.7" r="7.5" fill="#FF0000" fill-opacity="0.7" stroke="#000" stroke-opacity="0.8" stroke-width="2.5"/>
<circle cx="1260.7" cy="660.0" r="7.5" fill="#FF0000" fill-opacity="0.7" stroke="#000" stroke-opacity="0.8" stroke-width="2.5"/>
<circle cx="1258.2" cy="664.0" r="7.5" fill="#FF0000" fill-opacity="0.7" stroke="#000" stroke-opacity="0.8" stroke-width="2.5"/>
<circle cx="1269.9" cy="665.5" r="7.5" fill="#FF0000" fill-opacity="0.7" stroke="#000" stroke-opacity="0.8" stroke-width="2.5"/>
<circle cx="1280.0" cy="638.7" r="7.5" fill="#FF0000" fill-opacity="0.7" stroke="#000" stroke-opacity="0.8" stroke-width="2.5"/>
<circle cx="1275.6" cy="639.3" r="7.5" fill="#FF0000" fill-opacity="0.7" stroke="#000" stroke-opacity="0.8" stroke-width="2.5"/>
<circle cx="1284.5" cy="671.1" r="7.5" fill="#FF0000" fill-opacity="0.7" stroke="#000" stroke-opacity="0.8" stroke-width="2.5"/>
<circle cx="1276.2" cy="637.2" r="7.5" fill="#FF0000" fill-opacity="0.7" stroke="#000" stroke-opacity="0.8" stroke-width="2.5"/>
<circle cx="1274.1" cy="687.0" r="7.5" fill="#FF0000" fill-opacity="0.7" stroke="#000" stroke-opacity="0.8" stroke-width="2.5"/>
<circle cx="1256.6" cy="642.5" r="7.5" fill="#FF0000" fill-opacity="0.7" stroke="#000" stroke-opacity="0.8" stroke-width="2.5"/>
<circle cx="1258.9" cy="666.9" r="7.5" fill="#FF0000" fill-opacity="0.7" stroke="#000" stroke-opacity="0.8" stroke-width="2.5"/>
<circle cx="1262.7" cy="685.2" r="7.5" fill="#FF0000" fill-opacity="0.7" stroke="#000" stroke-opacity="0.8" stroke-width="2.5"/>
<circle cx="1259.9" cy="670.4" r="7.5" fill="#FF0000" fill-opacity="0.7" stroke="#000" stroke-opacity="0.8" stroke-width="2.5"/>
<circle cx="1281.1" cy="688.4" r="7.5" fill="#FF0000" fill-opacity="0.7" stroke="#000" stroke-opacity="0.8" stroke-width="2.5"/>
<circle cx="1275.1" cy="675.5" r="7.5" fill="#FF0000" fill-opacity="0.7" stroke="#000" stroke-opacity="0.8" stroke-width="2.5"/>
<circle cx="1263.8" cy="654.2" r="7.5" fill="#FF0000" fill-opacity="0.7" stroke="#000" stroke-opacity="0.8" stroke-width="2.5"/>
<circle cx="1268.8" cy="670.9" r="7.5" fill="#FF0000" fill-opacity="0.7" stroke="#000" stroke-opacity="0.8" stroke-width="2.5"/>
<circle cx="1262.9" cy="668.3" r="7.5" fill="#FF0000" fill-opacity="0.7" stroke="#000" stroke-opacity="0.8" stroke-width="2.5"/>
<circle cx="1283.9" cy="674.3" r="7.5" fill="#FF0000" fill-opacity="0.7" stroke="#000" stroke-opacity="0.8" stroke-width="2.5"/>
<circle cx="1262.3" cy="680.6" r="7.5" fill="#FF0000" fill-opacity="0.7" stroke="#000" stroke-opacity="0.8" stroke-width="2.5"/>
<circle cx="1284.0" cy="652.9" r="7.5" fill="#FF0000" fill-opacity="0.7" stroke="#000" stroke-opacity="0.8" stroke-width="2.5"/>
<circle cx="1255.0" cy="650.5" r="7.5" fill="#FF0000" fill-opacity="0.7" stroke="#000" stroke-opacity="0.8" stroke-width="2.5"/>
<circle cx="1266.4" cy="673.6" r="7.5" fill="#FF0000" fill-opacity="0.7" stroke="#000" stroke-opacity="0.8" stroke-width="2.5"/>
<circle cx="1261.0" cy="634.8" r="7.5" fill="#FF0000" fill-opacity="0.7" stroke="#000" stroke-opacity="0.8" stroke-width="2.5"/>
<circle cx="1270.1" cy="660.6" r="7.5" fill="#FF0000" fill-opacity="0.7" stroke="#000" stroke-opacity="0.8" stroke-width="2.5"/>
<circle cx="1257.7" cy="671.9" r="7.5" fill="#FF0000" fill-opacity="0.7" stroke="#000" stroke-opacity="0.8" stroke-width="2.5"/>
<circle cx="1267.0" cy="657.5" r="7.5" fill="#FF0000" fill-opacity="0.7" stroke="#000" stroke-opacity="0.8" stroke-width="2.5"/>
<circle cx="1264.1" cy="660.9" r="7.5" fill="#FF0000" fill-opacity="0.7" stroke="#000" stroke-opacity="0.8" stroke-width="2.5"/>
<circle cx="1262.0" cy="658.0" r="7.5" fill="#FF0000" fill-opacity="0.7" stroke="#000" stroke-opacity="0.8" stroke-width="2.5"/>
<circle cx="1355.3" cy="655.5" r="7.5" fill="#ADD8E6" fill-opacity="0.7" stroke="#000" stroke-opacity="0.8" stroke-width="2.5"/>
<circle cx="1364.6" cy="668.9" r="7.5" fill="#ADD8E6" fill-opacity="0.7" stroke="#000" stroke-opacity="0.8" stroke-width="2.5"/>
<circle cx="1359.7" cy="686.8" r="7.5" fill="#ADD8E6" fill-opacity="0.7" stroke="#000" stroke-opacity="0.8" stroke-width="2.5"/>
<circle cx="1362.5" cy="701.9" r="7.5" fill="#ADD8E6" fill-opacity="0.7" stroke="#000" stroke-opacity="0.8" stroke-width="2.5"/>
<circle cx="1358.1" cy="723.5" r="7.5" fill="#ADD8E6" fill-opacity="0.7" stroke="#000" stroke-opacity="0.8" stroke-width="2.5"/>
<circle cx="1345.2" cy="732.7" r="7.5" fill="#ADD8E6" fill-opacity="0.7" stroke="#000" stroke-opacity="0.8" stroke-width="2.5"/>
<circle cx="1355.3" cy="740.7" r="7.5" fill="#ADD8E6" fill-opacity="0.7" stroke="#000" stroke-opacity="0.8" stroke-width="2.5"/>
<circle cx="1358.6" cy="747.9" r="7.5" fill="#ADD8E6" fill-opacity="0.7" stroke="#000" stroke-opacity="0.8" stroke-width="2.5"/>
<circle cx="1355.3" cy="756.5" r="7.5" fill="#ADD8E6" fill-opacity="0.7" stroke="#000" stroke-opacity="0.8" stroke-width="2.5"/>
<circle cx="1366.1" cy="783.3" r="7.5" fill="#ADD8E6" fill-opacity="0.7" stroke="#000" stroke-opacity="0.8" stroke-width="2.5"/>
<circle cx="1354.3" cy="727.8" r="7.5" fill="#ADD8E6" fill-opacity="0.7" stroke="#000" stroke-opacity="0.8" stroke-width="2.5"/>
<circle cx="1357.5" cy="734.3" r="7.5" fill="#ADD8E6" fill-opacity="0.7" stroke="#000" stroke-opacity="0.8" stroke-width="2.5"/>
<circle cx="1409.3" cy="602.6" r="7.5" fill="#FF0000" fill-opacity="0.7" stroke="#000" stroke-opacity="0.8" stroke-width="2.5"/>
<circle cx="1394.2" cy="721.3" r="7.5" fill="#FF0000" fill-opacity="0.7" stroke="#000" stroke-opacity="0.8" stroke-width="2.5"/>
<circle cx="1402.2" cy="722.4" r="7.5" fill="#FF0000" fill-opacity="0.7" stroke="#000" stroke-opacity="0.8" stroke-width="2.5"/>
<circle cx="1392.0" cy="737.5" r="7.5" fill="#FF0000" fill-opacity="0.7" stroke="#000" stroke-opacity="0.8" stroke-width="2.5"/>
<circle cx="1411.0" cy="751.5" r="7.5" fill="#FF0000" fill-opacity="0.7" stroke="#000" stroke-opacity="0.8" stroke-width="2.5"/>
<circle cx="1397.4" cy="609.1" r="7.5" fill="#FF0000" fill-opacity="0.7" stroke="#000" stroke-opacity="0.8" stroke-width="2.5"/>
<circle cx="1391.0" cy="618.8" r="7.5" fill="#FF0000" fill-opacity="0.7" stroke="#000" stroke-opacity="0.8" stroke-width="2.5"/>
<circle cx="1416.9" cy="617.7" r="7.5" fill="#FF0000" fill-opacity="0.7" stroke="#000" stroke-opacity="0.8" stroke-width="2.5"/>
<circle cx="1410.4" cy="628.5" r="7.5" fill="#FF0000" fill-opacity="0.7" stroke="#000" stroke-opacity="0.8" stroke-width="2.5"/>
<circle cx="1412.5" cy="626.5" r="7.5" fill="#FF0000" fill-opacity="0.7" stroke="#000" stroke-opacity="0.8" stroke-width="2.5"/>
<circle cx="1409.5" cy="638.0" r="7.5" fill="#FF0000" fill-opacity="0.7" stroke="#000" stroke-opacity="0.8" stroke-width="2.5"/>
<circle cx="1401.0" cy="643.2" r="7.5" fill="#FF0000" fill-opacity="0.7" stroke="#000" stroke-opacity="0.8" stroke-width="2.5"/>
<circle cx="1393.3" cy="619.1" r="7.5" fill="#FF0000" fill-opacity="0.7" stroke="#000" stroke-opacity="0.8" stroke-width="2.5"/>
<circle cx="1389.9" cy="648.7" r="7.5" fill="#FF0000" fill-opacity="0.7" stroke="#000" stroke-opacity="0.8" stroke-width="2.5"/>
<circle cx="1415.2" cy="616.7" r="7.5" fill="#FF0000" fill-opacity="0.7" stroke="#000" stroke-opacity="0.8" stroke-width="2.5"/>
<circle cx="1412.0" cy="684.5" r="7.5" fill="#FF0000" fill-opacity="0.7" stroke="#000" stroke-opacity="0.8" stroke-width="2.5"/>
<circle cx="1414.5" cy="631.2" r="7.5" fill="#FF0000" fill-opacity="0.7" stroke="#000" stroke-opacity="0.8" stroke-width="2.5"/>
<circle cx="1404.6" cy="676.1" r="7.5" fill="#FF0000" fill-opacity="0.7" stroke="#000" stroke-opacity="0.8" stroke-width="2.5"/>
<circle cx="1415.2" cy="680.2" r="7.5" fill="#FF0000" fill-opacity="0.7" stroke="#000" stroke-opacity="0.8" stroke-width="2.5"/>
<circle cx="1407.2" cy="672.0" r="7.5" fill="#FF0000" fill-opacity="0.7" stroke="#000" stroke-opacity="0.8" stroke-width="2.5"/>
<circle cx="1417.1" cy="607.4" r="7.5" fill="#FF0000" fill-opacity="0.7" stroke="#000" stroke-opacity="0.8" stroke-width="2.5"/>
<circle cx="1395.9" cy="638.0" r="7.5" fill="#FF0000" fill-opacity="0.7" stroke="#000" stroke-opacity="0.8" stroke-width="2.5"/>
<circle cx="1389.5" cy="617.1" r="7.5" fill="#FF0000" fill-opacity="0.7" stroke="#000" stroke-opacity="0.8" stroke-width="2.5"/>
<circle cx="1391.9" cy="672.1" r="7.5" fill="#FF0000" fill-opacity="0.7" stroke="#000" stroke-opacity="0.8" stroke-width="2.5"/>
<circle cx="1415.2" cy="674.0" r="7.5" fill="#FF0000" fill-opacity="0.7" stroke="#000" stroke-opacity="0.8" stroke-width="2.5"/>
<circle cx="1408.5" cy="619.6" r="7.5" fill="#FF0000" fill-opacity="0.7" stroke="#000" stroke-opacity="0.8" stroke-width="2.5"/>
<circle cx="1410.3" cy="641.4" r="7.5" fill="#FF0000" fill-opacity="0.7" stroke="#000" stroke-opacity="0.8" stroke-width="2.5"/>
<circle cx="1414.0" cy="652.8" r="7.5" fill="#FF0000" fill-opacity="0.7" stroke="#000" stroke-opacity="0.8" stroke-width="2.5"/>
<circle cx="1412.4" cy="655.1" r="7.5" fill="#FF0000" fill-opacity="0.7" stroke="#000" stroke-opacity="0.8" stroke-width="2.5"/>
<circle cx="1409.6" cy="621.6" r="7.5" fill="#FF0000" fill-opacity="0.7" stroke="#000" stroke-opacity="0.8" stroke-width="2.5"/>
<circle cx="1390.6" cy="654.4" r="7.5" fill="#FF0000" fill-opacity="0.7" stroke="#000" stroke-opacity="0.8" stroke-width="2.5"/>
<circle cx="1390.9" cy="653.3" r="7.5" fill="#FF0000" fill-opacity="0.7" stroke="#000" stroke-opacity="0.8" stroke-width="2.5"/>
<circle cx="1397.0" cy="634.5" r="7.5" fill="#FF0000" fill-opacity="0.7" stroke="#000" stroke-opacity="0.8" stroke-width="2.5"/>
<circle cx="1412.2" cy="652.6" r="7.5" fill="#FF0000" fill-opacity="0.7" stroke="#000" stroke-opacity="0.8" stroke-width="2.5"/>
<circle cx="1419.7" cy="636.9" r="7.5" fill="#FF0000" fill-opacity="0.7" stroke="#000" stroke-opacity="0.8" stroke-width="2.5"/>
<circle cx="1403.8" cy="628.5" r="7.5" fill="#FF0000" fill-opacity="0.7" stroke="#000" stroke-opacity="0.8" stroke-width="2.5"/>
<circle cx="1410.4" cy="656.0" r="7.5" fill="#FF0000" fill-opacity="0.7" stroke="#000" stroke-opacity="0.8" stroke-width="2.5"/>
<circle cx="1409.1" cy="659.0" r="7.5" fill="#FF0000" fill-opacity="0.7" stroke="#000" stroke-opacity="0.8" stroke-width="2.5"/>
<circle cx="1391.0" cy="617.8" r="7.5" fill="#FF0000" fill-opacity="0.7" stroke="#000" stroke-opacity="0.8" stroke-width="2.5"/>
<circle cx="1412.3" cy="667.4" r="7.5" fill="#FF0000" fill-opacity="0.7" stroke="#000" stroke-opacity="0.8" stroke-width="2.5"/>
<circle cx="1398.2" cy="671.5" r="7.5" fill="#FF0000" fill-opacity="0.7" stroke="#000" stroke-opacity="0.8" stroke-width="2.5"/>
<circle cx="1390.4" cy="651.1" r="7.5" fill="#FF0000" fill-opacity="0.7" stroke="#000" stroke-opacity="0.8" stroke-width="2.5"/>
<circle cx="1397.1" cy="653.2" r="7.5" fill="#FF0000" fill-opacity="0.7" stroke="#000" stroke-opacity="0.8" stroke-width="2.5"/>
<circle cx="1410.1" cy="635.5" r="7.5" fill="#FF0000" fill-opacity="0.7" stroke="#000" stroke-opacity="0.8" stroke-width="2.5"/>
<circle cx="1397.8" cy="618.4" r="7.5" fill="#FF0000" fill-opacity="0.7" stroke="#000" stroke-opacity="0.8" stroke-width="2.5"/>
<circle cx="1403.4" cy="625.0" r="7.5" fill="#FF0000" fill-opacity="0.7" stroke="#000" stroke-opacity="0.8" stroke-width="2.5"/>
<circle cx="1392.3" cy="651.9" r="7.5" fill="#FF0000" fill-opacity="0.7" stroke="#000" stroke-opacity="0.8" stroke-width="2.5"/>
<circle cx="1419.8" cy="669.1" r="7.5" fill="#FF0000" fill-opacity="0.7" stroke="#000" stroke-opacity="0.8" stroke-width="2.5"/>
<circle cx="1418.5" cy="643.8" r="7.5" fill="#FF0000" fill-opacity="0.7" stroke="#000" stroke-opacity="0.8" stroke-width="2.5"/>
<circle cx="1414.7" cy="684.7" r="7.5" fill="#FF0000" fill-opacity="0.7" stroke="#000" stroke-opacity="0.8" stroke-width="2.5"/>
<circle cx="1419.5" cy="658.3" r="7.5" fill="#FF0000" fill-opacity="0.7" stroke="#000" stroke-opacity="0.8" stroke-width="2.5"/>
<circle cx="1395.2" cy="634.7" r="7.5" fill="#FF0000" fill-opacity="0.7" stroke="#000" stroke-opacity="0.8" stroke-width="2.5"/>
<circle cx="1418.8" cy="661.7" r="7.5" fill="#FF0000" fill-opacity="0.7" stroke="#000" stroke-opacity="0.8" stroke-width="2.5"/>
<circle cx="1393.0" cy="663.7" r="7.5" fill="#FF0000" fill-opacity="0.7" stroke="#000" stroke-opacity="0.8" stroke-width="2.5"/>
<circle cx="1405.3" cy="689.6" r="7.5" fill="#FF0000" fill-opacity="0.7" stroke="#000" stroke-opacity="0.8" stroke-width="2.5"/>
<circle cx="1414.7" cy="668.8" r="7.5" fill="#FF0000" fill-opacity="0.7" stroke="#000" stroke-opacity="0.8" stroke-width="2.5"/>
<circle cx="1404.8" cy="650.8" r="7.5" fill="#FF0000" fill-opacity="0.7" stroke="#000" stroke-opacity="0.8" stroke-width="2.5"/>
<circle cx="1395.9" cy="686.9" r="7.5" fill="#FF0000" fill-opacity="0.7" stroke="#000" stroke-opacity="0.8" stroke-width="2.5"/>
<circle cx="1417.2" cy="627.5" r="7.5" fill="#FF0000" fill-opacity="0.7" stroke="#000" stroke-opacity="0.8" stroke-width="2.5"/>
<circle cx="1388.6" cy="649.0" r="7.5" fill="#FF0000" fill-opacity="0.7" stroke="#000" stroke-opacity="0.8" stroke-width="2.5"/>
<circle cx="1404.2" cy="655.5" r="7.5" fill="#FF0000" fill-opacity="0.7" stroke="#000" stroke-opacity="0.8" stroke-width="2.5"/>
<circle cx="1393.0" cy="633.2" r="7.5" fill="#FF0000" fill-opacity="0.7" stroke="#000" stroke-opacity="0.8" stroke-width="2.5"/>
<circle cx="1399.5" cy="662.0" r="7.5" fill="#FF0000" fill-opacity="0.7" stroke="#000" stroke-opacity="0.8" stroke-width="2.5"/>
<circle cx="1388.6" cy="634.1" r="7.5" fill="#FF0000" fill-opacity="0.7" stroke="#000" stroke-opacity="0.8" stroke-width="2.5"/>
<circle cx="1412.5" cy="702.3" r="7.5" fill="#FF0000" fill-opacity="0.7" stroke="#000" stroke-opacity="0.8" stroke-width="2.5"/>
<circle cx="1418.1" cy="662.3" r="7.5" fill="#FF0000" fill-opacity="0.7" stroke="#000" stroke-opacity="0.8" stroke-width="2.5"/>
<circle cx="1411.3" cy="643.4" r="7.5" fill="#FF0000" fill-opacity="0.7" stroke="#000" stroke-opacity="0.8" stroke-width="2.5"/>
<circle cx="1488.5" cy="651.2" r="7.5" fill="#ADD8E6" fill-opacity="0.7" stroke="#000" stroke-opacity="0.8" stroke-width="2.5"/>
<circle cx="1483.1" cy="688.9" r="7.5" fill="#ADD8E6" fill-opacity="0.7" stroke="#000" stroke-opacity="0.8" stroke-width="2.5"/>
<circle cx="1477.9" cy="698.6" r="7.5" fill="#ADD8E6" fill-opacity="0.7" stroke="#000" stroke-opacity="0.8" stroke-width="2.5"/>
<circle cx="1484.8" cy="705.1" r="7.5" fill="#ADD8E6" fill-opacity="0.7" stroke="#000" stroke-opacity="0.8" stroke-width="2.5"/>
<circle cx="1476.2" cy="712.7" r="7.5" fill="#ADD8E6" fill-opacity="0.7" stroke="#000" stroke-opacity="0.8" stroke-width="2.5"/>
<circle cx="1497.8" cy="718.1" r="7.5" fill="#ADD8E6" fill-opacity="0.7" stroke="#000" stroke-opacity="0.8" stroke-width="2.5"/>
<circle cx="1492.4" cy="722.4" r="7.5" fill="#ADD8E6" fill-opacity="0.7" stroke="#000" stroke-opacity="0.8" stroke-width="2.5"/>
<circle cx="1475.8" cy="737.5" r="7.5" fill="#ADD8E6" fill-opacity="0.7" stroke="#000" stroke-opacity="0.8" stroke-width="2.5"/>
<circle cx="1485.9" cy="742.9" r="7.5" fill="#ADD8E6" fill-opacity="0.7" stroke="#000" stroke-opacity="0.8" stroke-width="2.5"/>
<circle cx="1500.0" cy="745.1" r="7.5" fill="#ADD8E6" fill-opacity="0.7" stroke="#000" stroke-opacity="0.8" stroke-width="2.5"/>
<circle cx="1498.2" cy="753.7" r="7.5" fill="#ADD8E6" fill-opacity="0.7" stroke="#000" stroke-opacity="0.8" stroke-width="2.5"/>
<circle cx="1482.0" cy="755.4" r="7.5" fill="#ADD8E6" fill-opacity="0.7" stroke="#000" stroke-opacity="0.8" stroke-width="2.5"/>
<circle cx="1544.2" cy="596.1" r="7.5" fill="#FF0000" fill-opacity="0.7" stroke="#000" stroke-opacity="0.8" stroke-width="2.5"/>
<circle cx="1551.8" cy="603.7" r="7.5" fill="#FF0000" fill-opacity="0.7" stroke="#000" stroke-opacity="0.8" stroke-width="2.5"/>
<circle cx="1524.8" cy="609.1" r="7.5" fill="#FF0000" fill-opacity="0.7" stroke="#000" stroke-opacity="0.8" stroke-width="2.5"/>
<circle cx="1531.2" cy="616.6" r="7.5" fill="#FF0000" fill-opacity="0.7" stroke="#000" stroke-opacity="0.8" stroke-width="2.5"/>
<circle cx="1546.4" cy="614.5" r="7.5" fill="#FF0000" fill-opacity="0.7" stroke="#000" stroke-opacity="0.8" stroke-width="2.5"/>
<circle cx="1525.9" cy="711.6" r="7.5" fill="#FF0000" fill-opacity="0.7" stroke="#000" stroke-opacity="0.8" stroke-width="2.5"/>
<circle cx="1531.2" cy="715.9" r="7.5" fill="#FF0000" fill-opacity="0.7" stroke="#000" stroke-opacity="0.8" stroke-width="2.5"/>
<circle cx="1548.5" cy="709.4" r="7.5" fill="#FF0000" fill-opacity="0.7" stroke="#000" stroke-opacity="0.8" stroke-width="2.5"/>
<circle cx="1535.7" cy="673.9" r="7.5" fill="#FF0000" fill-opacity="0.7" stroke="#000" stroke-opacity="0.8" stroke-width="2.5"/>
<circle cx="1536.3" cy="641.6" r="7.5" fill="#FF0000" fill-opacity="0.7" stroke="#000" stroke-opacity="0.8" stroke-width="2.5"/>
<circle cx="1535.3" cy="692.3" r="7.5" fill="#FF0000" fill-opacity="0.7" stroke="#000" stroke-opacity="0.8" stroke-width="2.5"/>
<circle cx="1537.3" cy="654.7" r="7.5" fill="#FF0000" fill-opacity="0.7" stroke="#000" stroke-opacity="0.8" stroke-width="2.5"/>
<circle cx="1527.6" cy="653.6" r="7.5" fill="#FF0000" fill-opacity="0.7" stroke="#000" stroke-opacity="0.8" stroke-width="2.5"/>
<circle cx="1549.5" cy="663.7" r="7.5" fill="#FF0000" fill-opacity="0.7" stroke="#000" stroke-opacity="0.8" stroke-width="2.5"/>
<circle cx="1532.0" cy="640.4" r="7.5" fill="#FF0000" fill-opacity="0.7" stroke="#000" stroke-opacity="0.8" stroke-width="2.5"/>
<circle cx="1530.2" cy="651.7" r="7.5" fill="#FF0000" fill-opacity="0.7" stroke="#000" stroke-opacity="0.8" stroke-width="2.5"/>
<circle cx="1535.7" cy="688.3" r="7.5" fill="#FF0000" fill-opacity="0.7" stroke="#000" stroke-opacity="0.8" stroke-width="2.5"/>
<circle cx="1548.9" cy="711.0" r="7.5" fill="#FF0000" fill-opacity="0.7" stroke="#000" stroke-opacity="0.8" stroke-width="2.5"/>
<circle cx="1543.4" cy="639.2" r="7.5" fill="#FF0000" fill-opacity="0.7" stroke="#000" stroke-opacity="0.8" stroke-width="2.5"/>
<circle cx="1541.0" cy="711.9" r="7.5" fill="#FF0000" fill-opacity="0.7" stroke="#000" stroke-opacity="0.8" stroke-width="2.5"/>
<circle cx="1546.1" cy="620.6" r="7.5" fill="#FF0000" fill-opacity="0.7" stroke="#000" stroke-opacity="0.8" stroke-width="2.5"/>
<circle cx="1538.0" cy="698.3" r="7.5" fill="#FF0000" fill-opacity="0.7" stroke="#000" stroke-opacity="0.8" stroke-width="2.5"/>
<circle cx="1547.1" cy="668.9" r="7.5" fill="#FF0000" fill-opacity="0.7" stroke="#000" stroke-opacity="0.8" stroke-width="2.5"/>
<circle cx="1526.0" cy="640.8" r="7.5" fill="#FF0000" fill-opacity="0.7" stroke="#000" stroke-opacity="0.8" stroke-width="2.5"/>
<circle cx="1552.3" cy="636.9" r="7.5" fill="#FF0000" fill-opacity="0.7" stroke="#000" stroke-opacity="0.8" stroke-width="2.5"/>
<circle cx="1534.8" cy="677.1" r="7.5" fill="#FF0000" fill-opacity="0.7" stroke="#000" stroke-opacity="0.8" stroke-width="2.5"/>
<circle cx="1533.4" cy="677.7" r="7.5" fill="#FF0000" fill-opacity="0.7" stroke="#000" stroke-opacity="0.8" stroke-width="2.5"/>
<circle cx="1532.3" cy="649.7" r="7.5" fill="#FF0000" fill-opacity="0.7" stroke="#000" stroke-opacity="0.8" stroke-width="2.5"/>
<circle cx="1541.2" cy="641.8" r="7.5" fill="#FF0000" fill-opacity="0.7" stroke="#000" stroke-opacity="0.8" stroke-width="2.5"/>
<circle cx="1536.3" cy="635.3" r="7.5" fill="#FF0000" fill-opacity="0.7" stroke="#000" stroke-opacity="0.8" stroke-width="2.5"/>
<circle cx="1530.7" cy="663.3" r="7.5" fill="#FF0000" fill-opacity="0.7" stroke="#000" stroke-opacity="0.8" stroke-width="2.5"/>
<circle cx="1551.7" cy="669.4" r="7.5" fill="#FF0000" fill-opacity="0.7" stroke="#000" stroke-opacity="0.8" stroke-width="2.5"/>
<circle cx="1551.7" cy="635.3" r="7.5" fill="#FF0000" fill-opacity="0.7" stroke="#000" stroke-opacity="0.8" stroke-width="2.5"/>
<circle cx="1554.4" cy="655.4" r="7.5" fill="#FF0000" fill-opacity="0.7" stroke="#000" stroke-opacity="0.8" stroke-width="2.5"/>
<circle cx="1530.3" cy="640.4" r="7.5" fill="#FF0000" fill-opacity="0.7" stroke="#000" stroke-opacity="0.8" stroke-width="2.5"/>
<circle cx="1527.2" cy="659.7" r="7.5" fill="#FF0000" fill-opacity="0.7" stroke="#000" stroke-opacity="0.8" stroke-width="2.5"/>
<circle cx="1531.7" cy="648.3" r="7.5" fill="#FF0000" fill-opacity="0.7" stroke="#000" stroke-opacity="0.8" stroke-width="2.5"/>
<circle cx="1532.3" cy="665.3" r="7.5" fill="#FF0000" fill-opacity="0.7" stroke="#000" stroke-opacity="0.8" stroke-width="2.5"/>
<circle cx="1547.0" cy="602.0" r="7.5" fill="#FF0000" fill-opacity="0.7" stroke="#000" stroke-opacity="0.8" stroke-width="2.5"/>
<circle cx="1536.9" cy="630.2" r="7.5" fill="#FF0000" fill-opacity="0.7" stroke="#000" stroke-opacity="0.8" stroke-width="2.5"/>
<circle cx="1535.8" cy="625.7" r="7.5" fill="#FF0000" fill-opacity="0.7" stroke="#000" stroke-opacity="0.8" stroke-width="2.5"/>
<circle cx="1534.6" cy="672.6" r="7.5" fill="#FF0000" fill-opacity="0.7" stroke="#000" stroke-opacity="0.8" stroke-width="2.5"/>
<circle cx="1553.5" cy="675.9" r="7.5" fill="#FF0000" fill-opacity="0.7" stroke="#000" stroke-opacity="0.8" stroke-width="2.5"/>
<circle cx="1528.3" cy="663.6" r="7.5" fill="#FF0000" fill-opacity="0.7" stroke="#000" stroke-opacity="0.8" stroke-width="2.5"/>
<circle cx="1550.4" cy="615.5" r="7.5" fill="#FF0000" fill-opacity="0.7" stroke="#000" stroke-opacity="0.8" stroke-width="2.5"/>
<circle cx="1531.0" cy="654.2" r="7.5" fill="#FF0000" fill-opacity="0.7" stroke="#000" stroke-opacity="0.8" stroke-width="2.5"/>
<circle cx="1536.5" cy="652.2" r="7.5" fill="#FF0000" fill-opacity="0.7" stroke="#000" stroke-opacity="0.8" stroke-width="2.5"/>
<circle cx="1537.9" cy="676.0" r="7.5" fill="#FF0000" fill-opacity="0.7" stroke="#000" stroke-opacity="0.8" stroke-width="2.5"/>
<circle cx="1550.7" cy="707.2" r="7.5" fill="#FF0000" fill-opacity="0.7" stroke="#000" stroke-opacity="0.8" stroke-width="2.5"/>
<circle cx="1525.2" cy="639.5" r="7.5" fill="#FF0000" fill-opacity="0.7" stroke="#000" stroke-opacity="0.8" stroke-width="2.5"/>
<circle cx="1551.4" cy="698.1" r="7.5" fill="#FF0000" fill-opacity="0.7" stroke="#000" stroke-opacity="0.8" stroke-width="2.5"/>
<circle cx="1538.7" cy="663.9" r="7.5" fill="#FF0000" fill-opacity="0.7" stroke="#000" stroke-opacity="0.8" stroke-width="2.5"/>
<circle cx="1536.2" cy="654.5" r="7.5" fill="#FF0000" fill-opacity="0.7" stroke="#000" stroke-opacity="0.8" stroke-width="2.5"/>
<circle cx="1552.3" cy="654.7" r="7.5" fill="#FF0000" fill-opacity="0.7" stroke="#000" stroke-opacity="0.8" stroke-width="2.5"/>
<circle cx="1553.7" cy="680.2" r="7.5" fill="#FF0000" fill-opacity="0.7" stroke="#000" stroke-opacity="0.8" stroke-width="2.5"/>
<circle cx="1532.0" cy="606.0" r="7.5" fill="#FF0000" fill-opacity="0.7" stroke="#000" stroke-opacity="0.8" stroke-width="2.5"/>
<circle cx="1540.2" cy="667.6" r="7.5" fill="#FF0000" fill-opacity="0.7" stroke="#000" stroke-opacity="0.8" stroke-width="2.5"/>
<circle cx="1545.0" cy="665.3" r="7.5" fill="#FF0000" fill-opacity="0.7" stroke="#000" stroke-opacity="0.8" stroke-width="2.5"/>
<circle cx="1543.9" cy="696.8" r="7.5" fill="#FF0000" fill-opacity="0.7" stroke="#000" stroke-opacity="0.8" stroke-width="2.5"/>
<circle cx="1547.4" cy="638.9" r="7.5" fill="#FF0000" fill-opacity="0.7" stroke="#000" stroke-opacity="0.8" stroke-width="2.5"/>
<circle cx="1525.7" cy="620.8" r="7.5" fill="#FF0000" fill-opacity="0.7" stroke="#000" stroke-opacity="0.8" stroke-width="2.5"/>
<circle cx="1548.0" cy="664.4" r="7.5" fill="#FF0000" fill-opacity="0.7" stroke="#000" stroke-opacity="0.8" stroke-width="2.5"/>
<circle cx="1543.9" cy="661.9" r="7.5" fill="#FF0000" fill-opacity="0.7" stroke="#000" stroke-opacity="0.8" stroke-width="2.5"/>
<circle cx="1532.1" cy="650.1" r="7.5" fill="#FF0000" fill-opacity="0.7" stroke="#000" stroke-opacity="0.8" stroke-width="2.5"/>
<circle cx="1543.6" cy="668.8" r="7.5" fill="#FF0000" fill-opacity="0.7" stroke="#000" stroke-opacity="0.8" stroke-width="2.5"/>
<circle cx="1526.6" cy="650.7" r="7.5" fill="#FF0000" fill-opacity="0.7" stroke="#000" stroke-opacity="0.8" stroke-width="2.5"/>
<circle cx="1620.4" cy="857.0" r="7.5" fill="#ADD8E6" fill-opacity="0.7" stroke="#000" stroke-opacity="0.8" stroke-width="2.5"/>
<circle cx="1618.0" cy="856.1" r="7.5" fill="#ADD8E6" fill-opacity="0.7" stroke="#000" stroke-opacity="0.8" stroke-width="2.5"/>
<circle cx="1621.8" cy="855.5" r="7.5" fill="#ADD8E6" fill-opacity="0.7" stroke="#000" stroke-opacity="0.8" stroke-width="2.5"/>
<circle cx="1616.4" cy="856.7" r="7.5" fill="#ADD8E6" fill-opacity="0.7" stroke="#000" stroke-opacity="0.8" stroke-width="2.5"/>
<circle cx="1628.3" cy="857.1" r="7.5" fill="#ADD8E6" fill-opacity="0.7" stroke="#000" stroke-opacity="0.8" stroke-width="2.5"/>
<circle cx="1626.9" cy="856.7" r="7.5" fill="#ADD8E6" fill-opacity="0.7" stroke="#000" stroke-opacity="0.8" stroke-width="2.5"/>
<circle cx="1615.2" cy="856.1" r="7.5" fill="#ADD8E6" fill-opacity="0.7" stroke="#000" stroke-opacity="0.8" stroke-width="2.5"/>
<circle cx="1628.3" cy="857.3" r="7.5" fill="#ADD8E6" fill-opacity="0.7" stroke="#000" stroke-opacity="0.8" stroke-width="2.5"/>
<circle cx="1616.5" cy="855.6" r="7.5" fill="#ADD8E6" fill-opacity="0.7" stroke="#000" stroke-opacity="0.8" stroke-width="2.5"/>
<circle cx="1620.0" cy="857.2" r="7.5" fill="#ADD8E6" fill-opacity="0.7" stroke="#000" stroke-opacity="0.8" stroke-width="2.5"/>
<circle cx="1618.6" cy="856.1" r="7.5" fill="#ADD8E6" fill-opacity="0.7" stroke="#000" stroke-opacity="0.8" stroke-width="2.5"/>
<circle cx="1623.0" cy="857.8" r="7.5" fill="#ADD8E6" fill-opacity="0.7" stroke="#000" stroke-opacity="0.8" stroke-width="2.5"/>
<circle cx="1615.1" cy="855.6" r="7.5" fill="#ADD8E6" fill-opacity="0.7" stroke="#000" stroke-opacity="0.8" stroke-width="2.5"/>
<circle cx="1617.1" cy="856.6" r="7.5" fill="#ADD8E6" fill-opacity="0.7" stroke="#000" stroke-opacity="0.8" stroke-width="2.5"/>
<circle cx="1628.7" cy="829.2" r="7.5" fill="#ADD8E6" fill-opacity="0.7" stroke="#000" stroke-opacity="0.8" stroke-width="2.5"/>
<circle cx="1610.4" cy="838.9" r="7.5" fill="#ADD8E6" fill-opacity="0.7" stroke="#000" stroke-opacity="0.8" stroke-width="2.5"/>
<circle cx="1664.3" cy="711.6" r="7.5" fill="#FF0000" fill-opacity="0.7" stroke="#000" stroke-opacity="0.8" stroke-width="2.5"/>
<circle cx="1680.5" cy="720.2" r="7.5" fill="#FF0000" fill-opacity="0.7" stroke="#000" stroke-opacity="0.8" stroke-width="2.5"/>
<circle cx="1662.2" cy="731.0" r="7.5" fill="#FF0000" fill-opacity="0.7" stroke="#000" stroke-opacity="0.8" stroke-width="2.5"/>
<circle cx="1661.1" cy="742.9" r="7.5" fill="#FF0000" fill-opacity="0.7" stroke="#000" stroke-opacity="0.8" stroke-width="2.5"/>
<circle cx="1662.2" cy="760.2" r="7.5" fill="#FF0000" fill-opacity="0.7" stroke="#000" stroke-opacity="0.8" stroke-width="2.5"/>
<circle cx="1684.8" cy="853.0" r="7.5" fill="#FF0000" fill-opacity="0.7" stroke="#000" stroke-opacity="0.8" stroke-width="2.5"/>
<circle cx="1670.8" cy="854.1" r="7.5" fill="#FF0000" fill-opacity="0.7" stroke="#000" stroke-opacity="0.8" stroke-width="2.5"/>
<circle cx="1664.3" cy="850.8" r="7.5" fill="#FF0000" fill-opacity="0.7" stroke="#000" stroke-opacity="0.8" stroke-width="2.5"/>
<circle cx="1679.1" cy="782.1" r="7.5" fill="#FF0000" fill-opacity="0.7" stroke="#000" stroke-opacity="0.8" stroke-width="2.5"/>
<circle cx="1680.8" cy="811.0" r="7.5" fill="#FF0000" fill-opacity="0.7" stroke="#000" stroke-opacity="0.8" stroke-width="2.5"/>
<circle cx="1673.7" cy="842.4" r="7.5" fill="#FF0000" fill-opacity="0.7" stroke="#000" stroke-opacity="0.8" stroke-width="2.5"/>
<circle cx="1668.0" cy="815.6" r="7.5" fill="#FF0000" fill-opacity="0.7" stroke="#000" stroke-opacity="0.8" stroke-width="2.5"/>
<circle cx="1665.2" cy="803.6" r="7.5" fill="#FF0000" fill-opacity="0.7" stroke="#000" stroke-opacity="0.8" stroke-width="2.5"/>
<circle cx="1681.4" cy="776.6" r="7.5" fill="#FF0000" fill-opacity="0.7" stroke="#000" stroke-opacity="0.8" stroke-width="2.5"/>
<circle cx="1673.5" cy="775.8" r="7.5" fill="#FF0000" fill-opacity="0.7" stroke="#000" stroke-opacity="0.8" stroke-width="2.5"/>
<circle cx="1671.1" cy="802.6" r="7.5" fill="#FF0000" fill-opacity="0.7" stroke="#000" stroke-opacity="0.8" stroke-width="2.5"/>
<circle cx="1678.6" cy="813.4" r="7.5" fill="#FF0000" fill-opacity="0.7" stroke="#000" stroke-opacity="0.8" stroke-width="2.5"/>
<circle cx="1670.4" cy="809.9" r="7.5" fill="#FF0000" fill-opacity="0.7" stroke="#000" stroke-opacity="0.8" stroke-width="2.5"/>
<circle cx="1665.0" cy="790.0" r="7.5" fill="#FF0000" fill-opacity="0.7" stroke="#000" stroke-opacity="0.8" stroke-width="2.5"/>
<circle cx="1660.2" cy="810.3" r="7.5" fill="#FF0000" fill-opacity="0.7" stroke="#000" stroke-opacity="0.8" stroke-width="2.5"/>
<circle cx="1660.4" cy="792.5" r="7.5" fill="#FF0000" fill-opacity="0.7" stroke="#000" stroke-opacity="0.8" stroke-width="2.5"/>
<circle cx="1685.1" cy="748.1" r="7.5" fill="#FF0000" fill-opacity="0.7" stroke="#000" stroke-opacity="0.8" stroke-width="2.5"/>
<circle cx="1680.6" cy="832.2" r="7.5" fill="#FF0000" fill-opacity="0.7" stroke="#000" stroke-opacity="0.8" stroke-width="2.5"/>
<circle cx="1668.5" cy="794.0" r="7.5" fill="#FF0000" fill-opacity="0.7" stroke="#000" stroke-opacity="0.8" stroke-width="2.5"/>
<circle cx="1681.0" cy="820.9" r="7.5" fill="#FF0000" fill-opacity="0.7" stroke="#000" stroke-opacity="0.8" stroke-width="2.5"/>
<circle cx="1659.6" cy="855.3" r="7.5" fill="#FF0000" fill-opacity="0.7" stroke="#000" stroke-opacity="0.8" stroke-width="2.5"/>
<circle cx="1669.8" cy="781.0" r="7.5" fill="#FF0000" fill-opacity="0.7" stroke="#000" stroke-opacity="0.8" stroke-width="2.5"/>
<circle cx="1668.6" cy="771.5" r="7.5" fill="#FF0000" fill-opacity="0.7" stroke="#000" stroke-opacity="0.8" stroke-width="2.5"/>
<circle cx="1667.0" cy="796.0" r="7.5" fill="#FF0000" fill-opacity="0.7" stroke="#000" stroke-opacity="0.8" stroke-width="2.5"/>
<circle cx="1669.1" cy="796.9" r="7.5" fill="#FF0000" fill-opacity="0.7" stroke="#000" stroke-opacity="0.8" stroke-width="2.5"/>
<circle cx="1687.5" cy="808.8" r="7.5" fill="#FF0000" fill-opacity="0.7" stroke="#000" stroke-opacity="0.8" stroke-width="2.5"/>
<circle cx="1664.8" cy="791.0" r="7.5" fill="#FF0000" fill-opacity="0.7" stroke="#000" stroke-opacity="0.8" stroke-width="2.5"/>
<circle cx="1683.3" cy="762.7" r="7.5" fill="#FF0000" fill-opacity="0.7" stroke="#000" stroke-opacity="0.8" stroke-width="2.5"/>
<circle cx="1671.6" cy="835.7" r="7.5" fill="#FF0000" fill-opacity="0.7" stroke="#000" stroke-opacity="0.8" stroke-width="2.5"/>
<circle cx="1669.8" cy="825.2" r="7.5" fill="#FF0000" fill-opacity="0.7" stroke="#000" stroke-opacity="0.8" stroke-width="2.5"/>
<circle cx="1686.2" cy="804.7" r="7.5" fill="#FF0000" fill-opacity="0.7" stroke="#000" stroke-opacity="0.8" stroke-width="2.5"/>
<circle cx="1685.5" cy="804.3" r="7.5" fill="#FF0000" fill-opacity="0.7" stroke="#000" stroke-opacity="0.8" stroke-width="2.5"/>
<circle cx="1659.5" cy="820.0" r="7.5" fill="#FF0000" fill-opacity="0.7" stroke="#000" stroke-opacity="0.8" stroke-width="2.5"/>
<circle cx="1681.6" cy="751.7" r="7.5" fill="#FF0000" fill-opacity="0.7" stroke="#000" stroke-opacity="0.8" stroke-width="2.5"/>
<circle cx="1659.8" cy="822.2" r="7.5" fill="#FF0000" fill-opacity="0.7" stroke="#000" stroke-opacity="0.8" stroke-width="2.5"/>
<circle cx="1686.2" cy="804.8" r="7.5" fill="#FF0000" fill-opacity="0.7" stroke="#000" stroke-opacity="0.8" stroke-width="2.5"/>
<circle cx="1666.3" cy="797.2" r="7.5" fill="#FF0000" fill-opacity="0.7" stroke="#000" stroke-opacity="0.8" stroke-width="2.5"/>
<circle cx="1668.8" cy="794.0" r="7.5" fill="#FF0000" fill-opacity="0.7" stroke="#000" stroke-opacity="0.8" stroke-width="2.5"/>
<circle cx="1666.8" cy="735.1" r="7.5" fill="#FF0000" fill-opacity="0.7" stroke="#000" stroke-opacity="0.8" stroke-width="2.5"/>
<circle cx="1666.5" cy="832.4" r="7.5" fill="#FF0000" fill-opacity="0.7" stroke="#000" stroke-opacity="0.8" stroke-width="2.5"/>
<circle cx="1680.1" cy="784.8" r="7.5" fill="#FF0000" fill-opacity="0.7" stroke="#000" stroke-opacity="0.8" stroke-width="2.5"/>
<circle cx="1658.7" cy="785.9" r="7.5" fill="#FF0000" fill-opacity="0.7" stroke="#000" stroke-opacity="0.8" stroke-width="2.5"/>
<circle cx="1681.3" cy="815.6" r="7.5" fill="#FF0000" fill-opacity="0.7" stroke="#000" stroke-opacity="0.8" stroke-width="2.5"/>
<circle cx="1686.9" cy="829.4" r="7.5" fill="#FF0000" fill-opacity="0.7" stroke="#000" stroke-opacity="0.8" stroke-width="2.5"/>
<circle cx="1659.3" cy="775.1" r="7.5" fill="#FF0000" fill-opacity="0.7" stroke="#000" stroke-opacity="0.8" stroke-width="2.5"/>
<circle cx="1687.3" cy="798.2" r="7.5" fill="#FF0000" fill-opacity="0.7" stroke="#000" stroke-opacity="0.8" stroke-width="2.5"/>
<circle cx="1687.2" cy="826.6" r="7.5" fill="#FF0000" fill-opacity="0.7" stroke="#000" stroke-opacity="0.8" stroke-width="2.5"/>
<circle cx="1671.5" cy="778.9" r="7.5" fill="#FF0000" fill-opacity="0.7" stroke="#000" stroke-opacity="0.8" stroke-width="2.5"/>
<circle cx="1673.4" cy="808.9" r="7.5" fill="#FF0000" fill-opacity="0.7" stroke="#000" stroke-opacity="0.8" stroke-width="2.5"/>
<circle cx="1682.7" cy="811.0" r="7.5" fill="#FF0000" fill-opacity="0.7" stroke="#000" stroke-opacity="0.8" stroke-width="2.5"/>
<circle cx="1680.8" cy="787.2" r="7.5" fill="#FF0000" fill-opacity="0.7" stroke="#000" stroke-opacity="0.8" stroke-width="2.5"/>
<circle cx="1676.8" cy="816.3" r="7.5" fill="#FF0000" fill-opacity="0.7" stroke="#000" stroke-opacity="0.8" stroke-width="2.5"/>
<circle cx="1668.4" cy="751.7" r="7.5" fill="#FF0000" fill-opacity="0.7" stroke="#000" stroke-opacity="0.8" stroke-width="2.5"/>
<circle cx="1758.2" cy="836.8" r="7.5" fill="#ADD8E6" fill-opacity="0.7" stroke="#000" stroke-opacity="0.8" stroke-width="2.5"/>
<circle cx="1769.0" cy="833.5" r="7.5" fill="#ADD8E6" fill-opacity="0.7" stroke="#000" stroke-opacity="0.8" stroke-width="2.5"/>
<circle cx="1746.4" cy="843.3" r="7.5" fill="#ADD8E6" fill-opacity="0.7" stroke="#000" stroke-opacity="0.8" stroke-width="2.5"/>
<circle cx="1765.8" cy="850.8" r="7.5" fill="#ADD8E6" fill-opacity="0.7" stroke="#000" stroke-opacity="0.8" stroke-width="2.5"/>
<circle cx="1747.4" cy="857.3" r="7.5" fill="#ADD8E6" fill-opacity="0.7" stroke="#000" stroke-opacity="0.8" stroke-width="2.5"/>
<circle cx="1769.0" cy="857.3" r="7.5" fill="#ADD8E6" fill-opacity="0.7" stroke="#000" stroke-opacity="0.8" stroke-width="2.5"/>
<circle cx="1746.4" cy="791.0" r="7.5" fill="#ADD8E6" fill-opacity="0.7" stroke="#000" stroke-opacity="0.8" stroke-width="2.5"/>
<circle cx="1768.6" cy="788.9" r="7.5" fill="#ADD8E6" fill-opacity="0.7" stroke="#000" stroke-opacity="0.8" stroke-width="2.5"/>
<circle cx="1755.0" cy="846.5" r="7.5" fill="#ADD8E6" fill-opacity="0.7" stroke="#000" stroke-opacity="0.8" stroke-width="2.5"/>
<circle cx="1761.5" cy="856.2" r="7.5" fill="#ADD8E6" fill-opacity="0.7" stroke="#000" stroke-opacity="0.8" stroke-width="2.5"/>
<circle cx="1808.3" cy="644.3" r="7.5" fill="#FF0000" fill-opacity="0.7" stroke="#000" stroke-opacity="0.8" stroke-width="2.5"/>
<circle cx="1817.2" cy="657.2" r="7.5" fill="#FF0000" fill-opacity="0.7" stroke="#000" stroke-opacity="0.8" stroke-width="2.5"/>
<circle cx="1813.9" cy="671.2" r="7.5" fill="#FF0000" fill-opacity="0.7" stroke="#000" stroke-opacity="0.8" stroke-width="2.5"/>
<circle cx="1810.0" cy="681.4" r="7.5" fill="#FF0000" fill-opacity="0.7" stroke="#000" stroke-opacity="0.8" stroke-width="2.5"/>
<circle cx="1796.0" cy="688.9" r="7.5" fill="#FF0000" fill-opacity="0.7" stroke="#000" stroke-opacity="0.8" stroke-width="2.5"/>
<circle cx="1801.4" cy="694.3" r="7.5" fill="#FF0000" fill-opacity="0.7" stroke="#000" stroke-opacity="0.8" stroke-width="2.5"/>
<circle cx="1793.8" cy="803.3" r="7.5" fill="#FF0000" fill-opacity="0.7" stroke="#000" stroke-opacity="0.8" stroke-width="2.5"/>
<circle cx="1812.2" cy="803.3" r="7.5" fill="#FF0000" fill-opacity="0.7" stroke="#000" stroke-opacity="0.8" stroke-width="2.5"/>
<circle cx="1799.2" cy="830.3" r="7.5" fill="#FF0000" fill-opacity="0.7" stroke="#000" stroke-opacity="0.8" stroke-width="2.5"/>
<circle cx="1807.4" cy="849.7" r="7.5" fill="#FF0000" fill-opacity="0.7" stroke="#000" stroke-opacity="0.8" stroke-width="2.5"/>
<circle cx="1818.7" cy="829.2" r="7.5" fill="#FF0000" fill-opacity="0.7" stroke="#000" stroke-opacity="0.8" stroke-width="2.5"/>
<circle cx="1814.3" cy="840.0" r="7.5" fill="#FF0000" fill-opacity="0.7" stroke="#000" stroke-opacity="0.8" stroke-width="2.5"/>
<circle cx="1816.5" cy="727.2" r="7.5" fill="#FF0000" fill-opacity="0.7" stroke="#000" stroke-opacity="0.8" stroke-width="2.5"/>
<circle cx="1795.4" cy="767.5" r="7.5" fill="#FF0000" fill-opacity="0.7" stroke="#000" stroke-opacity="0.8" stroke-width="2.5"/>
<circle cx="1800.4" cy="757.4" r="7.5" fill="#FF0000" fill-opacity="0.7" stroke="#000" stroke-opacity="0.8" stroke-width="2.5"/>
<circle cx="1794.9" cy="790.6" r="7.5" fill="#FF0000" fill-opacity="0.7" stroke="#000" stroke-opacity="0.8" stroke-width="2.5"/>
<circle cx="1802.8" cy="779.7" r="7.5" fill="#FF0000" fill-opacity="0.7" stroke="#000" stroke-opacity="0.8" stroke-width="2.5"/>
<circle cx="1822.4" cy="748.6" r="7.5" fill="#FF0000" fill-opacity="0.7" stroke="#000" stroke-opacity="0.8" stroke-width="2.5"/>
<circle cx="1800.9" cy="810.7" r="7.5" fill="#FF0000" fill-opacity="0.7" stroke="#000" stroke-opacity="0.8" stroke-width="2.5"/>
<circle cx="1808.0" cy="752.4" r="7.5" fill="#FF0000" fill-opacity="0.7" stroke="#000" stroke-opacity="0.8" stroke-width="2.5"/>
<circle cx="1814.3" cy="747.3" r="7.5" fill="#FF0000" fill-opacity="0.7" stroke="#000" stroke-opacity="0.8" stroke-width="2.5"/>
<circle cx="1805.5" cy="717.9" r="7.5" fill="#FF0000" fill-opacity="0.7" stroke="#000" stroke-opacity="0.8" stroke-width="2.5"/>
<circle cx="1811.6" cy="747.6" r="7.5" fill="#FF0000" fill-opacity="0.7" stroke="#000" stroke-opacity="0.8" stroke-width="2.5"/>
<circle cx="1818.4" cy="715.6" r="7.5" fill="#FF0000" fill-opacity="0.7" stroke="#000" stroke-opacity="0.8" stroke-width="2.5"/>
<circle cx="1812.9" cy="692.8" r="7.5" fill="#FF0000" fill-opacity="0.7" stroke="#000" stroke-opacity="0.8" stroke-width="2.5"/>
<circle cx="1801.8" cy="784.4" r="7.5" fill="#FF0000" fill-opacity="0.7" stroke="#000" stroke-opacity="0.8" stroke-width="2.5"/>
<circle cx="1810.0" cy="782.3" r="7.5" fill="#FF0000" fill-opacity="0.7" stroke="#000" stroke-opacity="0.8" stroke-width="2.5"/>
<circle cx="1799.0" cy="703.4" r="7.5" fill="#FF0000" fill-opacity="0.7" stroke="#000" stroke-opacity="0.8" stroke-width="2.5"/>
<circle cx="1800.4" cy="777.5" r="7.5" fill="#FF0000" fill-opacity="0.7" stroke="#000" stroke-opacity="0.8" stroke-width="2.5"/>
<circle cx="1819.5" cy="740.5" r="7.5" fill="#FF0000" fill-opacity="0.7" stroke="#000" stroke-opacity="0.8" stroke-width="2.5"/>
<circle cx="1810.3" cy="758.5" r="7.5" fill="#FF0000" fill-opacity="0.7" stroke="#000" stroke-opacity="0.8" stroke-width="2.5"/>
<circle cx="1822.8" cy="725.2" r="7.5" fill="#FF0000" fill-opacity="0.7" stroke="#000" stroke-opacity="0.8" stroke-width="2.5"/>
<circle cx="1808.2" cy="768.5" r="7.5" fill="#FF0000" fill-opacity="0.7" stroke="#000" stroke-opacity="0.8" stroke-width="2.5"/>
<circle cx="1812.6" cy="746.8" r="7.5" fill="#FF0000" fill-opacity="0.7" stroke="#000" stroke-opacity="0.8" stroke-width="2.5"/>
<circle cx="1822.7" cy="797.8" r="7.5" fill="#FF0000" fill-opacity="0.7" stroke="#000" stroke-opacity="0.8" stroke-width="2.5"/>
<circle cx="1817.6" cy="769.1" r="7.5" fill="#FF0000" fill-opacity="0.7" stroke="#000" stroke-opacity="0.8" stroke-width="2.5"/>
<circle cx="1818.2" cy="761.8" r="7.5" fill="#FF0000" fill-opacity="0.7" stroke="#000" stroke-opacity="0.8" stroke-width="2.5"/>
<circle cx="1801.8" cy="747.9" r="7.5" fill="#FF0000" fill-opacity="0.7" stroke="#000" stroke-opacity="0.8" stroke-width="2.5"/>
<circle cx="1796.6" cy="735.3" r="7.5" fill="#FF0000" fill-opacity="0.7" stroke="#000" stroke-opacity="0.8" stroke-width="2.5"/>
<circle cx="1810.5" cy="771.9" r="7.5" fill="#FF0000" fill-opacity="0.7" stroke="#000" stroke-opacity="0.8" stroke-width="2.5"/>
<circle cx="1820.9" cy="819.9" r="7.5" fill="#FF0000" fill-opacity="0.7" stroke="#000" stroke-opacity="0.8" stroke-width="2.5"/>
<circle cx="1806.5" cy="695.4" r="7.5" fill="#FF0000" fill-opacity="0.7" stroke="#000" stroke-opacity="0.8" stroke-width="2.5"/>
<circle cx="1800.8" cy="786.2" r="7.5" fill="#FF0000" fill-opacity="0.7" stroke="#000" stroke-opacity="0.8" stroke-width="2.5"/>
<circle cx="1796.2" cy="753.4" r="7.5" fill="#FF0000" fill-opacity="0.7" stroke="#000" stroke-opacity="0.8" stroke-width="2.5"/>
<circle cx="1799.5" cy="703.4" r="7.5" fill="#FF0000" fill-opacity="0.7" stroke="#000" stroke-opacity="0.8" stroke-width="2.5"/>
<circle cx="1804.1" cy="714.7" r="7.5" fill="#FF0000" fill-opacity="0.7" stroke="#000" stroke-opacity="0.8" stroke-width="2.5"/>
<circle cx="1800.6" cy="753.6" r="7.5" fill="#FF0000" fill-opacity="0.7" stroke="#000" stroke-opacity="0.8" stroke-width="2.5"/>
<circle cx="1811.0" cy="756.8" r="7.5" fill="#FF0000" fill-opacity="0.7" stroke="#000" stroke-opacity="0.8" stroke-width="2.5"/>
<circle cx="1793.3" cy="727.5" r="7.5" fill="#FF0000" fill-opacity="0.7" stroke="#000" stroke-opacity="0.8" stroke-width="2.5"/>
<circle cx="1802.8" cy="722.4" r="7.5" fill="#FF0000" fill-opacity="0.7" stroke="#000" stroke-opacity="0.8" stroke-width="2.5"/>
<circle cx="1802.4" cy="731.1" r="7.5" fill="#FF0000" fill-opacity="0.7" stroke="#000" stroke-opacity="0.8" stroke-width="2.5"/>
<circle cx="1799.1" cy="721.6" r="7.5" fill="#FF0000" fill-opacity="0.7" stroke="#000" stroke-opacity="0.8" stroke-width="2.5"/>
<circle cx="1794.9" cy="751.3" r="7.5" fill="#FF0000" fill-opacity="0.7" stroke="#000" stroke-opacity="0.8" stroke-width="2.5"/>
<circle cx="1796.0" cy="701.3" r="7.5" fill="#FF0000" fill-opacity="0.7" stroke="#000" stroke-opacity="0.8" stroke-width="2.5"/>
<circle cx="1812.2" cy="708.0" r="7.5" fill="#FF0000" fill-opacity="0.7" stroke="#000" stroke-opacity="0.8" stroke-width="2.5"/>
<circle cx="1795.7" cy="764.7" r="7.5" fill="#FF0000" fill-opacity="0.7" stroke="#000" stroke-opacity="0.8" stroke-width="2.5"/>
<circle cx="1805.3" cy="765.5" r="7.5" fill="#FF0000" fill-opacity="0.7" stroke="#000" stroke-opacity="0.8" stroke-width="2.5"/>
<circle cx="1801.5" cy="782.3" r="7.5" fill="#FF0000" fill-opacity="0.7" stroke="#000" stroke-opacity="0.8" stroke-width="2.5"/>
<circle cx="1802.4" cy="712.0" r="7.5" fill="#FF0000" fill-opacity="0.7" stroke="#000" stroke-opacity="0.8" stroke-width="2.5"/>
<circle cx="1810.0" cy="814.1" r="7.5" fill="#FF0000" fill-opacity="0.7" stroke="#000" stroke-opacity="0.8" stroke-width="2.5"/>
<circle cx="1818.9" cy="719.3" r="7.5" fill="#FF0000" fill-opacity="0.7" stroke="#000" stroke-opacity="0.8" stroke-width="2.5"/>
<circle cx="1822.9" cy="766.0" r="7.5" fill="#FF0000" fill-opacity="0.7" stroke="#000" stroke-opacity="0.8" stroke-width="2.5"/>
<circle cx="1814.8" cy="726.1" r="7.5" fill="#FF0000" fill-opacity="0.7" stroke="#000" stroke-opacity="0.8" stroke-width="2.5"/>
<circle cx="1799.1" cy="756.0" r="7.5" fill="#FF0000" fill-opacity="0.7" stroke="#000" stroke-opacity="0.8" stroke-width="2.5"/>
<circle cx="1805.7" cy="808.9" r="7.5" fill="#FF0000" fill-opacity="0.7" stroke="#000" stroke-opacity="0.8" stroke-width="2.5"/>
<circle cx="1817.6" cy="742.5" r="7.5" fill="#FF0000" fill-opacity="0.7" stroke="#000" stroke-opacity="0.8" stroke-width="2.5"/>
<circle cx="1806.8" cy="776.8" r="7.5" fill="#FF0000" fill-opacity="0.7" stroke="#000" stroke-opacity="0.8" stroke-width="2.5"/>
<circle cx="1890.5" cy="803.3" r="7.5" fill="#ADD8E6" fill-opacity="0.7" stroke="#000" stroke-opacity="0.8" stroke-width="2.5"/>
<circle cx="1905.4" cy="806.6" r="7.5" fill="#ADD8E6" fill-opacity="0.7" stroke="#000" stroke-opacity="0.8" stroke-width="2.5"/>
<circle cx="1893.1" cy="824.9" r="7.5" fill="#ADD8E6" fill-opacity="0.7" stroke="#000" stroke-opacity="0.8" stroke-width="2.5"/>
<circle cx="1898.5" cy="841.1" r="7.5" fill="#ADD8E6" fill-opacity="0.7" stroke="#000" stroke-opacity="0.8" stroke-width="2.5"/>
<circle cx="1878.7" cy="852.5" r="7.5" fill="#ADD8E6" fill-opacity="0.7" stroke="#000" stroke-opacity="0.8" stroke-width="2.5"/>
<circle cx="1891.0" cy="855.1" r="7.5" fill="#ADD8E6" fill-opacity="0.7" stroke="#000" stroke-opacity="0.8" stroke-width="2.5"/>
<circle cx="1901.8" cy="853.0" r="7.5" fill="#ADD8E6" fill-opacity="0.7" stroke="#000" stroke-opacity="0.8" stroke-width="2.5"/>
<circle cx="1897.4" cy="857.3" r="7.5" fill="#ADD8E6" fill-opacity="0.7" stroke="#000" stroke-opacity="0.8" stroke-width="2.5"/>
<circle cx="1897.4" cy="742.2" r="7.5" fill="#ADD8E6" fill-opacity="0.7" stroke="#000" stroke-opacity="0.8" stroke-width="2.5"/>
<circle cx="1931.3" cy="699.7" r="7.5" fill="#FF0000" fill-opacity="0.7" stroke="#000" stroke-opacity="0.8" stroke-width="2.5"/>
<circle cx="1944.9" cy="708.4" r="7.5" fill="#FF0000" fill-opacity="0.7" stroke="#000" stroke-opacity="0.8" stroke-width="2.5"/>
<circle cx="1932.0" cy="793.6" r="7.5" fill="#FF0000" fill-opacity="0.7" stroke="#000" stroke-opacity="0.8" stroke-width="2.5"/>
<circle cx="1946.0" cy="788.2" r="7.5" fill="#FF0000" fill-opacity="0.7" stroke="#000" stroke-opacity="0.8" stroke-width="2.5"/>
<circle cx="1929.8" cy="804.4" r="7.5" fill="#FF0000" fill-opacity="0.7" stroke="#000" stroke-opacity="0.8" stroke-width="2.5"/>
<circle cx="1947.1" cy="799.0" r="7.5" fill="#FF0000" fill-opacity="0.7" stroke="#000" stroke-opacity="0.8" stroke-width="2.5"/>
<circle cx="1935.2" cy="818.4" r="7.5" fill="#FF0000" fill-opacity="0.7" stroke="#000" stroke-opacity="0.8" stroke-width="2.5"/>
<circle cx="1932.0" cy="822.8" r="7.5" fill="#FF0000" fill-opacity="0.7" stroke="#000" stroke-opacity="0.8" stroke-width="2.5"/>
<circle cx="1944.2" cy="750.3" r="7.5" fill="#FF0000" fill-opacity="0.7" stroke="#000" stroke-opacity="0.8" stroke-width="2.5"/>
<circle cx="1946.7" cy="751.8" r="7.5" fill="#FF0000" fill-opacity="0.7" stroke="#000" stroke-opacity="0.8" stroke-width="2.5"/>
<circle cx="1946.2" cy="757.5" r="7.5" fill="#FF0000" fill-opacity="0.7" stroke="#000" stroke-opacity="0.8" stroke-width="2.5"/>
<circle cx="1939.2" cy="742.0" r="7.5" fill="#FF0000" fill-opacity="0.7" stroke="#000" stroke-opacity="0.8" stroke-width="2.5"/>
<circle cx="1936.7" cy="733.4" r="7.5" fill="#FF0000" fill-opacity="0.7" stroke="#000" stroke-opacity="0.8" stroke-width="2.5"/>
<circle cx="1943.4" cy="747.6" r="7.5" fill="#FF0000" fill-opacity="0.7" stroke="#000" stroke-opacity="0.8" stroke-width="2.5"/>
<circle cx="1942.5" cy="759.1" r="7.5" fill="#FF0000" fill-opacity="0.7" stroke="#000" stroke-opacity="0.8" stroke-width="2.5"/>
<circle cx="1951.3" cy="742.4" r="7.5" fill="#FF0000" fill-opacity="0.7" stroke="#000" stroke-opacity="0.8" stroke-width="2.5"/>
<circle cx="1932.3" cy="764.9" r="7.5" fill="#FF0000" fill-opacity="0.7" stroke="#000" stroke-opacity="0.8" stroke-width="2.5"/>
<circle cx="1955.2" cy="744.4" r="7.5" fill="#FF0000" fill-opacity="0.7" stroke="#000" stroke-opacity="0.8" stroke-width="2.5"/>
<circle cx="1930.3" cy="777.5" r="7.5" fill="#FF0000" fill-opacity="0.7" stroke="#000" stroke-opacity="0.8" stroke-width="2.5"/>
<circle cx="1954.7" cy="743.4" r="7.5" fill="#FF0000" fill-opacity="0.7" stroke="#000" stroke-opacity="0.8" stroke-width="2.5"/>
<circle cx="1946.2" cy="705.1" r="7.5" fill="#FF0000" fill-opacity="0.7" stroke="#000" stroke-opacity="0.8" stroke-width="2.5"/>
<circle cx="1951.9" cy="784.5" r="7.5" fill="#FF0000" fill-opacity="0.7" stroke="#000" stroke-opacity="0.8" stroke-width="2.5"/>
<circle cx="1935.0" cy="772.4" r="7.5" fill="#FF0000" fill-opacity="0.7" stroke="#000" stroke-opacity="0.8" stroke-width="2.5"/>
<circle cx="1940.1" cy="786.6" r="7.5" fill="#FF0000" fill-opacity="0.7" stroke="#000" stroke-opacity="0.8" stroke-width="2.5"/>
<circle cx="1933.9" cy="775.8" r="7.5" fill="#FF0000" fill-opacity="0.7" stroke="#000" stroke-opacity="0.8" stroke-width="2.5"/>
<circle cx="1934.9" cy="707.8" r="7.5" fill="#FF0000" fill-opacity="0.7" stroke="#000" stroke-opacity="0.8" stroke-width="2.5"/>
<circle cx="1939.5" cy="722.6" r="7.5" fill="#FF0000" fill-opacity="0.7" stroke="#000" stroke-opacity="0.8" stroke-width="2.5"/>
<circle cx="1932.2" cy="766.5" r="7.5" fill="#FF0000" fill-opacity="0.7" stroke="#000" stroke-opacity="0.8" stroke-width="2.5"/>
<circle cx="1953.9" cy="748.8" r="7.5" fill="#FF0000" fill-opacity="0.7" stroke="#000" stroke-opacity="0.8" stroke-width="2.5"/>
<circle cx="1930.0" cy="789.8" r="7.5" fill="#FF0000" fill-opacity="0.7" stroke="#000" stroke-opacity="0.8" stroke-width="2.5"/>
<circle cx="1929.9" cy="707.6" r="7.5" fill="#FF0000" fill-opacity="0.7" stroke="#000" stroke-opacity="0.8" stroke-width="2.5"/>
<circle cx="1952.3" cy="731.3" r="7.5" fill="#FF0000" fill-opacity="0.7" stroke="#000" stroke-opacity="0.8" stroke-width="2.5"/>
<circle cx="1944.2" cy="774.0" r="7.5" fill="#FF0000" fill-opacity="0.7" stroke="#000" stroke-opacity="0.8" stroke-width="2.5"/>
<circle cx="1946.4" cy="771.7" r="7.5" fill="#FF0000" fill-opacity="0.7" stroke="#000" stroke-opacity="0.8" stroke-width="2.5"/>
<circle cx="1945.1" cy="738.6" r="7.5" fill="#FF0000" fill-opacity="0.7" stroke="#000" stroke-opacity="0.8" stroke-width="2.5"/>
<circle cx="1940.7" cy="773.5" r="7.5" fill="#FF0000" fill-opacity="0.7" stroke="#000" stroke-opacity="0.8" stroke-width="2.5"/>
<circle cx="1941.1" cy="732.7" r="7.5" fill="#FF0000" fill-opacity="0.7" stroke="#000" stroke-opacity="0.8" stroke-width="2.5"/>
<circle cx="1929.5" cy="724.2" r="7.5" fill="#FF0000" fill-opacity="0.7" stroke="#000" stroke-opacity="0.8" stroke-width="2.5"/>
<circle cx="1935.4" cy="725.9" r="7.5" fill="#FF0000" fill-opacity="0.7" stroke="#000" stroke-opacity="0.8" stroke-width="2.5"/>
<circle cx="1950.2" cy="727.5" r="7.5" fill="#FF0000" fill-opacity="0.7" stroke="#000" stroke-opacity="0.8" stroke-width="2.5"/>
<circle cx="1933.8" cy="753.4" r="7.5" fill="#FF0000" fill-opacity="0.7" stroke="#000" stroke-opacity="0.8" stroke-width="2.5"/>
<circle cx="1942.1" cy="719.7" r="7.5" fill="#FF0000" fill-opacity="0.7" stroke="#000" stroke-opacity="0.8" stroke-width="2.5"/>
<circle cx="1940.9" cy="758.7" r="7.5" fill="#FF0000" fill-opacity="0.7" stroke="#000" stroke-opacity="0.8" stroke-width="2.5"/>
<circle cx="1931.4" cy="756.5" r="7.5" fill="#FF0000" fill-opacity="0.7" stroke="#000" stroke-opacity="0.8" stroke-width="2.5"/>
<circle cx="1929.9" cy="719.0" r="7.5" fill="#FF0000" fill-opacity="0.7" stroke="#000" stroke-opacity="0.8" stroke-width="2.5"/>
<circle cx="1946.6" cy="759.1" r="7.5" fill="#FF0000" fill-opacity="0.7" stroke="#000" stroke-opacity="0.8" stroke-width="2.5"/>
<circle cx="1950.6" cy="784.8" r="7.5" fill="#FF0000" fill-opacity="0.7" stroke="#000" stroke-opacity="0.8" stroke-width="2.5"/>
<circle cx="1943.1" cy="768.9" r="7.5" fill="#FF0000" fill-opacity="0.7" stroke="#000" stroke-opacity="0.8" stroke-width="2.5"/>
<circle cx="1939.4" cy="777.0" r="7.5" fill="#FF0000" fill-opacity="0.7" stroke="#000" stroke-opacity="0.8" stroke-width="2.5"/>
<circle cx="1955.4" cy="758.3" r="7.5" fill="#FF0000" fill-opacity="0.7" stroke="#000" stroke-opacity="0.8" stroke-width="2.5"/>
<circle cx="1956.7" cy="781.6" r="7.5" fill="#FF0000" fill-opacity="0.7" stroke="#000" stroke-opacity="0.8" stroke-width="2.5"/>
<circle cx="1949.3" cy="786.7" r="7.5" fill="#FF0000" fill-opacity="0.7" stroke="#000" stroke-opacity="0.8" stroke-width="2.5"/>
<circle cx="1956.3" cy="754.8" r="7.5" fill="#FF0000" fill-opacity="0.7" stroke="#000" stroke-opacity="0.8" stroke-width="2.5"/>
<circle cx="1942.6" cy="732.3" r="7.5" fill="#FF0000" fill-opacity="0.7" stroke="#000" stroke-opacity="0.8" stroke-width="2.5"/>
<circle cx="1933.4" cy="732.4" r="7.5" fill="#FF0000" fill-opacity="0.7" stroke="#000" stroke-opacity="0.8" stroke-width="2.5"/>
<circle cx="1930.6" cy="762.3" r="7.5" fill="#FF0000" fill-opacity="0.7" stroke="#000" stroke-opacity="0.8" stroke-width="2.5"/>
<circle cx="1933.2" cy="722.1" r="7.5" fill="#FF0000" fill-opacity="0.7" stroke="#000" stroke-opacity="0.8" stroke-width="2.5"/>
<circle cx="1953.9" cy="783.2" r="7.5" fill="#FF0000" fill-opacity="0.7" stroke="#000" stroke-opacity="0.8" stroke-width="2.5"/>
</g>
<line x1="1152.30" y1="543.70" x2="1164.10" y2="543.70" stroke="#333333" stroke-width="4.4" />
<text x="1142.30" y="552.80" font-size="24.9" fill="#4D4D4D" text-anchor="end" >100000</text>
<line x1="1152.30" y1="604.00" x2="1164.10" y2="604.00" stroke="#333333" stroke-width="4.4" />
<text x="1142.30" y="613.10" font-size="24.9" fill="#4D4D4D" text-anchor="end" >10000</text>
<line x1="1152.30" y1="664.40" x2="1164.10" y2="664.40" stroke="#333333" stroke-width="4.4" />
<text x="1142.30" y="673.50" font-size="24.9" fill="#4D4D4D" text-anchor="end" >1000</text>
<line x1="1152.30" y1="724.70" x2="1164.10" y2="724.70" stroke="#333333" stroke-width="4.4" />
<text x="1142.30" y="733.80" font-size="24.9" fill="#4D4D4D" text-anchor="end" >100</text>
<line x1="1152.30" y1="785.00" x2="1164.10" y2="785.00" stroke="#333333" stroke-width="4.4" />
<text x="1142.30" y="794.10" font-size="24.9" fill="#4D4D4D" text-anchor="end" >10</text>
<line x1="1152.30" y1="838.70" x2="1164.10" y2="838.70" stroke="#333333" stroke-width="4.4" />
<text x="1142.30" y="847.80" font-size="24.9" fill="#4D4D4D" text-anchor="end" >1</text>
<line x1="1244.60" y1="873.50" x2="1244.60" y2="884.80" stroke="#333333" stroke-width="4.6" />
<text x="1244.60" y="912.50" font-size="24.9" fill="#000" text-anchor="middle" >ID50</text>
<line x1="1379.20" y1="873.50" x2="1379.20" y2="884.80" stroke="#333333" stroke-width="4.6" />
<text x="1379.20" y="912.50" font-size="24.9" fill="#000" text-anchor="middle" >OC43</text>
<text x="1379.20" y="939.70" font-size="24.9" fill="#000" text-anchor="middle" >S2</text>
<line x1="1513.80" y1="873.50" x2="1513.80" y2="884.80" stroke="#333333" stroke-width="4.6" />
<text x="1513.80" y="912.50" font-size="24.9" fill="#000" text-anchor="middle" >HKU1</text>
<text x="1513.80" y="939.70" font-size="24.9" fill="#000" text-anchor="middle" >S2</text>
<line x1="1648.40" y1="873.50" x2="1648.40" y2="884.80" stroke="#333333" stroke-width="4.6" />
<text x="1648.40" y="912.50" font-size="24.9" fill="#000" text-anchor="middle" >SARS-2</text>
<text x="1648.40" y="939.70" font-size="24.9" fill="#000" text-anchor="middle" >RBD</text>
<line x1="1783.00" y1="873.50" x2="1783.00" y2="884.80" stroke="#333333" stroke-width="4.6" />
<text x="1783.00" y="912.50" font-size="24.9" fill="#000" text-anchor="middle" >SARS-2</text>
<text x="1783.00" y="939.70" font-size="24.9" fill="#000" text-anchor="middle" >S2</text>
<line x1="1917.60" y1="873.50" x2="1917.60" y2="884.80" stroke="#333333" stroke-width="4.6" />
<text x="1917.60" y="912.50" font-size="24.9" fill="#000" text-anchor="middle" >SARS-2</text>
<text x="1917.60" y="939.70" font-size="24.9" fill="#000" text-anchor="middle" >S1+S2</text>
<text x="-1.70" y="1091.70" font-size="67" fill="#000" text-anchor="start" font-weight="bold" >c</text>
<text x="194.80" y="1081.00" font-size="33.5" fill="#000" text-anchor="start" >HKU1 S2 IgG</text>
<circle cx="450.3" cy="1069.2" r="15.3" fill="#F2000F" fill-opacity="0.6" stroke="#000" stroke-opacity="0.75" stroke-width="2.8"/>
<text x="504.30" y="1081.00" font-size="33.5" fill="#000" text-anchor="start" >Low</text>
<circle cx="617.7" cy="1069.2" r="15.3" fill="#00F014" fill-opacity="0.6" stroke="#000" stroke-opacity="0.75" stroke-width="2.8"/>
<text x="670.90" y="1081.00" font-size="33.5" fill="#000" text-anchor="start" >Medium</text>
<circle cx="843.1" cy="1069.2" r="15.3" fill="#0D67EE" fill-opacity="0.6" stroke="#000" stroke-opacity="0.75" stroke-width="2.8"/>
<text x="897.50" y="1081.00" font-size="33.5" fill="#000" text-anchor="start" >High</text>
<text x="32.50" y="1520.00" font-size="33.5" fill="#000" text-anchor="middle" transform="rotate(-90 32.50 1520.00)" >ID50</text>
<rect x="169.20" y="1104.50" width="820.50" height="64.10" fill="#D9D9D9" />
<text x="579.45" y="1147.90" font-size="29.3" fill="#1A1A1A" text-anchor="middle" >in-hospital sample nAb negative</text>
<clipPath id="c13"><rect x="169.20" y="1168.60" width="820.50" height="307.90"/></clipPath><g clip-path="url(#c13)">
<line x1="169.20" y1="1227.89" x2="989.70" y2="1227.89" stroke="#EBEBEB" stroke-width="2.2" />
<line x1="169.20" y1="1219.20" x2="989.70" y2="1219.20" stroke="#EBEBEB" stroke-width="2.2" />
<line x1="169.20" y1="1213.04" x2="989.70" y2="1213.04" stroke="#EBEBEB" stroke-width="2.2" />
<line x1="169.20" y1="1208.26" x2="989.70" y2="1208.26" stroke="#EBEBEB" stroke-width="2.2" />
<line x1="169.20" y1="1204.35" x2="989.70" y2="1204.35" stroke="#EBEBEB" stroke-width="2.2" />
<line x1="169.20" y1="1201.04" x2="989.70" y2="1201.04" stroke="#EBEBEB" stroke-width="2.2" />
<line x1="169.20" y1="1198.18" x2="989.70" y2="1198.18" stroke="#EBEBEB" stroke-width="2.2" />
<line x1="169.20" y1="1195.66" x2="989.70" y2="1195.66" stroke="#EBEBEB" stroke-width="2.2" />
<line x1="169.20" y1="1277.24" x2="989.70" y2="1277.24" stroke="#EBEBEB" stroke-width="2.2" />
<line x1="169.20" y1="1268.55" x2="989.70" y2="1268.55" stroke="#EBEBEB" stroke-width="2.2" />
<line x1="169.20" y1="1262.39" x2="989.70" y2="1262.39" stroke="#EBEBEB" stroke-width="2.2" />
<line x1="169.20" y1="1257.61" x2="989.70" y2="1257.61" stroke="#EBEBEB" stroke-width="2.2" />
<line x1="169.20" y1="1253.70" x2="989.70" y2="1253.70" stroke="#EBEBEB" stroke-width="2.2" />
<line x1="169.20" y1="1250.39" x2="989.70" y2="1250.39" stroke="#EBEBEB" stroke-width="2.2" />
<line x1="169.20" y1="1247.53" x2="989.70" y2="1247.53" stroke="#EBEBEB" stroke-width="2.2" />
<line x1="169.20" y1="1245.01" x2="989.70" y2="1245.01" stroke="#EBEBEB" stroke-width="2.2" />
<line x1="169.20" y1="1326.59" x2="989.70" y2="1326.59" stroke="#EBEBEB" stroke-width="2.2" />
<line x1="169.20" y1="1317.90" x2="989.70" y2="1317.90" stroke="#EBEBEB" stroke-width="2.2" />
<line x1="169.20" y1="1311.74" x2="989.70" y2="1311.74" stroke="#EBEBEB" stroke-width="2.2" />
<line x1="169.20" y1="1306.96" x2="989.70" y2="1306.96" stroke="#EBEBEB" stroke-width="2.2" />
<line x1="169.20" y1="1303.05" x2="989.70" y2="1303.05" stroke="#EBEBEB" stroke-width="2.2" />
<line x1="169.20" y1="1299.74" x2="989.70" y2="1299.74" stroke="#EBEBEB" stroke-width="2.2" />
<line x1="169.20" y1="1296.88" x2="989.70" y2="1296.88" stroke="#EBEBEB" stroke-width="2.2" />
<line x1="169.20" y1="1294.36" x2="989.70" y2="1294.36" stroke="#EBEBEB" stroke-width="2.2" />
<line x1="169.20" y1="1375.94" x2="989.70" y2="1375.94" stroke="#EBEBEB" stroke-width="2.2" />
<line x1="169.20" y1="1367.25" x2="989.70" y2="1367.25" stroke="#EBEBEB" stroke-width="2.2" />
<line x1="169.20" y1="1361.09" x2="989.70" y2="1361.09" stroke="#EBEBEB" stroke-width="2.2" />
<line x1="169.20" y1="1356.31" x2="989.70" y2="1356.31" stroke="#EBEBEB" stroke-width="2.2" />
<line x1="169.20" y1="1352.40" x2="989.70" y2="1352.40" stroke="#EBEBEB" stroke-width="2.2" />
<line x1="169.20" y1="1349.09" x2="989.70" y2="1349.09" stroke="#EBEBEB" stroke-width="2.2" />
<line x1="169.20" y1="1346.23" x2="989.70" y2="1346.23" stroke="#EBEBEB" stroke-width="2.2" />
<line x1="169.20" y1="1343.71" x2="989.70" y2="1343.71" stroke="#EBEBEB" stroke-width="2.2" />
<line x1="169.20" y1="1425.29" x2="989.70" y2="1425.29" stroke="#EBEBEB" stroke-width="2.2" />
<line x1="169.20" y1="1416.60" x2="989.70" y2="1416.60" stroke="#EBEBEB" stroke-width="2.2" />
<line x1="169.20" y1="1410.44" x2="989.70" y2="1410.44" stroke="#EBEBEB" stroke-width="2.2" />
<line x1="169.20" y1="1405.66" x2="989.70" y2="1405.66" stroke="#EBEBEB" stroke-width="2.2" />
<line x1="169.20" y1="1401.75" x2="989.70" y2="1401.75" stroke="#EBEBEB" stroke-width="2.2" />
<line x1="169.20" y1="1398.44" x2="989.70" y2="1398.44" stroke="#EBEBEB" stroke-width="2.2" />
<line x1="169.20" y1="1395.58" x2="989.70" y2="1395.58" stroke="#EBEBEB" stroke-width="2.2" />
<line x1="169.20" y1="1393.06" x2="989.70" y2="1393.06" stroke="#EBEBEB" stroke-width="2.2" />
<line x1="169.20" y1="1474.64" x2="989.70" y2="1474.64" stroke="#EBEBEB" stroke-width="2.2" />
<line x1="169.20" y1="1465.95" x2="989.70" y2="1465.95" stroke="#EBEBEB" stroke-width="2.2" />
<line x1="169.20" y1="1459.79" x2="989.70" y2="1459.79" stroke="#EBEBEB" stroke-width="2.2" />
<line x1="169.20" y1="1455.01" x2="989.70" y2="1455.01" stroke="#EBEBEB" stroke-width="2.2" />
<line x1="169.20" y1="1451.10" x2="989.70" y2="1451.10" stroke="#EBEBEB" stroke-width="2.2" />
<line x1="169.20" y1="1447.79" x2="989.70" y2="1447.79" stroke="#EBEBEB" stroke-width="2.2" />
<line x1="169.20" y1="1444.93" x2="989.70" y2="1444.93" stroke="#EBEBEB" stroke-width="2.2" />
<line x1="169.20" y1="1442.41" x2="989.70" y2="1442.41" stroke="#EBEBEB" stroke-width="2.2" />
<line x1="283.46" y1="1168.60" x2="283.46" y2="1476.50" stroke="#EBEBEB" stroke-width="2.3" />
<line x1="443.49" y1="1168.60" x2="443.49" y2="1476.50" stroke="#EBEBEB" stroke-width="2.3" />
<line x1="603.51" y1="1168.60" x2="603.51" y2="1476.50" stroke="#EBEBEB" stroke-width="2.3" />
<line x1="763.54" y1="1168.60" x2="763.54" y2="1476.50" stroke="#EBEBEB" stroke-width="2.3" />
<line x1="923.56" y1="1168.60" x2="923.56" y2="1476.50" stroke="#EBEBEB" stroke-width="2.3" />
<line x1="169.20" y1="1193.40" x2="989.70" y2="1193.40" stroke="#BEBEBE" stroke-width="4.7" />
<line x1="169.20" y1="1242.75" x2="989.70" y2="1242.75" stroke="#BEBEBE" stroke-width="4.7" />
<line x1="169.20" y1="1292.10" x2="989.70" y2="1292.10" stroke="#BEBEBE" stroke-width="4.7" />
<line x1="169.20" y1="1341.45" x2="989.70" y2="1341.45" stroke="#BEBEBE" stroke-width="4.7" />
<line x1="169.20" y1="1390.80" x2="989.70" y2="1390.80" stroke="#BEBEBE" stroke-width="4.7" />
<line x1="169.20" y1="1440.15" x2="989.70" y2="1440.15" stroke="#BEBEBE" stroke-width="4.7" />
<line x1="203.45" y1="1168.60" x2="203.45" y2="1476.50" stroke="#BEBEBE" stroke-width="4.7" />
<line x1="363.48" y1="1168.60" x2="363.48" y2="1476.50" stroke="#BEBEBE" stroke-width="4.7" />
<line x1="523.50" y1="1168.60" x2="523.50" y2="1476.50" stroke="#BEBEBE" stroke-width="4.7" />
<line x1="683.52" y1="1168.60" x2="683.52" y2="1476.50" stroke="#BEBEBE" stroke-width="4.7" />
<line x1="843.55" y1="1168.60" x2="843.55" y2="1476.50" stroke="#BEBEBE" stroke-width="4.7" />
<circle cx="206.7" cy="1440.1" r="7.1" fill="#F2000F" fill-opacity="0.6" stroke="#000" stroke-opacity="0.82" stroke-width="2.8"/>
<circle cx="206.7" cy="1440.1" r="7.1" fill="#00F014" fill-opacity="0.6" stroke="#000" stroke-opacity="0.82" stroke-width="2.8"/>
<circle cx="206.7" cy="1440.1" r="7.1" fill="#00F014" fill-opacity="0.6" stroke="#000" stroke-opacity="0.82" stroke-width="2.8"/>
<circle cx="209.9" cy="1440.1" r="7.1" fill="#00F014" fill-opacity="0.6" stroke="#000" stroke-opacity="0.82" stroke-width="2.8"/>
<circle cx="209.9" cy="1440.1" r="7.1" fill="#F2000F" fill-opacity="0.6" stroke="#000" stroke-opacity="0.82" stroke-width="2.8"/>
<circle cx="209.9" cy="1440.1" r="7.1" fill="#F2000F" fill-opacity="0.6" stroke="#000" stroke-opacity="0.82" stroke-width="2.8"/>
<circle cx="213.1" cy="1440.1" r="7.1" fill="#00F014" fill-opacity="0.6" stroke="#000" stroke-opacity="0.82" stroke-width="2.8"/>
<circle cx="213.1" cy="1440.1" r="7.1" fill="#0D67EE" fill-opacity="0.6" stroke="#000" stroke-opacity="0.82" stroke-width="2.8"/>
<circle cx="213.1" cy="1440.1" r="7.1" fill="#0D67EE" fill-opacity="0.6" stroke="#000" stroke-opacity="0.82" stroke-width="2.8"/>
<circle cx="216.3" cy="1440.1" r="7.1" fill="#F2000F" fill-opacity="0.6" stroke="#000" stroke-opacity="0.82" stroke-width="2.8"/>
<circle cx="216.3" cy="1440.1" r="7.1" fill="#00F014" fill-opacity="0.6" stroke="#000" stroke-opacity="0.82" stroke-width="2.8"/>
<circle cx="216.3" cy="1440.1" r="7.1" fill="#0D67EE" fill-opacity="0.6" stroke="#000" stroke-opacity="0.82" stroke-width="2.8"/>
<circle cx="219.5" cy="1440.1" r="7.1" fill="#F2000F" fill-opacity="0.6" stroke="#000" stroke-opacity="0.82" stroke-width="2.8"/>
<circle cx="219.5" cy="1440.1" r="7.1" fill="#00F014" fill-opacity="0.6" stroke="#000" stroke-opacity="0.82" stroke-width="2.8"/>
<circle cx="219.5" cy="1440.1" r="7.1" fill="#00F014" fill-opacity="0.6" stroke="#000" stroke-opacity="0.82" stroke-width="2.8"/>
<circle cx="222.7" cy="1440.1" r="7.1" fill="#0D67EE" fill-opacity="0.6" stroke="#000" stroke-opacity="0.82" stroke-width="2.8"/>
<circle cx="222.7" cy="1440.1" r="7.1" fill="#00F014" fill-opacity="0.6" stroke="#000" stroke-opacity="0.82" stroke-width="2.8"/>
<circle cx="222.7" cy="1440.1" r="7.1" fill="#00F014" fill-opacity="0.6" stroke="#000" stroke-opacity="0.82" stroke-width="2.8"/>
<circle cx="225.9" cy="1440.1" r="7.1" fill="#00F014" fill-opacity="0.6" stroke="#000" stroke-opacity="0.82" stroke-width="2.8"/>
<circle cx="225.9" cy="1440.1" r="7.1" fill="#00F014" fill-opacity="0.6" stroke="#000" stroke-opacity="0.82" stroke-width="2.8"/>
<circle cx="229.1" cy="1440.1" r="7.1" fill="#F2000F" fill-opacity="0.6" stroke="#000" stroke-opacity="0.82" stroke-width="2.8"/>
<circle cx="229.1" cy="1440.1" r="7.1" fill="#00F014" fill-opacity="0.6" stroke="#000" stroke-opacity="0.82" stroke-width="2.8"/>
<circle cx="229.1" cy="1440.1" r="7.1" fill="#0D67EE" fill-opacity="0.6" stroke="#000" stroke-opacity="0.82" stroke-width="2.8"/>
<circle cx="232.3" cy="1440.1" r="7.1" fill="#00F014" fill-opacity="0.6" stroke="#000" stroke-opacity="0.82" stroke-width="2.8"/>
<circle cx="232.3" cy="1440.1" r="7.1" fill="#0D67EE" fill-opacity="0.6" stroke="#000" stroke-opacity="0.82" stroke-width="2.8"/>
<circle cx="235.5" cy="1440.1" r="7.1" fill="#00F014" fill-opacity="0.6" stroke="#000" stroke-opacity="0.82" stroke-width="2.8"/>
<circle cx="235.5" cy="1440.1" r="7.1" fill="#F2000F" fill-opacity="0.6" stroke="#000" stroke-opacity="0.82" stroke-width="2.8"/>
<circle cx="235.5" cy="1440.1" r="7.1" fill="#F2000F" fill-opacity="0.6" stroke="#000" stroke-opacity="0.82" stroke-width="2.8"/>
<circle cx="238.7" cy="1440.1" r="7.1" fill="#00F014" fill-opacity="0.6" stroke="#000" stroke-opacity="0.82" stroke-width="2.8"/>
<circle cx="238.7" cy="1440.1" r="7.1" fill="#F2000F" fill-opacity="0.6" stroke="#000" stroke-opacity="0.82" stroke-width="2.8"/>
<circle cx="241.9" cy="1440.1" r="7.1" fill="#00F014" fill-opacity="0.6" stroke="#000" stroke-opacity="0.82" stroke-width="2.8"/>
<circle cx="241.9" cy="1440.1" r="7.1" fill="#F2000F" fill-opacity="0.6" stroke="#000" stroke-opacity="0.82" stroke-width="2.8"/>
<circle cx="245.1" cy="1440.1" r="7.1" fill="#00F014" fill-opacity="0.6" stroke="#000" stroke-opacity="0.82" stroke-width="2.8"/>
<circle cx="245.1" cy="1440.1" r="7.1" fill="#F2000F" fill-opacity="0.6" stroke="#000" stroke-opacity="0.82" stroke-width="2.8"/>
<circle cx="248.3" cy="1440.1" r="7.1" fill="#F2000F" fill-opacity="0.6" stroke="#000" stroke-opacity="0.82" stroke-width="2.8"/>
<circle cx="248.3" cy="1440.1" r="7.1" fill="#00F014" fill-opacity="0.6" stroke="#000" stroke-opacity="0.82" stroke-width="2.8"/>
<circle cx="251.5" cy="1440.1" r="7.1" fill="#00F014" fill-opacity="0.6" stroke="#000" stroke-opacity="0.82" stroke-width="2.8"/>
<circle cx="254.7" cy="1440.1" r="7.1" fill="#F2000F" fill-opacity="0.6" stroke="#000" stroke-opacity="0.82" stroke-width="2.8"/>
<circle cx="254.7" cy="1440.1" r="7.1" fill="#00F014" fill-opacity="0.6" stroke="#000" stroke-opacity="0.82" stroke-width="2.8"/>
<circle cx="261.1" cy="1440.1" r="7.1" fill="#00F014" fill-opacity="0.6" stroke="#000" stroke-opacity="0.82" stroke-width="2.8"/>
<circle cx="261.1" cy="1440.1" r="7.1" fill="#00F014" fill-opacity="0.6" stroke="#000" stroke-opacity="0.82" stroke-width="2.8"/>
<circle cx="267.5" cy="1440.1" r="7.1" fill="#F2000F" fill-opacity="0.6" stroke="#000" stroke-opacity="0.82" stroke-width="2.8"/>
<circle cx="273.9" cy="1440.1" r="7.1" fill="#00F014" fill-opacity="0.6" stroke="#000" stroke-opacity="0.82" stroke-width="2.8"/>
<circle cx="273.9" cy="1440.1" r="7.1" fill="#00F014" fill-opacity="0.6" stroke="#000" stroke-opacity="0.82" stroke-width="2.8"/>
<circle cx="312.4" cy="1270.0" r="7.1" fill="#F2000F" fill-opacity="0.6" stroke="#000" stroke-opacity="0.82" stroke-width="2.8"/>
<circle cx="337.6" cy="1280.8" r="7.1" fill="#F2000F" fill-opacity="0.6" stroke="#000" stroke-opacity="0.82" stroke-width="2.8"/>
<circle cx="398.5" cy="1287.7" r="7.1" fill="#F2000F" fill-opacity="0.6" stroke="#000" stroke-opacity="0.82" stroke-width="2.8"/>
<circle cx="363.3" cy="1303.1" r="7.1" fill="#F2000F" fill-opacity="0.6" stroke="#000" stroke-opacity="0.82" stroke-width="2.8"/>
<circle cx="293.1" cy="1314.2" r="7.1" fill="#F2000F" fill-opacity="0.6" stroke="#000" stroke-opacity="0.82" stroke-width="2.8"/>
<circle cx="321.6" cy="1314.2" r="7.1" fill="#F2000F" fill-opacity="0.6" stroke="#000" stroke-opacity="0.82" stroke-width="2.8"/>
<circle cx="376.1" cy="1364.8" r="7.1" fill="#F2000F" fill-opacity="0.6" stroke="#000" stroke-opacity="0.82" stroke-width="2.8"/>
<circle cx="397.2" cy="1361.2" r="7.1" fill="#F2000F" fill-opacity="0.6" stroke="#000" stroke-opacity="0.82" stroke-width="2.8"/>
<circle cx="481.4" cy="1359.9" r="7.1" fill="#F2000F" fill-opacity="0.6" stroke="#000" stroke-opacity="0.82" stroke-width="2.8"/>
<circle cx="497.4" cy="1353.5" r="7.1" fill="#F2000F" fill-opacity="0.6" stroke="#000" stroke-opacity="0.82" stroke-width="2.8"/>
<circle cx="520.0" cy="1337.3" r="7.1" fill="#F2000F" fill-opacity="0.6" stroke="#000" stroke-opacity="0.82" stroke-width="2.8"/>
<circle cx="574.5" cy="1339.3" r="7.1" fill="#F2000F" fill-opacity="0.6" stroke="#000" stroke-opacity="0.82" stroke-width="2.8"/>
<circle cx="587.6" cy="1305.7" r="7.1" fill="#F2000F" fill-opacity="0.6" stroke="#000" stroke-opacity="0.82" stroke-width="2.8"/>
<circle cx="561.9" cy="1382.3" r="7.1" fill="#F2000F" fill-opacity="0.6" stroke="#000" stroke-opacity="0.82" stroke-width="2.8"/>
<circle cx="584.2" cy="1385.3" r="7.1" fill="#F2000F" fill-opacity="0.6" stroke="#000" stroke-opacity="0.82" stroke-width="2.8"/>
<circle cx="337.6" cy="1440.1" r="7.1" fill="#F2000F" fill-opacity="0.6" stroke="#000" stroke-opacity="0.82" stroke-width="2.8"/>
<circle cx="491.2" cy="1440.1" r="7.1" fill="#F2000F" fill-opacity="0.6" stroke="#000" stroke-opacity="0.82" stroke-width="2.8"/>
<circle cx="523.3" cy="1440.1" r="7.1" fill="#F2000F" fill-opacity="0.6" stroke="#000" stroke-opacity="0.82" stroke-width="2.8"/>
<circle cx="340.6" cy="1301.8" r="7.1" fill="#0D67EE" fill-opacity="0.6" stroke="#000" stroke-opacity="0.82" stroke-width="2.8"/>
<circle cx="520.0" cy="1347.6" r="7.1" fill="#0D67EE" fill-opacity="0.6" stroke="#000" stroke-opacity="0.82" stroke-width="2.8"/>
<circle cx="325.2" cy="1440.1" r="7.1" fill="#0D67EE" fill-opacity="0.6" stroke="#000" stroke-opacity="0.82" stroke-width="2.8"/>
<circle cx="299.5" cy="1323.7" r="7.1" fill="#00F014" fill-opacity="0.6" stroke="#000" stroke-opacity="0.82" stroke-width="2.8"/>
<circle cx="347.3" cy="1319.3" r="7.1" fill="#00F014" fill-opacity="0.6" stroke="#000" stroke-opacity="0.82" stroke-width="2.8"/>
<circle cx="366.6" cy="1352.7" r="7.1" fill="#00F014" fill-opacity="0.6" stroke="#000" stroke-opacity="0.82" stroke-width="2.8"/>
<circle cx="401.8" cy="1357.1" r="7.1" fill="#00F014" fill-opacity="0.6" stroke="#000" stroke-opacity="0.82" stroke-width="2.8"/>
<circle cx="491.2" cy="1344.5" r="7.1" fill="#00F014" fill-opacity="0.6" stroke="#000" stroke-opacity="0.82" stroke-width="2.8"/>
<circle cx="536.2" cy="1352.7" r="7.1" fill="#00F014" fill-opacity="0.6" stroke="#000" stroke-opacity="0.82" stroke-width="2.8"/>
<circle cx="824.5" cy="1357.9" r="7.1" fill="#00F014" fill-opacity="0.6" stroke="#000" stroke-opacity="0.82" stroke-width="2.8"/>
<circle cx="917.2" cy="1368.2" r="7.1" fill="#00F014" fill-opacity="0.6" stroke="#000" stroke-opacity="0.82" stroke-width="2.8"/>
<circle cx="907.3" cy="1356.9" r="7.1" fill="#0D67EE" fill-opacity="0.6" stroke="#000" stroke-opacity="0.82" stroke-width="2.8"/>
<circle cx="862.1" cy="1440.6" r="7.1" fill="#F2000F" fill-opacity="0.6" stroke="#000" stroke-opacity="0.82" stroke-width="2.8"/>
<circle cx="872.4" cy="1440.6" r="7.1" fill="#F2000F" fill-opacity="0.6" stroke="#000" stroke-opacity="0.82" stroke-width="2.8"/>
<path d="M207.0,1424.6 C210.4,1425.5 220.3,1430.6 227.1,1429.8 C233.8,1428.9 241.2,1424.2 247.6,1419.5 C254.1,1414.8 259.6,1408.4 265.6,1401.5 C271.6,1394.7 277.6,1387.0 283.6,1378.4 C289.6,1369.8 296.0,1358.3 301.6,1350.1 C307.2,1342.0 311.4,1334.7 317.0,1329.6 C322.6,1324.4 328.6,1322.0 335.0,1319.3 C341.4,1316.6 347.8,1315.1 355.5,1313.6 C363.3,1312.1 374.4,1311.0 381.2,1310.3 C388.1,1309.6 390.2,1309.1 396.7,1309.5 C403.1,1310.0 411.6,1310.8 419.8,1312.9 C427.9,1314.9 436.9,1318.7 445.5,1321.9 C454.0,1325.1 462.6,1328.9 471.2,1332.1 C479.7,1335.4 488.3,1339.2 496.9,1341.1 C505.4,1343.1 511.9,1343.4 522.6,1343.7 C533.3,1344.0 548.2,1343.6 561.1,1342.9 C574.0,1342.3 579.6,1339.9 600.0,1339.9 C620.4,1339.9 656.0,1340.7 683.2,1342.9 C710.5,1345.2 736.7,1350.0 763.4,1353.2 C790.1,1356.5 822.9,1361.3 843.6,1362.5 C864.3,1363.7 875.5,1361.1 887.8,1360.4 C900.0,1359.7 912.3,1358.7 917.2,1358.4 L917.2,1428.2 C904.9,1425.8 869.2,1417.5 843.6,1413.9 C818.0,1410.3 790.1,1409.1 763.4,1406.7 C736.7,1404.3 710.5,1402.0 683.2,1399.5 C656.0,1396.9 616.1,1393.0 600.0,1391.2 C583.9,1389.4 597.6,1390.4 586.8,1388.7 C576.0,1387.0 548.3,1382.9 535.4,1381.0 C522.6,1379.0 518.3,1378.8 509.7,1377.1 C501.1,1375.4 492.6,1372.8 484.0,1370.7 C475.5,1368.5 466.9,1366.6 458.3,1364.3 C449.8,1361.9 441.2,1358.7 432.6,1356.6 C424.1,1354.4 415.5,1352.5 406.9,1351.4 C398.4,1350.3 389.8,1350.1 381.2,1350.1 C372.7,1350.1 363.3,1350.1 355.5,1351.4 C347.8,1352.7 341.4,1354.8 335.0,1357.8 C328.6,1360.8 322.6,1364.9 317.0,1369.4 C311.4,1373.9 307.2,1378.8 301.6,1384.8 C296.0,1390.8 289.6,1398.7 283.6,1405.4 C277.6,1412.0 271.6,1419.1 265.6,1424.6 C259.6,1430.2 254.1,1434.5 247.6,1438.8 C241.2,1443.1 233.8,1446.3 227.1,1450.3 C220.3,1454.4 210.4,1461.0 207.0,1463.2 Z" fill="#999999" fill-opacity="0.4"/>
<path d="M207.0,1443.9 C210.4,1443.3 220.3,1442.6 227.1,1440.1 C233.8,1437.5 241.2,1433.2 247.6,1428.5 C254.1,1423.8 259.6,1418.0 265.6,1411.8 C271.6,1405.6 277.6,1398.5 283.6,1391.2 C289.6,1384.0 296.0,1374.8 301.6,1368.1 C307.2,1361.5 311.4,1356.3 317.0,1351.4 C322.6,1346.5 328.6,1341.9 335.0,1338.6 C341.4,1335.3 347.8,1333.1 355.5,1331.6 C363.3,1330.1 372.7,1329.8 381.2,1329.6 C389.8,1329.4 398.4,1329.3 406.9,1330.3 C415.5,1331.4 424.1,1333.6 432.6,1336.0 C441.2,1338.4 449.8,1341.5 458.3,1344.5 C466.9,1347.5 475.5,1351.3 484.0,1354.0 C492.6,1356.6 501.1,1358.9 509.7,1360.4 C518.3,1361.9 522.6,1362.1 535.4,1363.0 C548.3,1363.8 562.2,1364.0 586.8,1365.5 C611.4,1367.1 653.8,1369.8 683.2,1372.1 C712.7,1374.5 736.7,1377.1 763.4,1379.5 C790.1,1382.0 818.0,1384.4 843.6,1386.7 C869.2,1389.0 904.9,1392.2 917.2,1393.3" fill="none" stroke="#3366FF" stroke-width="10" />
</g>
<line x1="158.00" y1="1193.40" x2="169.60" y2="1193.40" stroke="#333333" stroke-width="4.5" />
<text x="148.70" y="1202.30" font-size="25" fill="#4D4D4D" text-anchor="end" >1000000</text>
<line x1="158.00" y1="1242.75" x2="169.60" y2="1242.75" stroke="#333333" stroke-width="4.5" />
<text x="148.70" y="1251.65" font-size="25" fill="#4D4D4D" text-anchor="end" >100000</text>
<line x1="158.00" y1="1292.10" x2="169.60" y2="1292.10" stroke="#333333" stroke-width="4.5" />
<text x="148.70" y="1301.00" font-size="25" fill="#4D4D4D" text-anchor="end" >10000</text>
<line x1="158.00" y1="1341.45" x2="169.60" y2="1341.45" stroke="#333333" stroke-width="4.5" />
<text x="148.70" y="1350.35" font-size="25" fill="#4D4D4D" text-anchor="end" >1000</text>
<line x1="158.00" y1="1390.80" x2="169.60" y2="1390.80" stroke="#333333" stroke-width="4.5" />
<text x="148.70" y="1399.70" font-size="25" fill="#4D4D4D" text-anchor="end" >100</text>
<line x1="158.00" y1="1440.15" x2="169.60" y2="1440.15" stroke="#333333" stroke-width="4.5" />
<text x="148.70" y="1449.05" font-size="25" fill="#4D4D4D" text-anchor="end" >10</text>
<rect x="169.20" y="1500.00" width="820.50" height="64.10" fill="#D9D9D9" />
<text x="579.45" y="1543.40" font-size="29.3" fill="#1A1A1A" text-anchor="middle" >in-hospital sample nAb positive</text>
<clipPath id="c14"><rect x="169.20" y="1564.10" width="820.50" height="307.90"/></clipPath><g clip-path="url(#c14)">
<line x1="169.20" y1="1623.39" x2="989.70" y2="1623.39" stroke="#EBEBEB" stroke-width="2.2" />
<line x1="169.20" y1="1614.70" x2="989.70" y2="1614.70" stroke="#EBEBEB" stroke-width="2.2" />
<line x1="169.20" y1="1608.54" x2="989.70" y2="1608.54" stroke="#EBEBEB" stroke-width="2.2" />
<line x1="169.20" y1="1603.76" x2="989.70" y2="1603.76" stroke="#EBEBEB" stroke-width="2.2" />
<line x1="169.20" y1="1599.85" x2="989.70" y2="1599.85" stroke="#EBEBEB" stroke-width="2.2" />
<line x1="169.20" y1="1596.54" x2="989.70" y2="1596.54" stroke="#EBEBEB" stroke-width="2.2" />
<line x1="169.20" y1="1593.68" x2="989.70" y2="1593.68" stroke="#EBEBEB" stroke-width="2.2" />
<line x1="169.20" y1="1591.16" x2="989.70" y2="1591.16" stroke="#EBEBEB" stroke-width="2.2" />
<line x1="169.20" y1="1672.74" x2="989.70" y2="1672.74" stroke="#EBEBEB" stroke-width="2.2" />
<line x1="169.20" y1="1664.05" x2="989.70" y2="1664.05" stroke="#EBEBEB" stroke-width="2.2" />
<line x1="169.20" y1="1657.89" x2="989.70" y2="1657.89" stroke="#EBEBEB" stroke-width="2.2" />
<line x1="169.20" y1="1653.11" x2="989.70" y2="1653.11" stroke="#EBEBEB" stroke-width="2.2" />
<line x1="169.20" y1="1649.20" x2="989.70" y2="1649.20" stroke="#EBEBEB" stroke-width="2.2" />
<line x1="169.20" y1="1645.89" x2="989.70" y2="1645.89" stroke="#EBEBEB" stroke-width="2.2" />
<line x1="169.20" y1="1643.03" x2="989.70" y2="1643.03" stroke="#EBEBEB" stroke-width="2.2" />
<line x1="169.20" y1="1640.51" x2="989.70" y2="1640.51" stroke="#EBEBEB" stroke-width="2.2" />
<line x1="169.20" y1="1722.09" x2="989.70" y2="1722.09" stroke="#EBEBEB" stroke-width="2.2" />
<line x1="169.20" y1="1713.40" x2="989.70" y2="1713.40" stroke="#EBEBEB" stroke-width="2.2" />
<line x1="169.20" y1="1707.24" x2="989.70" y2="1707.24" stroke="#EBEBEB" stroke-width="2.2" />
<line x1="169.20" y1="1702.46" x2="989.70" y2="1702.46" stroke="#EBEBEB" stroke-width="2.2" />
<line x1="169.20" y1="1698.55" x2="989.70" y2="1698.55" stroke="#EBEBEB" stroke-width="2.2" />
<line x1="169.20" y1="1695.24" x2="989.70" y2="1695.24" stroke="#EBEBEB" stroke-width="2.2" />
<line x1="169.20" y1="1692.38" x2="989.70" y2="1692.38" stroke="#EBEBEB" stroke-width="2.2" />
<line x1="169.20" y1="1689.86" x2="989.70" y2="1689.86" stroke="#EBEBEB" stroke-width="2.2" />
<line x1="169.20" y1="1771.44" x2="989.70" y2="1771.44" stroke="#EBEBEB" stroke-width="2.2" />
<line x1="169.20" y1="1762.75" x2="989.70" y2="1762.75" stroke="#EBEBEB" stroke-width="2.2" />
<line x1="169.20" y1="1756.59" x2="989.70" y2="1756.59" stroke="#EBEBEB" stroke-width="2.2" />
<line x1="169.20" y1="1751.81" x2="989.70" y2="1751.81" stroke="#EBEBEB" stroke-width="2.2" />
<line x1="169.20" y1="1747.90" x2="989.70" y2="1747.90" stroke="#EBEBEB" stroke-width="2.2" />
<line x1="169.20" y1="1744.59" x2="989.70" y2="1744.59" stroke="#EBEBEB" stroke-width="2.2" />
<line x1="169.20" y1="1741.73" x2="989.70" y2="1741.73" stroke="#EBEBEB" stroke-width="2.2" />
<line x1="169.20" y1="1739.21" x2="989.70" y2="1739.21" stroke="#EBEBEB" stroke-width="2.2" />
<line x1="169.20" y1="1820.79" x2="989.70" y2="1820.79" stroke="#EBEBEB" stroke-width="2.2" />
<line x1="169.20" y1="1812.10" x2="989.70" y2="1812.10" stroke="#EBEBEB" stroke-width="2.2" />
<line x1="169.20" y1="1805.94" x2="989.70" y2="1805.94" stroke="#EBEBEB" stroke-width="2.2" />
<line x1="169.20" y1="1801.16" x2="989.70" y2="1801.16" stroke="#EBEBEB" stroke-width="2.2" />
<line x1="169.20" y1="1797.25" x2="989.70" y2="1797.25" stroke="#EBEBEB" stroke-width="2.2" />
<line x1="169.20" y1="1793.94" x2="989.70" y2="1793.94" stroke="#EBEBEB" stroke-width="2.2" />
<line x1="169.20" y1="1791.08" x2="989.70" y2="1791.08" stroke="#EBEBEB" stroke-width="2.2" />
<line x1="169.20" y1="1788.56" x2="989.70" y2="1788.56" stroke="#EBEBEB" stroke-width="2.2" />
<line x1="169.20" y1="1870.14" x2="989.70" y2="1870.14" stroke="#EBEBEB" stroke-width="2.2" />
<line x1="169.20" y1="1861.45" x2="989.70" y2="1861.45" stroke="#EBEBEB" stroke-width="2.2" />
<line x1="169.20" y1="1855.29" x2="989.70" y2="1855.29" stroke="#EBEBEB" stroke-width="2.2" />
<line x1="169.20" y1="1850.51" x2="989.70" y2="1850.51" stroke="#EBEBEB" stroke-width="2.2" />
<line x1="169.20" y1="1846.60" x2="989.70" y2="1846.60" stroke="#EBEBEB" stroke-width="2.2" />
<line x1="169.20" y1="1843.29" x2="989.70" y2="1843.29" stroke="#EBEBEB" stroke-width="2.2" />
<line x1="169.20" y1="1840.43" x2="989.70" y2="1840.43" stroke="#EBEBEB" stroke-width="2.2" />
<line x1="169.20" y1="1837.91" x2="989.70" y2="1837.91" stroke="#EBEBEB" stroke-width="2.2" />
<line x1="283.46" y1="1564.10" x2="283.46" y2="1872.00" stroke="#EBEBEB" stroke-width="2.3" />
<line x1="443.49" y1="1564.10" x2="443.49" y2="1872.00" stroke="#EBEBEB" stroke-width="2.3" />
<line x1="603.51" y1="1564.10" x2="603.51" y2="1872.00" stroke="#EBEBEB" stroke-width="2.3" />
<line x1="763.54" y1="1564.10" x2="763.54" y2="1872.00" stroke="#EBEBEB" stroke-width="2.3" />
<line x1="923.56" y1="1564.10" x2="923.56" y2="1872.00" stroke="#EBEBEB" stroke-width="2.3" />
<line x1="169.20" y1="1588.90" x2="989.70" y2="1588.90" stroke="#BEBEBE" stroke-width="4.7" />
<line x1="169.20" y1="1638.25" x2="989.70" y2="1638.25" stroke="#BEBEBE" stroke-width="4.7" />
<line x1="169.20" y1="1687.60" x2="989.70" y2="1687.60" stroke="#BEBEBE" stroke-width="4.7" />
<line x1="169.20" y1="1736.95" x2="989.70" y2="1736.95" stroke="#BEBEBE" stroke-width="4.7" />
<line x1="169.20" y1="1786.30" x2="989.70" y2="1786.30" stroke="#BEBEBE" stroke-width="4.7" />
<line x1="169.20" y1="1835.65" x2="989.70" y2="1835.65" stroke="#BEBEBE" stroke-width="4.7" />
<line x1="203.45" y1="1564.10" x2="203.45" y2="1872.00" stroke="#BEBEBE" stroke-width="4.7" />
<line x1="363.48" y1="1564.10" x2="363.48" y2="1872.00" stroke="#BEBEBE" stroke-width="4.7" />
<line x1="523.50" y1="1564.10" x2="523.50" y2="1872.00" stroke="#BEBEBE" stroke-width="4.7" />
<line x1="683.52" y1="1564.10" x2="683.52" y2="1872.00" stroke="#BEBEBE" stroke-width="4.7" />
<line x1="843.55" y1="1564.10" x2="843.55" y2="1872.00" stroke="#BEBEBE" stroke-width="4.7" />
<circle cx="261.6" cy="1717.9" r="7.1" fill="#0D67EE" fill-opacity="0.6" stroke="#000" stroke-opacity="0.82" stroke-width="2.8"/>
<circle cx="226.1" cy="1665.3" r="7.1" fill="#00F014" fill-opacity="0.6" stroke="#000" stroke-opacity="0.82" stroke-width="2.8"/>
<circle cx="862.7" cy="1685.2" r="7.1" fill="#00F014" fill-opacity="0.6" stroke="#000" stroke-opacity="0.82" stroke-width="2.8"/>
<circle cx="209.6" cy="1673.5" r="7.1" fill="#0D67EE" fill-opacity="0.6" stroke="#000" stroke-opacity="0.82" stroke-width="2.8"/>
<circle cx="325.6" cy="1710.4" r="7.1" fill="#0D67EE" fill-opacity="0.6" stroke="#000" stroke-opacity="0.82" stroke-width="2.8"/>
<circle cx="315.5" cy="1737.2" r="7.1" fill="#0D67EE" fill-opacity="0.6" stroke="#000" stroke-opacity="0.82" stroke-width="2.8"/>
<circle cx="298.0" cy="1693.5" r="7.1" fill="#0D67EE" fill-opacity="0.6" stroke="#000" stroke-opacity="0.82" stroke-width="2.8"/>
<circle cx="341.8" cy="1728.6" r="7.1" fill="#00F014" fill-opacity="0.6" stroke="#000" stroke-opacity="0.82" stroke-width="2.8"/>
<circle cx="208.8" cy="1694.7" r="7.1" fill="#0D67EE" fill-opacity="0.6" stroke="#000" stroke-opacity="0.82" stroke-width="2.8"/>
<circle cx="226.1" cy="1775.8" r="7.1" fill="#00F014" fill-opacity="0.6" stroke="#000" stroke-opacity="0.82" stroke-width="2.8"/>
<circle cx="539.5" cy="1714.9" r="7.1" fill="#00F014" fill-opacity="0.6" stroke="#000" stroke-opacity="0.82" stroke-width="2.8"/>
<circle cx="308.8" cy="1724.9" r="7.1" fill="#0D67EE" fill-opacity="0.6" stroke="#000" stroke-opacity="0.82" stroke-width="2.8"/>
<circle cx="261.0" cy="1747.6" r="7.1" fill="#00F014" fill-opacity="0.6" stroke="#000" stroke-opacity="0.82" stroke-width="2.8"/>
<circle cx="244.9" cy="1667.8" r="7.1" fill="#00F014" fill-opacity="0.6" stroke="#000" stroke-opacity="0.82" stroke-width="2.8"/>
<circle cx="500.9" cy="1719.7" r="7.1" fill="#0D67EE" fill-opacity="0.6" stroke="#000" stroke-opacity="0.82" stroke-width="2.8"/>
<circle cx="241.5" cy="1709.0" r="7.1" fill="#0D67EE" fill-opacity="0.6" stroke="#000" stroke-opacity="0.82" stroke-width="2.8"/>
<circle cx="218.9" cy="1712.8" r="7.1" fill="#0D67EE" fill-opacity="0.6" stroke="#000" stroke-opacity="0.82" stroke-width="2.8"/>
<circle cx="952.3" cy="1702.7" r="7.1" fill="#00F014" fill-opacity="0.6" stroke="#000" stroke-opacity="0.82" stroke-width="2.8"/>
<circle cx="867.9" cy="1722.9" r="7.1" fill="#0D67EE" fill-opacity="0.6" stroke="#000" stroke-opacity="0.82" stroke-width="2.8"/>
<circle cx="283.9" cy="1733.4" r="7.1" fill="#00F014" fill-opacity="0.6" stroke="#000" stroke-opacity="0.82" stroke-width="2.8"/>
<circle cx="827.3" cy="1751.6" r="7.1" fill="#0D67EE" fill-opacity="0.6" stroke="#000" stroke-opacity="0.82" stroke-width="2.8"/>
<circle cx="253.1" cy="1730.8" r="7.1" fill="#00F014" fill-opacity="0.6" stroke="#000" stroke-opacity="0.82" stroke-width="2.8"/>
<circle cx="325.0" cy="1744.9" r="7.1" fill="#00F014" fill-opacity="0.6" stroke="#000" stroke-opacity="0.82" stroke-width="2.8"/>
<circle cx="325.0" cy="1643.4" r="7.1" fill="#00F014" fill-opacity="0.6" stroke="#000" stroke-opacity="0.82" stroke-width="2.8"/>
<circle cx="337.9" cy="1736.4" r="7.1" fill="#0D67EE" fill-opacity="0.6" stroke="#000" stroke-opacity="0.82" stroke-width="2.8"/>
<circle cx="907.9" cy="1705.6" r="7.1" fill="#00F014" fill-opacity="0.6" stroke="#000" stroke-opacity="0.82" stroke-width="2.8"/>
<circle cx="219.7" cy="1698.2" r="7.1" fill="#0D67EE" fill-opacity="0.6" stroke="#000" stroke-opacity="0.82" stroke-width="2.8"/>
<circle cx="533.4" cy="1721.1" r="7.1" fill="#00F014" fill-opacity="0.6" stroke="#000" stroke-opacity="0.82" stroke-width="2.8"/>
<circle cx="238.6" cy="1701.3" r="7.1" fill="#0D67EE" fill-opacity="0.6" stroke="#000" stroke-opacity="0.82" stroke-width="2.8"/>
<circle cx="306.3" cy="1707.2" r="7.1" fill="#00F014" fill-opacity="0.6" stroke="#000" stroke-opacity="0.82" stroke-width="2.8"/>
<circle cx="333.2" cy="1738.0" r="7.1" fill="#00F014" fill-opacity="0.6" stroke="#000" stroke-opacity="0.82" stroke-width="2.8"/>
<circle cx="312.2" cy="1664.5" r="7.1" fill="#0D67EE" fill-opacity="0.6" stroke="#000" stroke-opacity="0.82" stroke-width="2.8"/>
<circle cx="570.1" cy="1739.5" r="7.1" fill="#F2000F" fill-opacity="0.6" stroke="#000" stroke-opacity="0.82" stroke-width="2.8"/>
<circle cx="341.9" cy="1728.1" r="7.1" fill="#0D67EE" fill-opacity="0.6" stroke="#000" stroke-opacity="0.82" stroke-width="2.8"/>
<circle cx="205.5" cy="1775.2" r="7.1" fill="#F2000F" fill-opacity="0.6" stroke="#000" stroke-opacity="0.82" stroke-width="2.8"/>
<circle cx="273.6" cy="1732.8" r="7.1" fill="#0D67EE" fill-opacity="0.6" stroke="#000" stroke-opacity="0.82" stroke-width="2.8"/>
<circle cx="840.1" cy="1767.2" r="7.1" fill="#00F014" fill-opacity="0.6" stroke="#000" stroke-opacity="0.82" stroke-width="2.8"/>
<circle cx="226.7" cy="1780.1" r="7.1" fill="#F2000F" fill-opacity="0.6" stroke="#000" stroke-opacity="0.82" stroke-width="2.8"/>
<circle cx="907.9" cy="1715.5" r="7.1" fill="#00F014" fill-opacity="0.6" stroke="#000" stroke-opacity="0.82" stroke-width="2.8"/>
<circle cx="491.0" cy="1735.8" r="7.1" fill="#00F014" fill-opacity="0.6" stroke="#000" stroke-opacity="0.82" stroke-width="2.8"/>
<circle cx="517.8" cy="1721.1" r="7.1" fill="#0D67EE" fill-opacity="0.6" stroke="#000" stroke-opacity="0.82" stroke-width="2.8"/>
<circle cx="424.5" cy="1709.0" r="7.1" fill="#0D67EE" fill-opacity="0.6" stroke="#000" stroke-opacity="0.82" stroke-width="2.8"/>
<circle cx="251.3" cy="1577.9" r="7.1" fill="#0D67EE" fill-opacity="0.6" stroke="#000" stroke-opacity="0.82" stroke-width="2.8"/>
<circle cx="337.9" cy="1697.4" r="7.1" fill="#00F014" fill-opacity="0.6" stroke="#000" stroke-opacity="0.82" stroke-width="2.8"/>
<circle cx="235.1" cy="1666.6" r="7.1" fill="#0D67EE" fill-opacity="0.6" stroke="#000" stroke-opacity="0.82" stroke-width="2.8"/>
<circle cx="321.2" cy="1750.8" r="7.1" fill="#0D67EE" fill-opacity="0.6" stroke="#000" stroke-opacity="0.82" stroke-width="2.8"/>
<circle cx="558.8" cy="1742.3" r="7.1" fill="#00F014" fill-opacity="0.6" stroke="#000" stroke-opacity="0.82" stroke-width="2.8"/>
<circle cx="219.5" cy="1689.8" r="7.1" fill="#0D67EE" fill-opacity="0.6" stroke="#000" stroke-opacity="0.82" stroke-width="2.8"/>
<circle cx="574.4" cy="1751.4" r="7.1" fill="#00F014" fill-opacity="0.6" stroke="#000" stroke-opacity="0.82" stroke-width="2.8"/>
<circle cx="475.4" cy="1779.6" r="7.1" fill="#F2000F" fill-opacity="0.6" stroke="#000" stroke-opacity="0.82" stroke-width="2.8"/>
<circle cx="939.8" cy="1745.1" r="7.1" fill="#0D67EE" fill-opacity="0.6" stroke="#000" stroke-opacity="0.82" stroke-width="2.8"/>
<circle cx="567.3" cy="1728.2" r="7.1" fill="#00F014" fill-opacity="0.6" stroke="#000" stroke-opacity="0.82" stroke-width="2.8"/>
<circle cx="528.6" cy="1751.1" r="7.1" fill="#00F014" fill-opacity="0.6" stroke="#000" stroke-opacity="0.82" stroke-width="2.8"/>
<circle cx="255.5" cy="1703.1" r="7.1" fill="#00F014" fill-opacity="0.6" stroke="#000" stroke-opacity="0.82" stroke-width="2.8"/>
<circle cx="895.6" cy="1749.2" r="7.1" fill="#00F014" fill-opacity="0.6" stroke="#000" stroke-opacity="0.82" stroke-width="2.8"/>
<circle cx="881.0" cy="1754.5" r="7.1" fill="#0D67EE" fill-opacity="0.6" stroke="#000" stroke-opacity="0.82" stroke-width="2.8"/>
<circle cx="258.2" cy="1691.0" r="7.1" fill="#0D67EE" fill-opacity="0.6" stroke="#000" stroke-opacity="0.82" stroke-width="2.8"/>
<circle cx="616.2" cy="1707.0" r="7.1" fill="#00F014" fill-opacity="0.6" stroke="#000" stroke-opacity="0.82" stroke-width="2.8"/>
<circle cx="840.1" cy="1731.0" r="7.1" fill="#00F014" fill-opacity="0.6" stroke="#000" stroke-opacity="0.82" stroke-width="2.8"/>
<circle cx="520.7" cy="1665.1" r="7.1" fill="#0D67EE" fill-opacity="0.6" stroke="#000" stroke-opacity="0.82" stroke-width="2.8"/>
<circle cx="571.5" cy="1721.7" r="7.1" fill="#00F014" fill-opacity="0.6" stroke="#000" stroke-opacity="0.82" stroke-width="2.8"/>
<circle cx="276.2" cy="1724.4" r="7.1" fill="#0D67EE" fill-opacity="0.6" stroke="#000" stroke-opacity="0.82" stroke-width="2.8"/>
<circle cx="243.1" cy="1695.4" r="7.1" fill="#00F014" fill-opacity="0.6" stroke="#000" stroke-opacity="0.82" stroke-width="2.8"/>
<circle cx="571.5" cy="1702.7" r="7.1" fill="#00F014" fill-opacity="0.6" stroke="#000" stroke-opacity="0.82" stroke-width="2.8"/>
<circle cx="332.7" cy="1680.7" r="7.1" fill="#0D67EE" fill-opacity="0.6" stroke="#000" stroke-opacity="0.82" stroke-width="2.8"/>
<circle cx="874.0" cy="1746.5" r="7.1" fill="#00F014" fill-opacity="0.6" stroke="#000" stroke-opacity="0.82" stroke-width="2.8"/>
<circle cx="214.5" cy="1717.9" r="7.1" fill="#0D67EE" fill-opacity="0.6" stroke="#000" stroke-opacity="0.82" stroke-width="2.8"/>
<circle cx="427.0" cy="1703.0" r="7.1" fill="#0D67EE" fill-opacity="0.6" stroke="#000" stroke-opacity="0.82" stroke-width="2.8"/>
<circle cx="500.9" cy="1764.9" r="7.1" fill="#0D67EE" fill-opacity="0.6" stroke="#000" stroke-opacity="0.82" stroke-width="2.8"/>
<circle cx="864.1" cy="1729.6" r="7.1" fill="#0D67EE" fill-opacity="0.6" stroke="#000" stroke-opacity="0.82" stroke-width="2.8"/>
<circle cx="211.5" cy="1742.2" r="7.1" fill="#00F014" fill-opacity="0.6" stroke="#000" stroke-opacity="0.82" stroke-width="2.8"/>
<circle cx="232.4" cy="1680.0" r="7.1" fill="#00F014" fill-opacity="0.6" stroke="#000" stroke-opacity="0.82" stroke-width="2.8"/>
<circle cx="587.1" cy="1723.1" r="7.1" fill="#0D67EE" fill-opacity="0.6" stroke="#000" stroke-opacity="0.82" stroke-width="2.8"/>
<circle cx="536.7" cy="1727.5" r="7.1" fill="#00F014" fill-opacity="0.6" stroke="#000" stroke-opacity="0.82" stroke-width="2.8"/>
<circle cx="869.2" cy="1757.9" r="7.1" fill="#0D67EE" fill-opacity="0.6" stroke="#000" stroke-opacity="0.82" stroke-width="2.8"/>
<circle cx="546.1" cy="1757.9" r="7.1" fill="#0D67EE" fill-opacity="0.6" stroke="#000" stroke-opacity="0.82" stroke-width="2.8"/>
<circle cx="223.0" cy="1705.4" r="7.1" fill="#00F014" fill-opacity="0.6" stroke="#000" stroke-opacity="0.82" stroke-width="2.8"/>
<circle cx="250.8" cy="1672.8" r="7.1" fill="#0D67EE" fill-opacity="0.6" stroke="#000" stroke-opacity="0.82" stroke-width="2.8"/>
<circle cx="254.4" cy="1705.1" r="7.1" fill="#0D67EE" fill-opacity="0.6" stroke="#000" stroke-opacity="0.82" stroke-width="2.8"/>
<circle cx="334.0" cy="1714.1" r="7.1" fill="#0D67EE" fill-opacity="0.6" stroke="#000" stroke-opacity="0.82" stroke-width="2.8"/>
<circle cx="827.3" cy="1761.5" r="7.1" fill="#00F014" fill-opacity="0.6" stroke="#000" stroke-opacity="0.82" stroke-width="2.8"/>
<circle cx="609.7" cy="1746.5" r="7.1" fill="#00F014" fill-opacity="0.6" stroke="#000" stroke-opacity="0.82" stroke-width="2.8"/>
<circle cx="325.0" cy="1689.7" r="7.1" fill="#00F014" fill-opacity="0.6" stroke="#000" stroke-opacity="0.82" stroke-width="2.8"/>
<circle cx="226.0" cy="1754.5" r="7.1" fill="#F2000F" fill-opacity="0.6" stroke="#000" stroke-opacity="0.82" stroke-width="2.8"/>
<circle cx="233.4" cy="1735.0" r="7.1" fill="#0D67EE" fill-opacity="0.6" stroke="#000" stroke-opacity="0.82" stroke-width="2.8"/>
<circle cx="301.9" cy="1730.3" r="7.1" fill="#00F014" fill-opacity="0.6" stroke="#000" stroke-opacity="0.82" stroke-width="2.8"/>
<circle cx="253.1" cy="1654.2" r="7.1" fill="#0D67EE" fill-opacity="0.6" stroke="#000" stroke-opacity="0.82" stroke-width="2.8"/>
<circle cx="567.3" cy="1716.9" r="7.1" fill="#0D67EE" fill-opacity="0.6" stroke="#000" stroke-opacity="0.82" stroke-width="2.8"/>
<circle cx="375.1" cy="1701.2" r="7.1" fill="#0D67EE" fill-opacity="0.6" stroke="#000" stroke-opacity="0.82" stroke-width="2.8"/>
<circle cx="335.5" cy="1728.8" r="7.1" fill="#0D67EE" fill-opacity="0.6" stroke="#000" stroke-opacity="0.82" stroke-width="2.8"/>
<circle cx="208.8" cy="1717.7" r="7.1" fill="#0D67EE" fill-opacity="0.6" stroke="#000" stroke-opacity="0.82" stroke-width="2.8"/>
<circle cx="215.8" cy="1801.4" r="7.1" fill="#00F014" fill-opacity="0.6" stroke="#000" stroke-opacity="0.82" stroke-width="2.8"/>
<circle cx="298.5" cy="1698.1" r="7.1" fill="#00F014" fill-opacity="0.6" stroke="#000" stroke-opacity="0.82" stroke-width="2.8"/>
<circle cx="250.0" cy="1703.4" r="7.1" fill="#0D67EE" fill-opacity="0.6" stroke="#000" stroke-opacity="0.82" stroke-width="2.8"/>
<circle cx="223.9" cy="1717.6" r="7.1" fill="#00F014" fill-opacity="0.6" stroke="#000" stroke-opacity="0.82" stroke-width="2.8"/>
<circle cx="568.7" cy="1698.5" r="7.1" fill="#00F014" fill-opacity="0.6" stroke="#000" stroke-opacity="0.82" stroke-width="2.8"/>
<circle cx="330.2" cy="1726.2" r="7.1" fill="#0D67EE" fill-opacity="0.6" stroke="#000" stroke-opacity="0.82" stroke-width="2.8"/>
<circle cx="344.9" cy="1693.7" r="7.1" fill="#0D67EE" fill-opacity="0.6" stroke="#000" stroke-opacity="0.82" stroke-width="2.8"/>
<circle cx="244.9" cy="1736.4" r="7.1" fill="#00F014" fill-opacity="0.6" stroke="#000" stroke-opacity="0.82" stroke-width="2.8"/>
<circle cx="891.3" cy="1742.9" r="7.1" fill="#00F014" fill-opacity="0.6" stroke="#000" stroke-opacity="0.82" stroke-width="2.8"/>
<circle cx="232.5" cy="1768.0" r="7.1" fill="#00F014" fill-opacity="0.6" stroke="#000" stroke-opacity="0.82" stroke-width="2.8"/>
<circle cx="785.5" cy="1752.2" r="7.1" fill="#F2000F" fill-opacity="0.6" stroke="#000" stroke-opacity="0.82" stroke-width="2.8"/>
<circle cx="303.2" cy="1711.5" r="7.1" fill="#0D67EE" fill-opacity="0.6" stroke="#000" stroke-opacity="0.82" stroke-width="2.8"/>
<circle cx="248.7" cy="1683.3" r="7.1" fill="#0D67EE" fill-opacity="0.6" stroke="#000" stroke-opacity="0.82" stroke-width="2.8"/>
<circle cx="358.4" cy="1730.8" r="7.1" fill="#0D67EE" fill-opacity="0.6" stroke="#000" stroke-opacity="0.82" stroke-width="2.8"/>
<circle cx="307.0" cy="1693.5" r="7.1" fill="#0D67EE" fill-opacity="0.6" stroke="#000" stroke-opacity="0.82" stroke-width="2.8"/>
<circle cx="212.7" cy="1780.9" r="7.1" fill="#F2000F" fill-opacity="0.6" stroke="#000" stroke-opacity="0.82" stroke-width="2.8"/>
<circle cx="229.4" cy="1705.1" r="7.1" fill="#0D67EE" fill-opacity="0.6" stroke="#000" stroke-opacity="0.82" stroke-width="2.8"/>
<circle cx="337.9" cy="1682.0" r="7.1" fill="#00F014" fill-opacity="0.6" stroke="#000" stroke-opacity="0.82" stroke-width="2.8"/>
<circle cx="213.8" cy="1726.8" r="7.1" fill="#0D67EE" fill-opacity="0.6" stroke="#000" stroke-opacity="0.82" stroke-width="2.8"/>
<circle cx="375.9" cy="1717.9" r="7.1" fill="#00F014" fill-opacity="0.6" stroke="#000" stroke-opacity="0.82" stroke-width="2.8"/>
<circle cx="888.1" cy="1731.0" r="7.1" fill="#00F014" fill-opacity="0.6" stroke="#000" stroke-opacity="0.82" stroke-width="2.8"/>
<circle cx="522.8" cy="1744.3" r="7.1" fill="#00F014" fill-opacity="0.6" stroke="#000" stroke-opacity="0.82" stroke-width="2.8"/>
<circle cx="341.7" cy="1688.4" r="7.1" fill="#00F014" fill-opacity="0.6" stroke="#000" stroke-opacity="0.82" stroke-width="2.8"/>
<circle cx="526.2" cy="1738.7" r="7.1" fill="#0D67EE" fill-opacity="0.6" stroke="#000" stroke-opacity="0.82" stroke-width="2.8"/>
<circle cx="273.1" cy="1742.4" r="7.1" fill="#0D67EE" fill-opacity="0.6" stroke="#000" stroke-opacity="0.82" stroke-width="2.8"/>
<circle cx="587.6" cy="1708.4" r="7.1" fill="#00F014" fill-opacity="0.6" stroke="#000" stroke-opacity="0.82" stroke-width="2.8"/>
<circle cx="318.6" cy="1711.5" r="7.1" fill="#0D67EE" fill-opacity="0.6" stroke="#000" stroke-opacity="0.82" stroke-width="2.8"/>
<circle cx="520.7" cy="1721.1" r="7.1" fill="#0D67EE" fill-opacity="0.6" stroke="#000" stroke-opacity="0.82" stroke-width="2.8"/>
<circle cx="221.0" cy="1791.8" r="7.1" fill="#00F014" fill-opacity="0.6" stroke="#000" stroke-opacity="0.82" stroke-width="2.8"/>
<circle cx="309.6" cy="1724.4" r="7.1" fill="#00F014" fill-opacity="0.6" stroke="#000" stroke-opacity="0.82" stroke-width="2.8"/>
<circle cx="359.7" cy="1712.3" r="7.1" fill="#00F014" fill-opacity="0.6" stroke="#000" stroke-opacity="0.82" stroke-width="2.8"/>
<circle cx="531.3" cy="1748.4" r="7.1" fill="#0D67EE" fill-opacity="0.6" stroke="#000" stroke-opacity="0.82" stroke-width="2.8"/>
<circle cx="430.4" cy="1739.0" r="7.1" fill="#00F014" fill-opacity="0.6" stroke="#000" stroke-opacity="0.82" stroke-width="2.8"/>
<circle cx="505.9" cy="1723.0" r="7.1" fill="#00F014" fill-opacity="0.6" stroke="#000" stroke-opacity="0.82" stroke-width="2.8"/>
<circle cx="875.4" cy="1724.8" r="7.1" fill="#0D67EE" fill-opacity="0.6" stroke="#000" stroke-opacity="0.82" stroke-width="2.8"/>
<circle cx="216.9" cy="1778.6" r="7.1" fill="#00F014" fill-opacity="0.6" stroke="#000" stroke-opacity="0.82" stroke-width="2.8"/>
<circle cx="303.2" cy="1694.8" r="7.1" fill="#00F014" fill-opacity="0.6" stroke="#000" stroke-opacity="0.82" stroke-width="2.8"/>
<circle cx="318.6" cy="1627.2" r="7.1" fill="#0D67EE" fill-opacity="0.6" stroke="#000" stroke-opacity="0.82" stroke-width="2.8"/>
<circle cx="843.7" cy="1765.5" r="7.1" fill="#00F014" fill-opacity="0.6" stroke="#000" stroke-opacity="0.82" stroke-width="2.8"/>
<circle cx="519.1" cy="1721.4" r="7.1" fill="#00F014" fill-opacity="0.6" stroke="#000" stroke-opacity="0.82" stroke-width="2.8"/>
<circle cx="228.9" cy="1761.2" r="7.1" fill="#0D67EE" fill-opacity="0.6" stroke="#000" stroke-opacity="0.82" stroke-width="2.8"/>
<circle cx="357.1" cy="1696.9" r="7.1" fill="#0D67EE" fill-opacity="0.6" stroke="#000" stroke-opacity="0.82" stroke-width="2.8"/>
<circle cx="391.8" cy="1697.4" r="7.1" fill="#00F014" fill-opacity="0.6" stroke="#000" stroke-opacity="0.82" stroke-width="2.8"/>
<circle cx="219.2" cy="1790.7" r="7.1" fill="#00F014" fill-opacity="0.6" stroke="#000" stroke-opacity="0.82" stroke-width="2.8"/>
<circle cx="229.4" cy="1723.1" r="7.1" fill="#0D67EE" fill-opacity="0.6" stroke="#000" stroke-opacity="0.82" stroke-width="2.8"/>
<circle cx="236.0" cy="1712.3" r="7.1" fill="#00F014" fill-opacity="0.6" stroke="#000" stroke-opacity="0.82" stroke-width="2.8"/>
<circle cx="341.7" cy="1702.5" r="7.1" fill="#00F014" fill-opacity="0.6" stroke="#000" stroke-opacity="0.82" stroke-width="2.8"/>
<circle cx="327.6" cy="1710.2" r="7.1" fill="#0D67EE" fill-opacity="0.6" stroke="#000" stroke-opacity="0.82" stroke-width="2.8"/>
<circle cx="507.4" cy="1722.0" r="7.1" fill="#00F014" fill-opacity="0.6" stroke="#000" stroke-opacity="0.82" stroke-width="2.8"/>
<circle cx="520.2" cy="1725.1" r="7.1" fill="#0D67EE" fill-opacity="0.6" stroke="#000" stroke-opacity="0.82" stroke-width="2.8"/>
<circle cx="517.0" cy="1769.2" r="7.1" fill="#00F014" fill-opacity="0.6" stroke="#000" stroke-opacity="0.82" stroke-width="2.8"/>
<circle cx="376.4" cy="1676.8" r="7.1" fill="#00F014" fill-opacity="0.6" stroke="#000" stroke-opacity="0.82" stroke-width="2.8"/>
<circle cx="520.7" cy="1760.7" r="7.1" fill="#0D67EE" fill-opacity="0.6" stroke="#000" stroke-opacity="0.82" stroke-width="2.8"/>
<circle cx="524.1" cy="1702.7" r="7.1" fill="#0D67EE" fill-opacity="0.6" stroke="#000" stroke-opacity="0.82" stroke-width="2.8"/>
<circle cx="852.8" cy="1749.4" r="7.1" fill="#00F014" fill-opacity="0.6" stroke="#000" stroke-opacity="0.82" stroke-width="2.8"/>
<circle cx="212.7" cy="1683.3" r="7.1" fill="#0D67EE" fill-opacity="0.6" stroke="#000" stroke-opacity="0.82" stroke-width="2.8"/>
<circle cx="510.2" cy="1754.5" r="7.1" fill="#00F014" fill-opacity="0.6" stroke="#000" stroke-opacity="0.82" stroke-width="2.8"/>
<circle cx="206.0" cy="1802.2" r="7.1" fill="#00F014" fill-opacity="0.6" stroke="#000" stroke-opacity="0.82" stroke-width="2.8"/>
<circle cx="257.7" cy="1651.7" r="7.1" fill="#0D67EE" fill-opacity="0.6" stroke="#000" stroke-opacity="0.82" stroke-width="2.8"/>
<circle cx="312.2" cy="1732.1" r="7.1" fill="#0D67EE" fill-opacity="0.6" stroke="#000" stroke-opacity="0.82" stroke-width="2.8"/>
<circle cx="510.8" cy="1740.9" r="7.1" fill="#0D67EE" fill-opacity="0.6" stroke="#000" stroke-opacity="0.82" stroke-width="2.8"/>
<circle cx="226.1" cy="1795.0" r="7.1" fill="#00F014" fill-opacity="0.6" stroke="#000" stroke-opacity="0.82" stroke-width="2.8"/>
<circle cx="347.8" cy="1723.3" r="7.1" fill="#00F014" fill-opacity="0.6" stroke="#000" stroke-opacity="0.82" stroke-width="2.8"/>
<circle cx="508.7" cy="1746.3" r="7.1" fill="#00F014" fill-opacity="0.6" stroke="#000" stroke-opacity="0.82" stroke-width="2.8"/>
<circle cx="223.6" cy="1751.3" r="7.1" fill="#0D67EE" fill-opacity="0.6" stroke="#000" stroke-opacity="0.82" stroke-width="2.8"/>
<circle cx="856.3" cy="1747.3" r="7.1" fill="#0D67EE" fill-opacity="0.6" stroke="#000" stroke-opacity="0.82" stroke-width="2.8"/>
<circle cx="532.8" cy="1763.5" r="7.1" fill="#00F014" fill-opacity="0.6" stroke="#000" stroke-opacity="0.82" stroke-width="2.8"/>
<circle cx="229.4" cy="1739.8" r="7.1" fill="#0D67EE" fill-opacity="0.6" stroke="#000" stroke-opacity="0.82" stroke-width="2.8"/>
<circle cx="255.1" cy="1752.6" r="7.1" fill="#00F014" fill-opacity="0.6" stroke="#000" stroke-opacity="0.82" stroke-width="2.8"/>
<circle cx="244.9" cy="1751.3" r="7.1" fill="#0D67EE" fill-opacity="0.6" stroke="#000" stroke-opacity="0.82" stroke-width="2.8"/>
<circle cx="224.8" cy="1797.6" r="7.1" fill="#F2000F" fill-opacity="0.6" stroke="#000" stroke-opacity="0.82" stroke-width="2.8"/>
<circle cx="274.4" cy="1689.2" r="7.1" fill="#0D67EE" fill-opacity="0.6" stroke="#000" stroke-opacity="0.82" stroke-width="2.8"/>
<circle cx="868.9" cy="1735.2" r="7.1" fill="#0D67EE" fill-opacity="0.6" stroke="#000" stroke-opacity="0.82" stroke-width="2.8"/>
<circle cx="532.0" cy="1715.5" r="7.1" fill="#0D67EE" fill-opacity="0.6" stroke="#000" stroke-opacity="0.82" stroke-width="2.8"/>
<circle cx="567.3" cy="1754.5" r="7.1" fill="#0D67EE" fill-opacity="0.6" stroke="#000" stroke-opacity="0.82" stroke-width="2.8"/>
<circle cx="321.2" cy="1674.3" r="7.1" fill="#0D67EE" fill-opacity="0.6" stroke="#000" stroke-opacity="0.82" stroke-width="2.8"/>
<circle cx="354.6" cy="1729.5" r="7.1" fill="#0D67EE" fill-opacity="0.6" stroke="#000" stroke-opacity="0.82" stroke-width="2.8"/>
<circle cx="213.3" cy="1762.9" r="7.1" fill="#00F014" fill-opacity="0.6" stroke="#000" stroke-opacity="0.82" stroke-width="2.8"/>
<circle cx="533.0" cy="1726.6" r="7.1" fill="#0D67EE" fill-opacity="0.6" stroke="#000" stroke-opacity="0.82" stroke-width="2.8"/>
<circle cx="344.0" cy="1717.2" r="7.1" fill="#0D67EE" fill-opacity="0.6" stroke="#000" stroke-opacity="0.82" stroke-width="2.8"/>
<circle cx="520.7" cy="1835.6" r="7.1" fill="#F2000F" fill-opacity="0.6" stroke="#000" stroke-opacity="0.82" stroke-width="2.8"/>
<circle cx="327.6" cy="1660.9" r="7.1" fill="#0D67EE" fill-opacity="0.6" stroke="#000" stroke-opacity="0.82" stroke-width="2.8"/>
<circle cx="904.5" cy="1706.1" r="7.1" fill="#00F014" fill-opacity="0.6" stroke="#000" stroke-opacity="0.82" stroke-width="2.8"/>
<circle cx="859.0" cy="1835.6" r="7.1" fill="#F2000F" fill-opacity="0.6" stroke="#000" stroke-opacity="0.82" stroke-width="2.8"/>
<circle cx="947.5" cy="1734.7" r="7.1" fill="#0D67EE" fill-opacity="0.6" stroke="#000" stroke-opacity="0.82" stroke-width="2.8"/>
<circle cx="309.6" cy="1683.3" r="7.1" fill="#00F014" fill-opacity="0.6" stroke="#000" stroke-opacity="0.82" stroke-width="2.8"/>
<circle cx="852.8" cy="1726.8" r="7.1" fill="#00F014" fill-opacity="0.6" stroke="#000" stroke-opacity="0.82" stroke-width="2.8"/>
<circle cx="296.4" cy="1736.5" r="7.1" fill="#0D67EE" fill-opacity="0.6" stroke="#000" stroke-opacity="0.82" stroke-width="2.8"/>
<circle cx="871.0" cy="1727.4" r="7.1" fill="#0D67EE" fill-opacity="0.6" stroke="#000" stroke-opacity="0.82" stroke-width="2.8"/>
<circle cx="296.1" cy="1704.6" r="7.1" fill="#00F014" fill-opacity="0.6" stroke="#000" stroke-opacity="0.82" stroke-width="2.8"/>
<circle cx="253.1" cy="1742.4" r="7.1" fill="#F2000F" fill-opacity="0.6" stroke="#000" stroke-opacity="0.82" stroke-width="2.8"/>
<circle cx="843.7" cy="1721.7" r="7.1" fill="#0D67EE" fill-opacity="0.6" stroke="#000" stroke-opacity="0.82" stroke-width="2.8"/>
<circle cx="222.3" cy="1677.6" r="7.1" fill="#0D67EE" fill-opacity="0.6" stroke="#000" stroke-opacity="0.82" stroke-width="2.8"/>
<circle cx="247.9" cy="1711.5" r="7.1" fill="#0D67EE" fill-opacity="0.6" stroke="#000" stroke-opacity="0.82" stroke-width="2.8"/>
<circle cx="235.6" cy="1648.6" r="7.1" fill="#00F014" fill-opacity="0.6" stroke="#000" stroke-opacity="0.82" stroke-width="2.8"/>
<circle cx="213.9" cy="1733.2" r="7.1" fill="#00F014" fill-opacity="0.6" stroke="#000" stroke-opacity="0.82" stroke-width="2.8"/>
<circle cx="235.1" cy="1788.6" r="7.1" fill="#F2000F" fill-opacity="0.6" stroke="#000" stroke-opacity="0.82" stroke-width="2.8"/>
<circle cx="248.9" cy="1665.3" r="7.1" fill="#00F014" fill-opacity="0.6" stroke="#000" stroke-opacity="0.82" stroke-width="2.8"/>
<circle cx="811.2" cy="1792.6" r="7.1" fill="#0D67EE" fill-opacity="0.6" stroke="#000" stroke-opacity="0.82" stroke-width="2.8"/>
<circle cx="232.1" cy="1728.5" r="7.1" fill="#00F014" fill-opacity="0.6" stroke="#000" stroke-opacity="0.82" stroke-width="2.8"/>
<circle cx="510.2" cy="1706.4" r="7.1" fill="#00F014" fill-opacity="0.6" stroke="#000" stroke-opacity="0.82" stroke-width="2.8"/>
<circle cx="539.9" cy="1746.5" r="7.1" fill="#00F014" fill-opacity="0.6" stroke="#000" stroke-opacity="0.82" stroke-width="2.8"/>
<circle cx="251.3" cy="1785.5" r="7.1" fill="#F2000F" fill-opacity="0.6" stroke="#000" stroke-opacity="0.82" stroke-width="2.8"/>
<circle cx="250.5" cy="1686.6" r="7.1" fill="#00F014" fill-opacity="0.6" stroke="#000" stroke-opacity="0.82" stroke-width="2.8"/>
<circle cx="321.2" cy="1724.4" r="7.1" fill="#00F014" fill-opacity="0.6" stroke="#000" stroke-opacity="0.82" stroke-width="2.8"/>
<circle cx="309.6" cy="1695.7" r="7.1" fill="#0D67EE" fill-opacity="0.6" stroke="#000" stroke-opacity="0.82" stroke-width="2.8"/>
<circle cx="351.4" cy="1715.9" r="7.1" fill="#00F014" fill-opacity="0.6" stroke="#000" stroke-opacity="0.82" stroke-width="2.8"/>
<circle cx="235.1" cy="1801.4" r="7.1" fill="#00F014" fill-opacity="0.6" stroke="#000" stroke-opacity="0.82" stroke-width="2.8"/>
<circle cx="222.3" cy="1755.2" r="7.1" fill="#00F014" fill-opacity="0.6" stroke="#000" stroke-opacity="0.82" stroke-width="2.8"/>
<circle cx="237.7" cy="1751.3" r="7.1" fill="#0D67EE" fill-opacity="0.6" stroke="#000" stroke-opacity="0.82" stroke-width="2.8"/>
<circle cx="876.1" cy="1748.5" r="7.1" fill="#00F014" fill-opacity="0.6" stroke="#000" stroke-opacity="0.82" stroke-width="2.8"/>
<circle cx="507.4" cy="1835.6" r="7.1" fill="#0D67EE" fill-opacity="0.6" stroke="#000" stroke-opacity="0.82" stroke-width="2.8"/>
<circle cx="261.6" cy="1699.4" r="7.1" fill="#0D67EE" fill-opacity="0.6" stroke="#000" stroke-opacity="0.82" stroke-width="2.8"/>
<circle cx="261.8" cy="1730.3" r="7.1" fill="#0D67EE" fill-opacity="0.6" stroke="#000" stroke-opacity="0.82" stroke-width="2.8"/>
<circle cx="255.7" cy="1676.3" r="7.1" fill="#0D67EE" fill-opacity="0.6" stroke="#000" stroke-opacity="0.82" stroke-width="2.8"/>
<circle cx="395.7" cy="1683.8" r="7.1" fill="#00F014" fill-opacity="0.6" stroke="#000" stroke-opacity="0.82" stroke-width="2.8"/>
<circle cx="508.0" cy="1709.9" r="7.1" fill="#0D67EE" fill-opacity="0.6" stroke="#000" stroke-opacity="0.82" stroke-width="2.8"/>
<circle cx="341.1" cy="1723.6" r="7.1" fill="#0D67EE" fill-opacity="0.6" stroke="#000" stroke-opacity="0.82" stroke-width="2.8"/>
<circle cx="350.7" cy="1703.8" r="7.1" fill="#0D67EE" fill-opacity="0.6" stroke="#000" stroke-opacity="0.82" stroke-width="2.8"/>
<circle cx="212.0" cy="1786.0" r="7.1" fill="#0D67EE" fill-opacity="0.6" stroke="#000" stroke-opacity="0.82" stroke-width="2.8"/>
<circle cx="804.7" cy="1801.1" r="7.1" fill="#0D67EE" fill-opacity="0.6" stroke="#000" stroke-opacity="0.82" stroke-width="2.8"/>
<circle cx="904.2" cy="1745.1" r="7.1" fill="#00F014" fill-opacity="0.6" stroke="#000" stroke-opacity="0.82" stroke-width="2.8"/>
<circle cx="500.9" cy="1688.0" r="7.1" fill="#0D67EE" fill-opacity="0.6" stroke="#000" stroke-opacity="0.82" stroke-width="2.8"/>
<circle cx="245.4" cy="1694.8" r="7.1" fill="#00F014" fill-opacity="0.6" stroke="#000" stroke-opacity="0.82" stroke-width="2.8"/>
<circle cx="232.0" cy="1804.0" r="7.1" fill="#0D67EE" fill-opacity="0.6" stroke="#000" stroke-opacity="0.82" stroke-width="2.8"/>
<circle cx="863.8" cy="1734.8" r="7.1" fill="#00F014" fill-opacity="0.6" stroke="#000" stroke-opacity="0.82" stroke-width="2.8"/>
<circle cx="208.6" cy="1720.2" r="7.1" fill="#0D67EE" fill-opacity="0.6" stroke="#000" stroke-opacity="0.82" stroke-width="2.8"/>
<circle cx="314.3" cy="1658.8" r="7.1" fill="#00F014" fill-opacity="0.6" stroke="#000" stroke-opacity="0.82" stroke-width="2.8"/>
<circle cx="292.9" cy="1727.6" r="7.1" fill="#00F014" fill-opacity="0.6" stroke="#000" stroke-opacity="0.82" stroke-width="2.8"/>
<circle cx="305.8" cy="1742.4" r="7.1" fill="#00F014" fill-opacity="0.6" stroke="#000" stroke-opacity="0.82" stroke-width="2.8"/>
<circle cx="493.8" cy="1748.8" r="7.1" fill="#F2000F" fill-opacity="0.6" stroke="#000" stroke-opacity="0.82" stroke-width="2.8"/>
<circle cx="389.3" cy="1723.9" r="7.1" fill="#0D67EE" fill-opacity="0.6" stroke="#000" stroke-opacity="0.82" stroke-width="2.8"/>
<circle cx="603.5" cy="1722.0" r="7.1" fill="#0D67EE" fill-opacity="0.6" stroke="#000" stroke-opacity="0.82" stroke-width="2.8"/>
<circle cx="218.3" cy="1716.3" r="7.1" fill="#00F014" fill-opacity="0.6" stroke="#000" stroke-opacity="0.82" stroke-width="2.8"/>
<circle cx="303.2" cy="1715.4" r="7.1" fill="#00F014" fill-opacity="0.6" stroke="#000" stroke-opacity="0.82" stroke-width="2.8"/>
<circle cx="305.8" cy="1633.7" r="7.1" fill="#00F014" fill-opacity="0.6" stroke="#000" stroke-opacity="0.82" stroke-width="2.8"/>
<circle cx="540.4" cy="1723.4" r="7.1" fill="#0D67EE" fill-opacity="0.6" stroke="#000" stroke-opacity="0.82" stroke-width="2.8"/>
<circle cx="517.8" cy="1704.1" r="7.1" fill="#00F014" fill-opacity="0.6" stroke="#000" stroke-opacity="0.82" stroke-width="2.8"/>
<circle cx="232.5" cy="1726.9" r="7.1" fill="#00F014" fill-opacity="0.6" stroke="#000" stroke-opacity="0.82" stroke-width="2.8"/>
<circle cx="232.4" cy="1641.6" r="7.1" fill="#0D67EE" fill-opacity="0.6" stroke="#000" stroke-opacity="0.82" stroke-width="2.8"/>
<circle cx="254.4" cy="1662.7" r="7.1" fill="#00F014" fill-opacity="0.6" stroke="#000" stroke-opacity="0.82" stroke-width="2.8"/>
<circle cx="542.8" cy="1703.4" r="7.1" fill="#0D67EE" fill-opacity="0.6" stroke="#000" stroke-opacity="0.82" stroke-width="2.8"/>
<circle cx="248.9" cy="1721.6" r="7.1" fill="#0D67EE" fill-opacity="0.6" stroke="#000" stroke-opacity="0.82" stroke-width="2.8"/>
<circle cx="344.3" cy="1716.1" r="7.1" fill="#0D67EE" fill-opacity="0.6" stroke="#000" stroke-opacity="0.82" stroke-width="2.8"/>
<circle cx="526.3" cy="1746.0" r="7.1" fill="#00F014" fill-opacity="0.6" stroke="#000" stroke-opacity="0.82" stroke-width="2.8"/>
<circle cx="395.7" cy="1736.7" r="7.1" fill="#0D67EE" fill-opacity="0.6" stroke="#000" stroke-opacity="0.82" stroke-width="2.8"/>
<circle cx="219.2" cy="1762.9" r="7.1" fill="#F2000F" fill-opacity="0.6" stroke="#000" stroke-opacity="0.82" stroke-width="2.8"/>
<circle cx="242.3" cy="1734.0" r="7.1" fill="#00F014" fill-opacity="0.6" stroke="#000" stroke-opacity="0.82" stroke-width="2.8"/>
<circle cx="389.3" cy="1690.2" r="7.1" fill="#0D67EE" fill-opacity="0.6" stroke="#000" stroke-opacity="0.82" stroke-width="2.8"/>
<circle cx="888.1" cy="1748.8" r="7.1" fill="#0D67EE" fill-opacity="0.6" stroke="#000" stroke-opacity="0.82" stroke-width="2.8"/>
<circle cx="330.2" cy="1692.3" r="7.1" fill="#00F014" fill-opacity="0.6" stroke="#000" stroke-opacity="0.82" stroke-width="2.8"/>
<path d="M205.5,1734.6 C207.7,1733.8 214.1,1731.4 218.4,1729.5 C222.7,1727.6 224.8,1726.3 231.2,1723.1 C237.7,1719.9 248.4,1713.9 256.9,1710.2 C265.5,1706.6 274.1,1703.5 282.6,1701.2 C291.2,1699.0 299.8,1697.6 308.3,1696.6 C316.9,1695.6 325.5,1695.0 334.0,1695.3 C342.6,1695.7 351.1,1697.3 359.7,1698.7 C368.3,1700.1 376.8,1702.1 385.4,1703.8 C394.0,1705.5 402.5,1707.0 411.1,1709.0 C419.7,1710.9 425.6,1712.8 436.8,1715.4 C448.0,1718.0 466.6,1722.1 478.3,1724.5 C489.9,1726.9 499.0,1728.5 506.5,1729.6 C514.1,1730.7 514.1,1730.7 523.5,1731.3 C532.9,1731.8 547.0,1732.2 563.1,1733.0 C579.1,1733.7 599.6,1734.9 619.6,1735.8 C639.6,1736.7 664.3,1737.9 683.2,1738.6 C702.0,1739.4 717.3,1740.0 732.6,1740.3 C748.0,1740.7 760.9,1741.1 775.0,1740.9 C789.2,1740.7 805.7,1739.8 817.4,1738.9 C829.2,1738.1 836.3,1737.0 845.7,1735.8 C855.1,1734.6 864.5,1733.4 874.0,1731.8 C883.4,1730.3 892.8,1728.8 902.2,1726.8 C911.7,1724.7 922.3,1722.1 930.5,1719.7 C938.7,1717.3 948.2,1713.8 951.7,1712.6 L951.7,1745.1 C948.2,1744.9 938.7,1743.9 930.5,1743.7 C922.3,1743.6 911.7,1743.8 902.2,1744.3 C892.8,1744.8 883.4,1745.8 874.0,1746.5 C864.5,1747.3 855.1,1748.0 845.7,1748.8 C836.3,1749.6 829.2,1750.6 817.4,1751.4 C805.7,1752.2 789.2,1753.4 775.0,1753.6 C760.9,1753.8 748.0,1753.4 732.6,1752.8 C717.3,1752.2 702.0,1751.0 683.2,1749.9 C664.3,1748.9 639.6,1747.6 619.6,1746.5 C599.6,1745.5 579.1,1744.4 563.1,1743.7 C547.0,1743.0 532.9,1742.8 523.5,1742.3 C514.1,1741.8 514.1,1741.8 506.5,1740.9 C499.0,1740.0 489.9,1739.0 478.3,1736.9 C466.6,1734.8 448.0,1730.7 436.8,1728.2 C425.6,1725.7 419.7,1723.7 411.1,1721.8 C402.5,1719.9 394.0,1718.4 385.4,1716.7 C376.8,1714.9 368.3,1713.0 359.7,1711.5 C351.1,1710.0 342.6,1708.1 334.0,1707.7 C325.5,1707.2 316.9,1707.9 308.3,1709.0 C299.8,1710.0 291.2,1711.7 282.6,1714.1 C274.1,1716.4 265.5,1719.2 256.9,1723.1 C248.4,1726.9 237.7,1733.4 231.2,1737.2 C224.8,1741.1 222.7,1743.4 218.4,1746.2 C214.1,1749.0 207.7,1752.6 205.5,1753.9 Z" fill="#999999" fill-opacity="0.4"/>
<path d="M205.5,1750.1 C207.7,1748.3 214.1,1743.0 218.4,1739.8 C222.7,1736.6 224.8,1734.6 231.2,1730.8 C237.7,1726.9 248.4,1720.5 256.9,1716.7 C265.5,1712.8 274.1,1710.0 282.6,1707.7 C291.2,1705.3 299.8,1703.6 308.3,1702.5 C316.9,1701.5 325.5,1700.8 334.0,1701.2 C342.6,1701.7 351.1,1703.6 359.7,1705.1 C368.3,1706.6 376.8,1708.5 385.4,1710.2 C394.0,1711.9 402.5,1713.4 411.1,1715.4 C419.7,1717.3 425.6,1719.2 436.8,1721.8 C448.0,1724.4 466.6,1728.8 478.3,1731.0 C489.9,1733.2 499.0,1734.3 506.5,1735.2 C514.1,1736.2 514.1,1736.2 523.5,1736.7 C532.9,1737.1 547.0,1737.4 563.1,1738.1 C579.1,1738.8 599.6,1739.9 619.6,1740.9 C639.6,1741.9 664.3,1743.3 683.2,1744.3 C702.0,1745.2 717.3,1746.1 732.6,1746.5 C748.0,1747.0 760.9,1747.3 775.0,1747.1 C789.2,1746.9 805.7,1745.9 817.4,1745.1 C829.2,1744.3 836.3,1743.2 845.7,1742.3 C855.1,1741.4 864.5,1740.6 874.0,1739.5 C883.4,1738.4 892.8,1737.0 902.2,1735.8 C911.7,1734.6 922.3,1733.5 930.5,1732.4 C938.7,1731.4 948.2,1730.1 951.7,1729.6" fill="none" stroke="#3366FF" stroke-width="10" />
</g>
<line x1="158.00" y1="1588.90" x2="169.60" y2="1588.90" stroke="#333333" stroke-width="4.5" />
<text x="148.70" y="1597.80" font-size="25" fill="#4D4D4D" text-anchor="end" >1000000</text>
<line x1="158.00" y1="1638.25" x2="169.60" y2="1638.25" stroke="#333333" stroke-width="4.5" />
<text x="148.70" y="1647.15" font-size="25" fill="#4D4D4D" text-anchor="end" >100000</text>
<line x1="158.00" y1="1687.60" x2="169.60" y2="1687.60" stroke="#333333" stroke-width="4.5" />
<text x="148.70" y="1696.50" font-size="25" fill="#4D4D4D" text-anchor="end" >10000</text>
<line x1="158.00" y1="1736.95" x2="169.60" y2="1736.95" stroke="#333333" stroke-width="4.5" />
<text x="148.70" y="1745.85" font-size="25" fill="#4D4D4D" text-anchor="end" >1000</text>
<line x1="158.00" y1="1786.30" x2="169.60" y2="1786.30" stroke="#333333" stroke-width="4.5" />
<text x="148.70" y="1795.20" font-size="25" fill="#4D4D4D" text-anchor="end" >100</text>
<line x1="158.00" y1="1835.65" x2="169.60" y2="1835.65" stroke="#333333" stroke-width="4.5" />
<text x="148.70" y="1844.55" font-size="25" fill="#4D4D4D" text-anchor="end" >10</text>
<line x1="203.45" y1="1871.90" x2="203.45" y2="1883.70" stroke="#333333" stroke-width="4.6" />
<text x="203.45" y="1908.60" font-size="21.2" fill="#000" text-anchor="middle" >0</text>
<line x1="363.48" y1="1871.90" x2="363.48" y2="1883.70" stroke="#333333" stroke-width="4.6" />
<text x="363.48" y="1908.60" font-size="21.2" fill="#000" text-anchor="middle" >50</text>
<line x1="523.50" y1="1871.90" x2="523.50" y2="1883.70" stroke="#333333" stroke-width="4.6" />
<text x="523.50" y="1908.60" font-size="21.2" fill="#000" text-anchor="middle" >100</text>
<line x1="683.52" y1="1871.90" x2="683.52" y2="1883.70" stroke="#333333" stroke-width="4.6" />
<text x="683.52" y="1908.60" font-size="21.2" fill="#000" text-anchor="middle" >150</text>
<line x1="843.55" y1="1871.90" x2="843.55" y2="1883.70" stroke="#333333" stroke-width="4.6" />
<text x="843.55" y="1908.60" font-size="21.2" fill="#000" text-anchor="middle" >200</text>
<text x="579.45" y="1947.00" font-size="33.5" fill="#000" text-anchor="middle" >Days post symptoms onset</text>
</svg>
</body></html>
